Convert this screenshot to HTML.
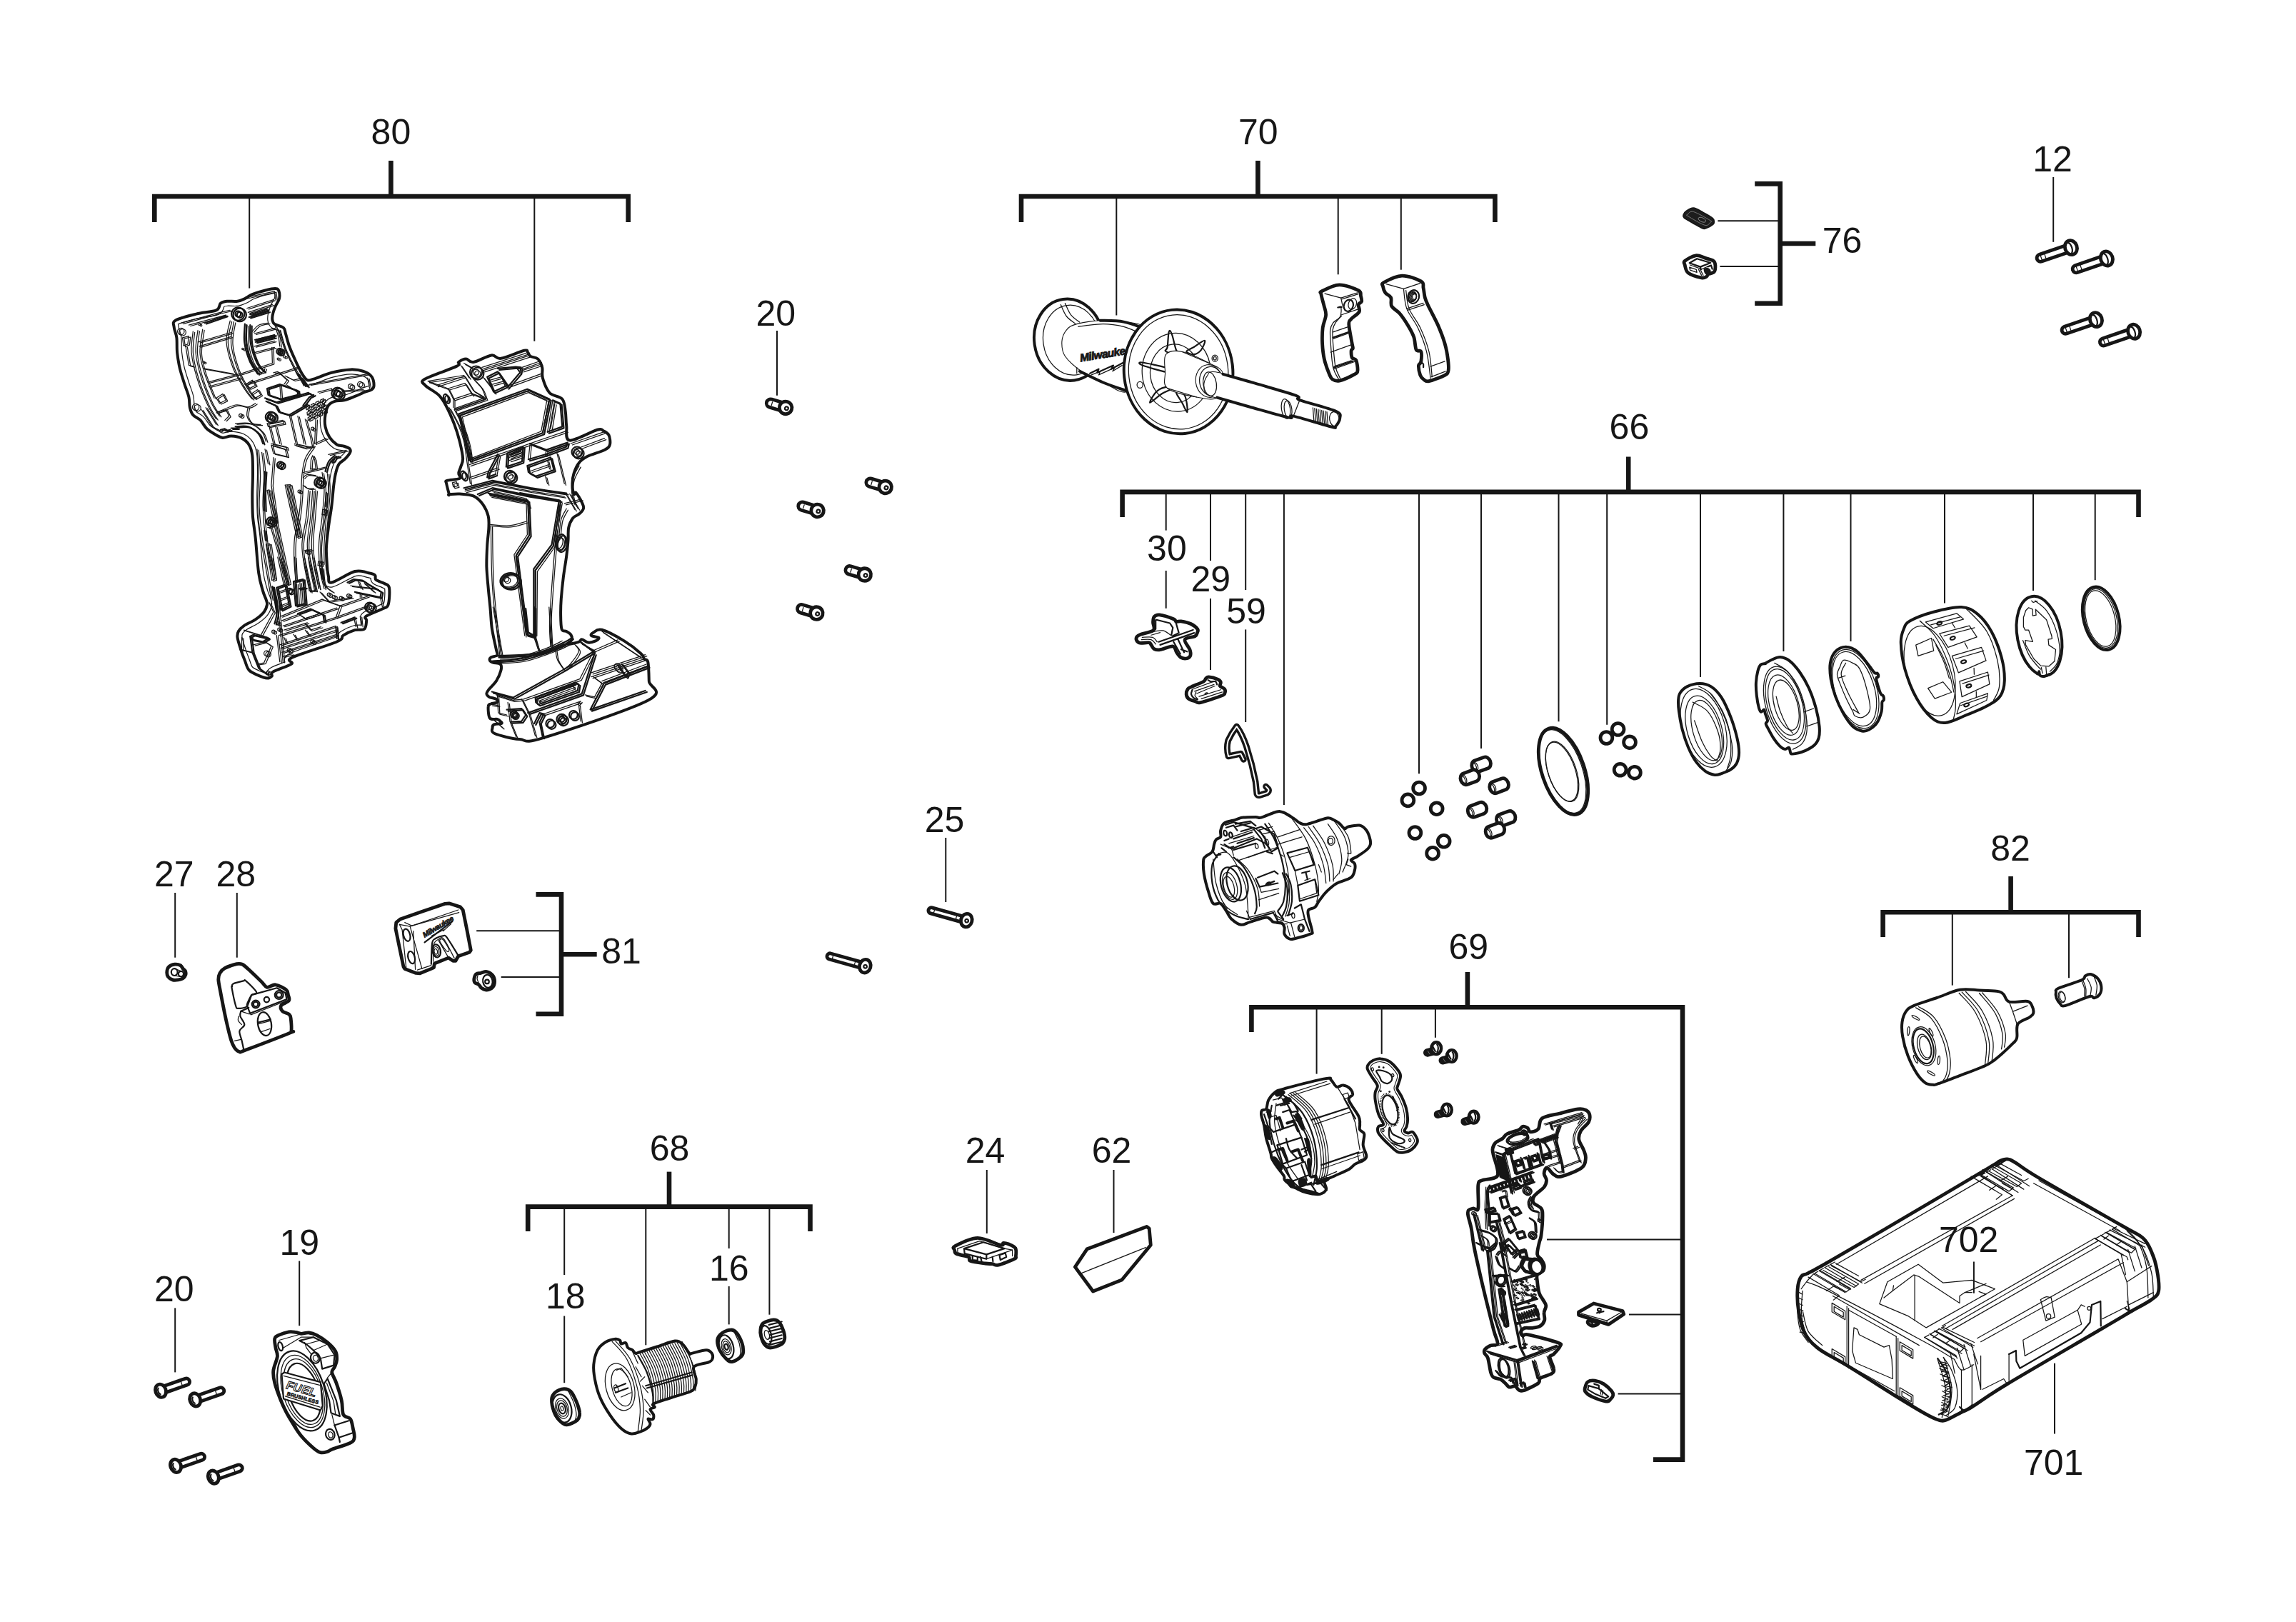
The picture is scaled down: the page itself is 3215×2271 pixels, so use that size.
<!DOCTYPE html>
<html><head><meta charset="utf-8"><title>Exploded view</title>
<style>
html,body{margin:0;padding:0;background:#fff;}
body{width:3215px;height:2271px;overflow:hidden;font-family:"Liberation Sans",sans-serif;}
svg{display:block}
text{font-family:"Liberation Sans",sans-serif;font-size:50px;fill:#161616;text-anchor:middle}
.k{fill:none;stroke:#161616;stroke-width:6.6;stroke-linecap:butt;stroke-linejoin:miter}
.n{fill:none;stroke:#161616;stroke-width:2.0}
.o{fill:#fff;stroke:#161616;stroke-width:4.0;stroke-linejoin:round;stroke-linecap:round}
.m{fill:none;stroke:#161616;stroke-width:2.2;stroke-linejoin:round;stroke-linecap:round}
.t{fill:none;stroke:#161616;stroke-width:1.25;stroke-linejoin:round;stroke-linecap:round}
.f{fill:#161616;stroke:none}
.o4{fill:#fff;stroke:#161616;stroke-width:4.8;stroke-linejoin:round;stroke-linecap:round}
.o,.o4,.m,.t,.w{vector-effect:non-scaling-stroke}
.w{fill:#fff;stroke:#161616;stroke-width:1.1;stroke-linejoin:round}
</style></head><body>
<svg width="3215" height="2271" viewBox="0 0 3215 2271">
<rect width="3215" height="2271" fill="#fff"/>
<!-- 00_defs.svg -->
<defs>
<g id="sA"><path class="o4" d="M0,-5.8H-22A5.8,5.8 0 0 0 -22,5.8H0Z"/><path class="t" d="M-20,-2.5V2.5"/><circle class="o4" r="8.8"/><circle class="m" cx="1.5" cy="0.5" r="2.4"/></g>
<g id="sB"><path class="o4" d="M0,-5.2H-45A5.2,5.2 0 0 0 -45,5.2H0Z"/><path class="t" d="M-38,-4V4M-44,-3V3"/><ellipse class="o4" rx="8.4" ry="10.2"/><path class="m" d="M-2.5,-8.5A5.5,9 0 0 1 -2.5,8.5"/></g>
<g id="sC"><path class="o4" d="M0,-4.2H-51A4.2,4.2 0 0 0 -51,4.2H0Z"/><path class="t" d="M-47,-2V2M-14,-3A2,3.5 0 0 0 -14,3"/><ellipse class="o4" rx="7.8" ry="9.4"/><circle class="m" cx="0.5" cy="0.5" r="2.3"/></g>
<g id="sD"><path class="o4" d="M0,-4.7H38A4.7,4.7 0 0 1 38,4.7H0Z"/><path class="t" d="M31,-3.5V3.5"/><ellipse class="o4" rx="7.3" ry="9.3"/><path class="m" d="M-2,-4.5A3,5 0 0 0 -2,4.5"/></g>
</defs>
<!-- 01_screws.svg -->
<g><use href="#sA" transform="translate(1100.1,570.9) rotate(16.6)"/>
<use href="#sA" transform="translate(1239.7,682) rotate(16.6)"/>
<use href="#sA" transform="translate(1144.6,715) rotate(16.6)"/>
<use href="#sA" transform="translate(1210.8,804.6) rotate(16.6)"/>
<use href="#sA" transform="translate(1143.4,858.6) rotate(16.6)"/>
<use href="#sB" transform="translate(2899.9,346.6) rotate(-18.9)"/>
<use href="#sB" transform="translate(2949.9,362) rotate(-18.9)"/>
<use href="#sB" transform="translate(2934.9,447.6) rotate(-18.9)"/>
<use href="#sB" transform="translate(2988.1,464.3) rotate(-18.9)"/>
<use href="#sC" transform="translate(1353.3,1288.6) rotate(15.6)"/>
<use href="#sC" transform="translate(1211.3,1352.7) rotate(15.6)"/>
<use href="#sD" transform="translate(225,1947.2) rotate(-19.3)"/>
<use href="#sD" transform="translate(273.2,1959.9) rotate(-19.3)"/>
<use href="#sD" transform="translate(246,2052.4) rotate(-19.3)"/>
<use href="#sD" transform="translate(298.8,2068.1) rotate(-19.3)"/></g>
<!-- 10_balls.svg -->
<circle class="o4" style="stroke-width:4.8" cx="1987.1" cy="1103.5" r="8.4"/><circle class="o4" style="stroke-width:4.8" cx="1971.4" cy="1120.4" r="8.4"/><circle class="o4" style="stroke-width:4.8" cx="2011.7" cy="1132.2" r="8.4"/><circle class="o4" style="stroke-width:4.8" cx="1981.4" cy="1166" r="8.4"/><circle class="o4" style="stroke-width:4.8" cx="2021.7" cy="1177.8" r="8.4"/><circle class="o4" style="stroke-width:4.8" cx="2006.1" cy="1194.7" r="8.4"/><circle class="o4" style="stroke-width:4.8" cx="2265.6" cy="1021" r="8.4"/><circle class="o4" style="stroke-width:4.8" cx="2249.4" cy="1033" r="8.4"/><circle class="o4" style="stroke-width:4.8" cx="2282" cy="1039.2" r="8.4"/><circle class="o4" style="stroke-width:4.8" cx="2268.6" cy="1077.8" r="8.4"/><circle class="o4" style="stroke-width:4.8" cx="2288.9" cy="1081.7" r="8.4"/><g transform="translate(2074.1,1070.4) rotate(-20)"><rect class="o4" x="-13.5" y="-8.3" width="27" height="16.6" rx="6.5" ry="8.3"/><path class="t" d="M-8.5,-6A3.2,6 0 0 1 -8.5,6M-10,-5.5A3,5.6 0 0 1 -10,5.5"/></g><g transform="translate(2058.3,1088.3) rotate(-20)"><rect class="o4" x="-13.5" y="-8.3" width="27" height="16.6" rx="6.5" ry="8.3"/><path class="t" d="M-8.5,-6A3.2,6 0 0 1 -8.5,6M-10,-5.5A3,5.6 0 0 1 -10,5.5"/></g><g transform="translate(2099.1,1100.2) rotate(-20)"><rect class="o4" x="-13.5" y="-8.3" width="27" height="16.6" rx="6.5" ry="8.3"/><path class="t" d="M-8.5,-6A3.2,6 0 0 1 -8.5,6M-10,-5.5A3,5.6 0 0 1 -10,5.5"/></g><g transform="translate(2068.5,1133.8) rotate(-20)"><rect class="o4" x="-13.5" y="-8.3" width="27" height="16.6" rx="6.5" ry="8.3"/><path class="t" d="M-8.5,-6A3.2,6 0 0 1 -8.5,6M-10,-5.5A3,5.6 0 0 1 -10,5.5"/></g><g transform="translate(2108.7,1145.9) rotate(-20)"><rect class="o4" x="-13.5" y="-8.3" width="27" height="16.6" rx="6.5" ry="8.3"/><path class="t" d="M-8.5,-6A3.2,6 0 0 1 -8.5,6M-10,-5.5A3,5.6 0 0 1 -10,5.5"/></g><g transform="translate(2093.4,1162.8) rotate(-20)"><rect class="o4" x="-13.5" y="-8.3" width="27" height="16.6" rx="6.5" ry="8.3"/><path class="t" d="M-8.5,-6A3.2,6 0 0 1 -8.5,6M-10,-5.5A3,5.6 0 0 1 -10,5.5"/></g><g transform="translate(2189,1079.8) rotate(-18.7)"><ellipse class="o4" rx="29.7" ry="63.2"/><ellipse class="t" cx="-1.2" rx="28" ry="61"/><ellipse class="t" cx="-1.5" cy="0" rx="19.5" ry="44"/><ellipse class="t" cx="-2.3" cy="0" rx="19" ry="43.2"/></g>
<!-- 11_rings.svg -->
<g transform="translate(2330,880) scale(0.16116)"><path class="o" d="M140,560C152.5,540.8 171.7,518.7 200,505C228.3,491.3 275,478 310,478C345,478 378.3,484.7 410,505C441.7,525.3 471.7,555.8 500,600C528.3,644.2 557.5,711.7 580,770C602.5,828.3 623,898.3 635,950C647,1001.7 652.5,1043.3 652,1080C651.5,1116.7 644,1145.8 632,1170C620,1194.2 602,1210 580,1225C558,1240 523.3,1252.2 500,1260C476.7,1267.8 463.3,1275.3 440,1272C416.7,1268.7 386.7,1258.7 360,1240C333.3,1221.3 305,1195 280,1160C255,1125 230,1076.7 210,1030C190,983.3 173.3,931.7 160,880C146.7,828.3 135.8,763.3 130,720C124.2,676.7 123.3,646.7 125,620C126.7,593.3 127.5,579.2 140,560Z"/><ellipse class="t" cx="345" cy="865" rx="185" ry="350" transform="rotate(-16 345 865)"/><ellipse class="t" cx="352" cy="880" rx="150" ry="305" transform="rotate(-16 352 880)"/><ellipse class="t" cx="370" cy="885" rx="118" ry="270" transform="rotate(-16 370 885)"/><path class="t" d="M300,500C320,513.3 381.7,533.3 420,580C458.3,626.7 501.7,710 530,780C558.3,850 580.8,938.3 590,1000C599.2,1061.7 593.3,1110.8 585,1150C576.7,1189.2 547.5,1220.8 540,1235"/><path class="t" d="M250,640C271.7,653.3 343.3,676.7 380,720C416.7,763.3 451.7,845 470,900C488.3,955 491.7,1008.3 490,1050C488.3,1091.7 465,1133.3 460,1150"/><path class="t" d="M265,800C275.8,830 307.5,930 330,980C352.5,1030 379.2,1071.7 400,1100C420.8,1128.3 445.8,1141.7 455,1150"/><path class="t" d="M400,560C418.3,586.7 481.7,663.3 510,720C538.3,776.7 558.3,836.7 570,900C581.7,963.3 583.3,1047.5 580,1100C576.7,1152.5 555,1195.8 550,1215"/><path class="o" d="M885,300C895,294.2 919.2,278.7 940,270C960.8,261.3 985,246.3 1010,248C1035,249.7 1061.7,258 1090,280C1118.3,302 1151.7,340 1180,380C1208.3,420 1236.7,468.3 1260,520C1283.3,571.7 1305,635 1320,690C1335,745 1345.8,806.7 1350,850C1354.2,893.3 1351.7,923.3 1345,950C1338.3,976.7 1329.2,991.7 1310,1010C1290.8,1028.3 1256.7,1047.5 1230,1060C1203.3,1072.5 1170.8,1080.3 1150,1085C1129.2,1089.7 1114.2,1092.2 1105,1088C1095.8,1083.8 1098.3,1068.8 1095,1060C1091.7,1051.2 1092.5,1037 1085,1035C1077.5,1033 1063.3,1050.5 1050,1048C1036.7,1045.5 1021.7,1036.3 1005,1020C988.3,1003.7 967.5,976.7 950,950C932.5,923.3 910.8,880.8 900,860C889.2,839.2 885,835 885,825C885,815 900.8,814.2 900,800C899.2,785.8 885,755.8 880,740C875,724.2 875.8,707.5 870,705C864.2,702.5 852.5,727.5 845,725C837.5,722.5 831.7,714.2 825,690C818.3,665.8 809.2,616.7 805,580C800.8,543.3 798.3,505 800,470C801.7,435 808.3,395.8 815,370C821.7,344.2 829.2,325.8 840,315C850.8,304.2 872.5,307.5 880,305C887.5,302.5 875,305.8 885,300Z"/><ellipse class="t" cx="1050" cy="665" rx="165" ry="345" transform="rotate(-16 1050 665)"/><ellipse class="t" cx="1045" cy="665" rx="125" ry="270" transform="rotate(-16 1045 665)"/><ellipse class="t" cx="1060" cy="665" rx="100" ry="225" transform="rotate(-16 1060 665)"/><ellipse class="t" cx="1050" cy="660" rx="150" ry="318" transform="rotate(-16 1050 660)"/><path class="t" d="M975,590C980.8,611.7 994.2,676.7 1010,720C1025.8,763.3 1051.7,818.3 1070,850C1088.3,881.7 1111.7,900 1120,910"/><path class="t" d="M1215,725L1300,695"/><path class="t" d="M1240,850L1340,815"/><path class="t" d="M960,300C980,313.3 1043.3,336.7 1080,380C1116.7,423.3 1154.2,496.7 1180,560C1205.8,623.3 1225,703.3 1235,760C1245,816.7 1245.8,860 1240,900C1234.2,940 1220,975 1200,1000C1180,1025 1133.3,1041.7 1120,1050"/><path class="o" d="M1445,300C1451.7,260 1467.5,223.3 1490,200C1512.5,176.7 1548.3,160 1580,160C1611.7,160 1646.7,173.3 1680,200C1713.3,226.7 1755,289.2 1780,320C1805,350.8 1817.5,373.3 1830,385C1842.5,396.7 1849.7,384.2 1855,390C1860.3,395.8 1863.7,411.7 1862,420C1860.3,428.3 1842,416.7 1845,440C1848,463.3 1870,535.8 1880,560C1890,584.2 1900,575 1905,585C1910,595 1911.7,610.8 1910,620C1908.3,629.2 1898.3,623.3 1895,640C1891.7,656.7 1897.5,690 1890,720C1882.5,750 1868.3,793.3 1850,820C1831.7,846.7 1801.7,868.3 1780,880C1758.3,891.7 1743.3,895 1720,890C1696.7,885 1666.7,875 1640,850C1613.3,825 1585,783.3 1560,740C1535,696.7 1508.3,640 1490,590C1471.7,540 1457.5,488.3 1450,440C1442.5,391.7 1438.3,340 1445,300Z"/><ellipse class="t" cx="1660" cy="525" rx="185" ry="355" transform="rotate(-18 1660 525)"/><ellipse class="t" cx="1655" cy="525" rx="170" ry="335" transform="rotate(-18 1655 525)"/><path class="t" d="M1560,275C1578.3,270 1616.7,287.5 1640,300C1663.3,312.5 1680,313.3 1700,350C1720,386.7 1745,461.7 1760,520C1775,578.3 1795,658.3 1790,700C1785,741.7 1751.7,760 1730,770C1708.3,780 1675,768.3 1660,760C1645,751.7 1653.3,746.7 1640,720C1626.7,693.3 1598.3,640 1580,600C1561.7,560 1542.5,513.3 1530,480C1517.5,446.7 1505,425 1505,400C1505,375 1520.8,350.8 1530,330C1539.2,309.2 1541.7,280 1560,275Z"/><path class="t" d="M1580,300C1573.3,316.7 1536.7,356.7 1540,400C1543.3,443.3 1575,505 1600,560C1625,615 1675,701.7 1690,730"/><path class="t" d="M1515,430L1575,410"/><path class="t" d="M1645,705L1700,740"/></g>
<!-- 12_collar.svg -->
<g transform="translate(2640,800) scale(0.16116)"><path class="o" d="M135,620C133.3,561.7 146.7,531.7 160,500C173.3,468.3 171.7,454.7 215,430C258.3,405.3 345.8,372 420,352C494.2,332 596.7,307 660,310C723.3,313 756.7,335 800,370C843.3,405 885,456.7 920,520C955,583.3 990.8,678.3 1010,750C1029.2,821.7 1036.7,895 1035,950C1033.3,1005 1022.5,1045 1000,1080C977.5,1115 950,1131.7 900,1160C850,1188.3 763.3,1224.2 700,1250C636.7,1275.8 570,1311.7 520,1315C470,1318.3 441.7,1305.8 400,1270C358.3,1234.2 308.3,1170 270,1100C231.7,1030 192.5,930 170,850C147.5,770 136.7,678.3 135,620Z"/><ellipse class="t" cx="385" cy="865" rx="205" ry="400" transform="rotate(-15 385 865)"/><path class="t" d="M300,430C321.7,451.7 390,501.7 430,560C470,618.3 511.7,706.7 540,780C568.3,853.3 588.3,933.3 600,1000C611.7,1066.7 611.7,1131.7 610,1180C608.3,1228.3 593.3,1271.7 590,1290"/><path class="t" d="M415,590C429.2,615 475.8,688.3 500,740C524.2,791.7 544.2,848.3 560,900C575.8,951.7 589.2,1025 595,1050"/><path class="t" d="M440,640C451.7,665 490.8,741.7 510,790C529.2,838.3 547.5,906.7 555,930"/><path class="t" d="M700,322C730,355 834.2,443.7 880,520C925.8,596.3 956.7,700 975,780C993.3,860 995.8,943.3 990,1000C984.2,1056.7 948.3,1100 940,1120"/><path class="t" d="M350,440L620,365L680,415L415,495Z"/><path class="t" d="M470,540L730,472L795,570L545,660Z"/><path class="t" d="M580,735L835,660L875,775L635,880Z"/><path class="t" d="M645,955L890,875L905,980L665,1090Z"/><path class="t" d="M650,1145L890,1060L880,1120L620,1240Z"/><path class="t" d="M395,465L655,395"/><path class="t" d="M510,560L775,490"/><path class="t" d="M610,760L855,690"/><path class="t" d="M670,975L900,900"/><path class="t" d="M655,1165L885,1085"/><path class="t" d="M265,640L400,580L420,690L285,735Z"/><path class="t" d="M370,1015L500,960L575,1050L430,1105Z"/><path class="t" d="M580,450L605,490M690,620L715,670M770,840L772,895M790,1045L790,1095"/><ellipse class="m" cx="470" cy="450" rx="22" ry="13" transform="rotate(-18 470 450)"/><ellipse class="m" cx="585" cy="580" rx="22" ry="13" transform="rotate(-18 585 580)"/><ellipse class="m" cx="680" cy="785" rx="22" ry="13" transform="rotate(-18 680 785)"/><ellipse class="m" cx="725" cy="995" rx="22" ry="13" transform="rotate(-18 725 995)"/><ellipse class="m" cx="705" cy="1160" rx="22" ry="13" transform="rotate(-18 705 1160)"/><ellipse class="o" cx="1337" cy="561" rx="190" ry="349" transform="rotate(-11 1337 561)"/><path class="o" d="M1335,870C1336.7,875.8 1337.5,898 1345,905C1352.5,912 1366.7,913.7 1380,912C1393.3,910.3 1417.5,897.8 1425,895"/><path class="t" d="M1245,315L1280,330L1280,385L1310,380L1305,330L1400,420L1445,560L1448,585L1415,590L1420,640L1480,680L1470,780L1420,825L1350,820L1290,760L1220,640L1215,600L1280,610L1245,510L1215,510L1200,480L1200,400L1220,340Z"/><path class="t" d="M1300,255C1316.7,269.2 1370,299.2 1400,340C1430,380.8 1460.8,443.3 1480,500C1499.2,556.7 1513.3,630 1515,680C1516.7,730 1504.2,768.3 1490,800C1475.8,831.7 1440,858.3 1430,870"/><path class="t" d="M1195,600C1204.2,621.7 1229.2,693.3 1250,730C1270.8,766.7 1303.3,800 1320,820C1336.7,840 1345,845 1350,850"/><path class="t" d="M1270,255L1285,270L1320,258M1355,835L1365,885M1395,830L1400,890"/></g>
<!-- 13_oring.svg -->
<g transform="translate(2942.2,865.8) rotate(-14)"><ellipse class="o" rx="24.7" ry="45.2"/><ellipse class="t" cx="-0.5" rx="22" ry="42.3"/><ellipse class="t" cx="-1" rx="20" ry="40"/></g>
<!-- 14_p30_29.svg -->
<g transform="translate(1570,840) scale(0.10480)"><path class="o4" d="M440,225C454.2,208.3 466.7,195 510,200C553.3,205 662.5,240 700,255C737.5,270 718.3,285 735,290C751.7,295 767.5,280 800,285C832.5,290 893.3,302.5 930,320C966.7,337.5 1005.8,370 1020,390C1034.2,410 1020.8,424.2 1015,440C1009.2,455.8 1012.5,470 985,485C957.5,500 861.7,500.8 850,530C838.3,559.2 902.5,625 915,660C927.5,695 930.8,720 925,740C919.2,760 900.8,775 880,780C859.2,785 823.3,783.3 800,770C776.7,756.7 758.3,725 740,700C721.7,675 726.7,625.8 690,620C653.3,614.2 561.7,659.2 520,665C478.3,670.8 460,665.8 440,655C420,644.2 411.7,614.2 400,600C388.3,585.8 395,574.2 370,570C345,565.8 277.5,580 250,575C222.5,570 211.7,554.2 205,540C198.3,525.8 200.8,503.3 210,490C219.2,476.7 223.3,474.2 260,460C296.7,445.8 402.5,431.7 430,405C457.5,378.3 423.3,330 425,300C426.7,270 425.8,241.7 440,225Z"/><path class="m" d="M470,265L650,310L690,370L670,470M460,270L460,390M500,560L960,400M520,600L975,440M730,300L770,440L690,480M760,530L840,700M700,560L790,720M800,660L880,690"/><path class="t" d="M280,500C303.3,500 386.7,490 420,500C453.3,510 470,550 480,560"/><path class="t" d="M270,530C291.7,530 368.3,520 400,530C431.7,540 450,580 460,590"/><path class="t" d="M440,420C460,418.3 523.3,401.7 560,410C596.7,418.3 643.3,460 660,470"/><path class="t" d="M400,470L520,435"/><path class="o4" d="M1130,1050C1141.7,1040 1143.3,1028.3 1170,1030C1196.7,1031.7 1263.3,1048.3 1290,1060C1316.7,1071.7 1325,1085 1330,1100C1335,1115 1311.7,1135 1320,1150C1328.3,1165 1369.2,1175 1380,1190C1390.8,1205 1391.7,1225 1385,1240C1378.3,1255 1394.2,1258.3 1340,1280C1285.8,1301.7 1118.3,1357.5 1060,1370C1001.7,1382.5 1016.7,1363.3 990,1355C963.3,1346.7 920,1335.8 900,1320C880,1304.2 871.7,1281.7 870,1260C868.3,1238.3 878.3,1206.7 890,1190C901.7,1173.3 905,1176.7 940,1160C975,1143.3 1068.3,1108.3 1100,1090C1131.7,1071.7 1118.3,1060 1130,1050Z"/><path class="t" d="M960,1190L1260,1080M980,1220L1240,1130M1010,1250L1250,1150M1040,1290L1330,1200M1070,1320L1350,1230"/><path class="m" d="M950,1200C947.5,1210 931.7,1241.7 935,1260C938.3,1278.3 955.8,1298.3 970,1310C984.2,1321.7 1011.7,1326.7 1020,1330"/><path class="t" d="M1000,1230C997.5,1238.3 981.7,1265 985,1280C988.3,1295 1014.2,1313.3 1020,1320"/><path class="m" d="M1160,1070C1166.7,1073.3 1183.3,1086.7 1200,1090C1216.7,1093.3 1246.7,1083.3 1260,1090C1273.3,1096.7 1276.7,1123.3 1280,1130"/><ellipse class="t" cx="1135" cy="1248" rx="18" ry="8" transform="rotate(-15 1135 1248)"/></g>
<!-- 15_p59.svg -->
<g transform="translate(1690,1000) scale(0.08016)"><path d="M375,735Q335,600 370,460Q430,330 520,215Q610,330 690,560Q790,870 850,1180L872,1390Q880,1425 920,1415L1050,1375Q1090,1350 1075,1310L1030,1262M375,735L590,690L640,790" fill="none" stroke="#161616" stroke-width="8.8" stroke-linecap="round" stroke-linejoin="round" vector-effect="non-scaling-stroke"/><path d="M375,735Q335,600 370,460Q430,330 520,215Q610,330 690,560Q790,870 850,1180L872,1390Q880,1425 920,1415L1050,1375Q1090,1350 1075,1310L1030,1262M375,735L590,690L640,790" fill="none" stroke="#fff" stroke-width="2" stroke-linecap="round" stroke-linejoin="round" vector-effect="non-scaling-stroke"/></g>
<!-- 20_hl.svg -->
<clipPath id="cphl"><path d="M245.9,448.5C251.1,445.4 265.3,442 274.8,439.6C284.3,437.3 297.2,436.9 302.9,434.4C308.6,432 306.4,426.9 308.8,424.8C311.3,422.7 313.8,422.3 317.7,421.8C321.7,421.3 328.3,422.5 332.5,421.8C336.7,421.2 339.5,419.7 342.9,418.1C346.4,416.5 348.3,414.2 353.3,412.2C358.2,410.2 367.1,407.6 372.5,406.3C378,404.9 382.9,403.9 385.9,404.1C388.8,404.2 389.4,404.7 390.3,407C391.2,409.4 391.8,414.6 391,418.1C390.3,421.7 387.3,425 385.9,428.5C384.4,432 382.9,435.7 382.2,438.9C381.4,442.1 381,445.3 381.4,447.8C381.8,450.2 381.8,451.8 384.4,453.7C387,455.5 394.4,456.6 397,458.9C399.5,461.1 398.6,462.7 399.9,467C401.3,471.3 402.8,478.4 405.1,484.8C407.4,491.2 411,499.1 414,505.5C416.9,511.9 420.2,518.8 422.9,523.3C425.6,527.7 427.6,530.9 430.3,532.2C433,533.4 433.5,532.4 439.2,530.7C444.8,529 455.7,524 464.3,521.8C473,519.6 483.3,517.6 491,517.4C498.6,517.1 505.3,518.6 510.2,520.3C515.2,522 518.4,524.5 520.6,527.7C522.8,530.9 523.6,536.6 523.6,539.6C523.6,542.5 522.8,543.9 520.6,545.5C518.4,547.1 513.9,547.7 510.2,549.2C506.5,550.7 503.1,552.5 498.4,554.4C493.7,556.2 487,559.1 482.1,560.3C477.2,561.5 472.5,560.5 468.8,561.8C465.1,563 462.1,564.5 459.9,567.7C457.7,570.9 456.2,576.1 455.5,581C454.7,586 454.5,592.1 455.5,597.3C456.4,602.5 458.7,607.9 461.4,612.1C464.1,616.3 468.5,620.4 471.7,622.5C474.9,624.5 477.7,623.5 480.6,624.4C483.6,625.4 487.9,626.7 489.5,628.1C491.1,629.6 491.2,631 490.3,633.3C489.3,635.7 486.2,639.5 483.6,642.2C481,644.9 476.9,646.4 474.7,649.6C472.5,652.8 471.5,656.5 470.3,661.5C469,666.4 468.3,671.3 467.3,679.2C466.3,687.1 465.6,699 464.3,708.8C463.1,718.7 461.1,728.6 459.9,738.5C458.7,748.3 457.2,758.2 456.9,768.1C456.7,778 458.3,793.7 458.4,797.7C458.5,801.7 457.4,790.4 457.7,791.8C457.9,793.3 458.8,802.7 459.9,806.7C461,810.6 458.2,816.7 464.3,815.5C470.5,814.4 488.3,802.2 496.9,800C505.6,797.8 511.5,801.3 516.2,802.2C520.9,803.1 523.3,803.6 525,805.2C526.8,806.8 524.3,809.9 526.5,811.8C528.8,813.8 535.3,815.2 538.4,817C541.5,818.9 544.2,818 545,822.9C545.9,827.9 545.2,841.7 543.6,846.6C542,851.6 540.6,849.8 535.4,852.6C530.2,855.3 516.2,860.2 512.5,862.9C508.8,865.6 513.6,865.9 513.2,868.8C512.8,871.8 513,878.5 510.2,880.7C507.5,882.9 501.9,880.7 496.9,882.2C492,883.7 484.8,886.9 480.6,889.6C476.4,892.3 483.7,893.3 471.7,898.5C459.8,903.6 419.4,915.5 408.8,920.7C398.2,925.9 412.5,926.2 408.1,929.6C403.6,932.9 386.7,937.8 382.2,940.7C377.6,943.5 382,945.1 380.7,946.6C379.3,948.1 377.1,949.7 374,949.6C370.9,949.4 366.4,947.7 362.2,945.9C358,944 352,941.9 348.8,938.4C345.6,935 344.9,930.1 342.9,925.1C340.9,920.2 338.7,914.3 337,908.8C335.3,903.4 333,896.7 332.5,892.5C332,888.3 332.5,886.4 334,883.7C335.5,880.9 337.5,879 341.4,876.3C345.4,873.5 353,870.6 357.7,867.4C362.4,864.2 366.8,860.5 369.6,857C372.3,853.5 373.5,849.6 374,846.6C374.5,843.7 373.5,842.4 372.5,839.2C371.5,836 369.8,833.6 368.1,827.4C366.4,821.2 363.9,814.6 362.2,802.2C360.4,789.9 359.1,766.4 357.7,753.3C356.4,740.2 354.8,733.5 354,723.7C353.3,713.8 353.3,703.9 353.3,694C353.3,684.2 354,673.8 354,664.4C354,655 354.1,644.7 353.3,637.8C352.4,630.9 351.3,627 348.8,623C346.4,618.9 342.7,615.7 338.5,613.6C334.3,611.6 328.1,610.8 323.7,610.6C319.2,610.5 315.3,613.1 311.8,612.9C308.4,612.6 306.6,611.3 302.9,609.2C299.2,607.1 293.3,603.7 289.6,600.3C285.9,596.8 283.9,591.6 280.7,588.4C277.5,585.2 272.8,584 270.3,581C267.9,578.1 266.9,574.9 265.9,570.7C264.9,566.5 265.7,561.3 264.4,555.9C263.2,550.4 260.6,544.7 258.5,538.1C256.4,531.4 253.6,523.3 251.8,515.9C250.1,508.5 248.9,500.8 248.1,493.7C247.4,486.5 248.1,478.8 247.4,472.9C246.7,467 243.9,462.2 243.7,458.1C243.4,454 240.7,451.6 245.9,448.5Z"/></clipPath><path d="M245.9,448.5C251.1,445.4 265.3,442 274.8,439.6C284.3,437.3 297.2,436.9 302.9,434.4C308.6,432 306.4,426.9 308.8,424.8C311.3,422.7 313.8,422.3 317.7,421.8C321.7,421.3 328.3,422.5 332.5,421.8C336.7,421.2 339.5,419.7 342.9,418.1C346.4,416.5 348.3,414.2 353.3,412.2C358.2,410.2 367.1,407.6 372.5,406.3C378,404.9 382.9,403.9 385.9,404.1C388.8,404.2 389.4,404.7 390.3,407C391.2,409.4 391.8,414.6 391,418.1C390.3,421.7 387.3,425 385.9,428.5C384.4,432 382.9,435.7 382.2,438.9C381.4,442.1 381,445.3 381.4,447.8C381.8,450.2 381.8,451.8 384.4,453.7C387,455.5 394.4,456.6 397,458.9C399.5,461.1 398.6,462.7 399.9,467C401.3,471.3 402.8,478.4 405.1,484.8C407.4,491.2 411,499.1 414,505.5C416.9,511.9 420.2,518.8 422.9,523.3C425.6,527.7 427.6,530.9 430.3,532.2C433,533.4 433.5,532.4 439.2,530.7C444.8,529 455.7,524 464.3,521.8C473,519.6 483.3,517.6 491,517.4C498.6,517.1 505.3,518.6 510.2,520.3C515.2,522 518.4,524.5 520.6,527.7C522.8,530.9 523.6,536.6 523.6,539.6C523.6,542.5 522.8,543.9 520.6,545.5C518.4,547.1 513.9,547.7 510.2,549.2C506.5,550.7 503.1,552.5 498.4,554.4C493.7,556.2 487,559.1 482.1,560.3C477.2,561.5 472.5,560.5 468.8,561.8C465.1,563 462.1,564.5 459.9,567.7C457.7,570.9 456.2,576.1 455.5,581C454.7,586 454.5,592.1 455.5,597.3C456.4,602.5 458.7,607.9 461.4,612.1C464.1,616.3 468.5,620.4 471.7,622.5C474.9,624.5 477.7,623.5 480.6,624.4C483.6,625.4 487.9,626.7 489.5,628.1C491.1,629.6 491.2,631 490.3,633.3C489.3,635.7 486.2,639.5 483.6,642.2C481,644.9 476.9,646.4 474.7,649.6C472.5,652.8 471.5,656.5 470.3,661.5C469,666.4 468.3,671.3 467.3,679.2C466.3,687.1 465.6,699 464.3,708.8C463.1,718.7 461.1,728.6 459.9,738.5C458.7,748.3 457.2,758.2 456.9,768.1C456.7,778 458.3,793.7 458.4,797.7C458.5,801.7 457.4,790.4 457.7,791.8C457.9,793.3 458.8,802.7 459.9,806.7C461,810.6 458.2,816.7 464.3,815.5C470.5,814.4 488.3,802.2 496.9,800C505.6,797.8 511.5,801.3 516.2,802.2C520.9,803.1 523.3,803.6 525,805.2C526.8,806.8 524.3,809.9 526.5,811.8C528.8,813.8 535.3,815.2 538.4,817C541.5,818.9 544.2,818 545,822.9C545.9,827.9 545.2,841.7 543.6,846.6C542,851.6 540.6,849.8 535.4,852.6C530.2,855.3 516.2,860.2 512.5,862.9C508.8,865.6 513.6,865.9 513.2,868.8C512.8,871.8 513,878.5 510.2,880.7C507.5,882.9 501.9,880.7 496.9,882.2C492,883.7 484.8,886.9 480.6,889.6C476.4,892.3 483.7,893.3 471.7,898.5C459.8,903.6 419.4,915.5 408.8,920.7C398.2,925.9 412.5,926.2 408.1,929.6C403.6,932.9 386.7,937.8 382.2,940.7C377.6,943.5 382,945.1 380.7,946.6C379.3,948.1 377.1,949.7 374,949.6C370.9,949.4 366.4,947.7 362.2,945.9C358,944 352,941.9 348.8,938.4C345.6,935 344.9,930.1 342.9,925.1C340.9,920.2 338.7,914.3 337,908.8C335.3,903.4 333,896.7 332.5,892.5C332,888.3 332.5,886.4 334,883.7C335.5,880.9 337.5,879 341.4,876.3C345.4,873.5 353,870.6 357.7,867.4C362.4,864.2 366.8,860.5 369.6,857C372.3,853.5 373.5,849.6 374,846.6C374.5,843.7 373.5,842.4 372.5,839.2C371.5,836 369.8,833.6 368.1,827.4C366.4,821.2 363.9,814.6 362.2,802.2C360.4,789.9 359.1,766.4 357.7,753.3C356.4,740.2 354.8,733.5 354,723.7C353.3,713.8 353.3,703.9 353.3,694C353.3,684.2 354,673.8 354,664.4C354,655 354.1,644.7 353.3,637.8C352.4,630.9 351.3,627 348.8,623C346.4,618.9 342.7,615.7 338.5,613.6C334.3,611.6 328.1,610.8 323.7,610.6C319.2,610.5 315.3,613.1 311.8,612.9C308.4,612.6 306.6,611.3 302.9,609.2C299.2,607.1 293.3,603.7 289.6,600.3C285.9,596.8 283.9,591.6 280.7,588.4C277.5,585.2 272.8,584 270.3,581C267.9,578.1 266.9,574.9 265.9,570.7C264.9,566.5 265.7,561.3 264.4,555.9C263.2,550.4 260.6,544.7 258.5,538.1C256.4,531.4 253.6,523.3 251.8,515.9C250.1,508.5 248.9,500.8 248.1,493.7C247.4,486.5 248.1,478.8 247.4,472.9C246.7,467 243.9,462.2 243.7,458.1C243.4,454 240.7,451.6 245.9,448.5Z" fill="#fff" stroke="none"/><g clip-path="url(#cphl)"><path d="M245.9,448.5C251.1,445.4 265.3,442 274.8,439.6C284.3,437.3 297.2,436.9 302.9,434.4C308.6,432 306.4,426.9 308.8,424.8C311.3,422.7 313.8,422.3 317.7,421.8C321.7,421.3 328.3,422.5 332.5,421.8C336.7,421.2 339.5,419.7 342.9,418.1C346.4,416.5 348.3,414.2 353.3,412.2C358.2,410.2 367.1,407.6 372.5,406.3C378,404.9 382.9,403.9 385.9,404.1C388.8,404.2 389.4,404.7 390.3,407C391.2,409.4 391.8,414.6 391,418.1C390.3,421.7 387.3,425 385.9,428.5C384.4,432 382.9,435.7 382.2,438.9C381.4,442.1 381,445.3 381.4,447.8C381.8,450.2 381.8,451.8 384.4,453.7C387,455.5 394.4,456.6 397,458.9C399.5,461.1 398.6,462.7 399.9,467C401.3,471.3 402.8,478.4 405.1,484.8C407.4,491.2 411,499.1 414,505.5C416.9,511.9 420.2,518.8 422.9,523.3C425.6,527.7 427.6,530.9 430.3,532.2C433,533.4 433.5,532.4 439.2,530.7C444.8,529 455.7,524 464.3,521.8C473,519.6 483.3,517.6 491,517.4C498.6,517.1 505.3,518.6 510.2,520.3C515.2,522 518.4,524.5 520.6,527.7C522.8,530.9 523.6,536.6 523.6,539.6C523.6,542.5 522.8,543.9 520.6,545.5C518.4,547.1 513.9,547.7 510.2,549.2C506.5,550.7 503.1,552.5 498.4,554.4C493.7,556.2 487,559.1 482.1,560.3C477.2,561.5 472.5,560.5 468.8,561.8C465.1,563 462.1,564.5 459.9,567.7C457.7,570.9 456.2,576.1 455.5,581C454.7,586 454.5,592.1 455.5,597.3C456.4,602.5 458.7,607.9 461.4,612.1C464.1,616.3 468.5,620.4 471.7,622.5C474.9,624.5 477.7,623.5 480.6,624.4C483.6,625.4 487.9,626.7 489.5,628.1C491.1,629.6 491.2,631 490.3,633.3C489.3,635.7 486.2,639.5 483.6,642.2C481,644.9 476.9,646.4 474.7,649.6C472.5,652.8 471.5,656.5 470.3,661.5C469,666.4 468.3,671.3 467.3,679.2C466.3,687.1 465.6,699 464.3,708.8C463.1,718.7 461.1,728.6 459.9,738.5C458.7,748.3 457.2,758.2 456.9,768.1C456.7,778 458.3,793.7 458.4,797.7C458.5,801.7 457.4,790.4 457.7,791.8C457.9,793.3 458.8,802.7 459.9,806.7C461,810.6 458.2,816.7 464.3,815.5C470.5,814.4 488.3,802.2 496.9,800C505.6,797.8 511.5,801.3 516.2,802.2C520.9,803.1 523.3,803.6 525,805.2C526.8,806.8 524.3,809.9 526.5,811.8C528.8,813.8 535.3,815.2 538.4,817C541.5,818.9 544.2,818 545,822.9C545.9,827.9 545.2,841.7 543.6,846.6C542,851.6 540.6,849.8 535.4,852.6C530.2,855.3 516.2,860.2 512.5,862.9C508.8,865.6 513.6,865.9 513.2,868.8C512.8,871.8 513,878.5 510.2,880.7C507.5,882.9 501.9,880.7 496.9,882.2C492,883.7 484.8,886.9 480.6,889.6C476.4,892.3 483.7,893.3 471.7,898.5C459.8,903.6 419.4,915.5 408.8,920.7C398.2,925.9 412.5,926.2 408.1,929.6C403.6,932.9 386.7,937.8 382.2,940.7C377.6,943.5 382,945.1 380.7,946.6C379.3,948.1 377.1,949.7 374,949.6C370.9,949.4 366.4,947.7 362.2,945.9C358,944 352,941.9 348.8,938.4C345.6,935 344.9,930.1 342.9,925.1C340.9,920.2 338.7,914.3 337,908.8C335.3,903.4 333,896.7 332.5,892.5C332,888.3 332.5,886.4 334,883.7C335.5,880.9 337.5,879 341.4,876.3C345.4,873.5 353,870.6 357.7,867.4C362.4,864.2 366.8,860.5 369.6,857C372.3,853.5 373.5,849.6 374,846.6C374.5,843.7 373.5,842.4 372.5,839.2C371.5,836 369.8,833.6 368.1,827.4C366.4,821.2 363.9,814.6 362.2,802.2C360.4,789.9 359.1,766.4 357.7,753.3C356.4,740.2 354.8,733.5 354,723.7C353.3,713.8 353.3,703.9 353.3,694C353.3,684.2 354,673.8 354,664.4C354,655 354.1,644.7 353.3,637.8C352.4,630.9 351.3,627 348.8,623C346.4,618.9 342.7,615.7 338.5,613.6C334.3,611.6 328.1,610.8 323.7,610.6C319.2,610.5 315.3,613.1 311.8,612.9C308.4,612.6 306.6,611.3 302.9,609.2C299.2,607.1 293.3,603.7 289.6,600.3C285.9,596.8 283.9,591.6 280.7,588.4C277.5,585.2 272.8,584 270.3,581C267.9,578.1 266.9,574.9 265.9,570.7C264.9,566.5 265.7,561.3 264.4,555.9C263.2,550.4 260.6,544.7 258.5,538.1C256.4,531.4 253.6,523.3 251.8,515.9C250.1,508.5 248.9,500.8 248.1,493.7C247.4,486.5 248.1,478.8 247.4,472.9C246.7,467 243.9,462.2 243.7,458.1C243.4,454 240.7,451.6 245.9,448.5Z" fill="none" stroke="#161616" stroke-width="14.2" stroke-linejoin="round"/><path d="M245.9,448.5C251.1,445.4 265.3,442 274.8,439.6C284.3,437.3 297.2,436.9 302.9,434.4C308.6,432 306.4,426.9 308.8,424.8C311.3,422.7 313.8,422.3 317.7,421.8C321.7,421.3 328.3,422.5 332.5,421.8C336.7,421.2 339.5,419.7 342.9,418.1C346.4,416.5 348.3,414.2 353.3,412.2C358.2,410.2 367.1,407.6 372.5,406.3C378,404.9 382.9,403.9 385.9,404.1C388.8,404.2 389.4,404.7 390.3,407C391.2,409.4 391.8,414.6 391,418.1C390.3,421.7 387.3,425 385.9,428.5C384.4,432 382.9,435.7 382.2,438.9C381.4,442.1 381,445.3 381.4,447.8C381.8,450.2 381.8,451.8 384.4,453.7C387,455.5 394.4,456.6 397,458.9C399.5,461.1 398.6,462.7 399.9,467C401.3,471.3 402.8,478.4 405.1,484.8C407.4,491.2 411,499.1 414,505.5C416.9,511.9 420.2,518.8 422.9,523.3C425.6,527.7 427.6,530.9 430.3,532.2C433,533.4 433.5,532.4 439.2,530.7C444.8,529 455.7,524 464.3,521.8C473,519.6 483.3,517.6 491,517.4C498.6,517.1 505.3,518.6 510.2,520.3C515.2,522 518.4,524.5 520.6,527.7C522.8,530.9 523.6,536.6 523.6,539.6C523.6,542.5 522.8,543.9 520.6,545.5C518.4,547.1 513.9,547.7 510.2,549.2C506.5,550.7 503.1,552.5 498.4,554.4C493.7,556.2 487,559.1 482.1,560.3C477.2,561.5 472.5,560.5 468.8,561.8C465.1,563 462.1,564.5 459.9,567.7C457.7,570.9 456.2,576.1 455.5,581C454.7,586 454.5,592.1 455.5,597.3C456.4,602.5 458.7,607.9 461.4,612.1C464.1,616.3 468.5,620.4 471.7,622.5C474.9,624.5 477.7,623.5 480.6,624.4C483.6,625.4 487.9,626.7 489.5,628.1C491.1,629.6 491.2,631 490.3,633.3C489.3,635.7 486.2,639.5 483.6,642.2C481,644.9 476.9,646.4 474.7,649.6C472.5,652.8 471.5,656.5 470.3,661.5C469,666.4 468.3,671.3 467.3,679.2C466.3,687.1 465.6,699 464.3,708.8C463.1,718.7 461.1,728.6 459.9,738.5C458.7,748.3 457.2,758.2 456.9,768.1C456.7,778 458.3,793.7 458.4,797.7C458.5,801.7 457.4,790.4 457.7,791.8C457.9,793.3 458.8,802.7 459.9,806.7C461,810.6 458.2,816.7 464.3,815.5C470.5,814.4 488.3,802.2 496.9,800C505.6,797.8 511.5,801.3 516.2,802.2C520.9,803.1 523.3,803.6 525,805.2C526.8,806.8 524.3,809.9 526.5,811.8C528.8,813.8 535.3,815.2 538.4,817C541.5,818.9 544.2,818 545,822.9C545.9,827.9 545.2,841.7 543.6,846.6C542,851.6 540.6,849.8 535.4,852.6C530.2,855.3 516.2,860.2 512.5,862.9C508.8,865.6 513.6,865.9 513.2,868.8C512.8,871.8 513,878.5 510.2,880.7C507.5,882.9 501.9,880.7 496.9,882.2C492,883.7 484.8,886.9 480.6,889.6C476.4,892.3 483.7,893.3 471.7,898.5C459.8,903.6 419.4,915.5 408.8,920.7C398.2,925.9 412.5,926.2 408.1,929.6C403.6,932.9 386.7,937.8 382.2,940.7C377.6,943.5 382,945.1 380.7,946.6C379.3,948.1 377.1,949.7 374,949.6C370.9,949.4 366.4,947.7 362.2,945.9C358,944 352,941.9 348.8,938.4C345.6,935 344.9,930.1 342.9,925.1C340.9,920.2 338.7,914.3 337,908.8C335.3,903.4 333,896.7 332.5,892.5C332,888.3 332.5,886.4 334,883.7C335.5,880.9 337.5,879 341.4,876.3C345.4,873.5 353,870.6 357.7,867.4C362.4,864.2 366.8,860.5 369.6,857C372.3,853.5 373.5,849.6 374,846.6C374.5,843.7 373.5,842.4 372.5,839.2C371.5,836 369.8,833.6 368.1,827.4C366.4,821.2 363.9,814.6 362.2,802.2C360.4,789.9 359.1,766.4 357.7,753.3C356.4,740.2 354.8,733.5 354,723.7C353.3,713.8 353.3,703.9 353.3,694C353.3,684.2 354,673.8 354,664.4C354,655 354.1,644.7 353.3,637.8C352.4,630.9 351.3,627 348.8,623C346.4,618.9 342.7,615.7 338.5,613.6C334.3,611.6 328.1,610.8 323.7,610.6C319.2,610.5 315.3,613.1 311.8,612.9C308.4,612.6 306.6,611.3 302.9,609.2C299.2,607.1 293.3,603.7 289.6,600.3C285.9,596.8 283.9,591.6 280.7,588.4C277.5,585.2 272.8,584 270.3,581C267.9,578.1 266.9,574.9 265.9,570.7C264.9,566.5 265.7,561.3 264.4,555.9C263.2,550.4 260.6,544.7 258.5,538.1C256.4,531.4 253.6,523.3 251.8,515.9C250.1,508.5 248.9,500.8 248.1,493.7C247.4,486.5 248.1,478.8 247.4,472.9C246.7,467 243.9,462.2 243.7,458.1C243.4,454 240.7,451.6 245.9,448.5Z" fill="none" stroke="#fff" stroke-width="11.8" stroke-linejoin="round"/></g><path class="o" style="fill:none" d="M245.9,448.5C251.1,445.4 265.3,442 274.8,439.6C284.3,437.3 297.2,436.9 302.9,434.4C308.6,432 306.4,426.9 308.8,424.8C311.3,422.7 313.8,422.3 317.7,421.8C321.7,421.3 328.3,422.5 332.5,421.8C336.7,421.2 339.5,419.7 342.9,418.1C346.4,416.5 348.3,414.2 353.3,412.2C358.2,410.2 367.1,407.6 372.5,406.3C378,404.9 382.9,403.9 385.9,404.1C388.8,404.2 389.4,404.7 390.3,407C391.2,409.4 391.8,414.6 391,418.1C390.3,421.7 387.3,425 385.9,428.5C384.4,432 382.9,435.7 382.2,438.9C381.4,442.1 381,445.3 381.4,447.8C381.8,450.2 381.8,451.8 384.4,453.7C387,455.5 394.4,456.6 397,458.9C399.5,461.1 398.6,462.7 399.9,467C401.3,471.3 402.8,478.4 405.1,484.8C407.4,491.2 411,499.1 414,505.5C416.9,511.9 420.2,518.8 422.9,523.3C425.6,527.7 427.6,530.9 430.3,532.2C433,533.4 433.5,532.4 439.2,530.7C444.8,529 455.7,524 464.3,521.8C473,519.6 483.3,517.6 491,517.4C498.6,517.1 505.3,518.6 510.2,520.3C515.2,522 518.4,524.5 520.6,527.7C522.8,530.9 523.6,536.6 523.6,539.6C523.6,542.5 522.8,543.9 520.6,545.5C518.4,547.1 513.9,547.7 510.2,549.2C506.5,550.7 503.1,552.5 498.4,554.4C493.7,556.2 487,559.1 482.1,560.3C477.2,561.5 472.5,560.5 468.8,561.8C465.1,563 462.1,564.5 459.9,567.7C457.7,570.9 456.2,576.1 455.5,581C454.7,586 454.5,592.1 455.5,597.3C456.4,602.5 458.7,607.9 461.4,612.1C464.1,616.3 468.5,620.4 471.7,622.5C474.9,624.5 477.7,623.5 480.6,624.4C483.6,625.4 487.9,626.7 489.5,628.1C491.1,629.6 491.2,631 490.3,633.3C489.3,635.7 486.2,639.5 483.6,642.2C481,644.9 476.9,646.4 474.7,649.6C472.5,652.8 471.5,656.5 470.3,661.5C469,666.4 468.3,671.3 467.3,679.2C466.3,687.1 465.6,699 464.3,708.8C463.1,718.7 461.1,728.6 459.9,738.5C458.7,748.3 457.2,758.2 456.9,768.1C456.7,778 458.3,793.7 458.4,797.7C458.5,801.7 457.4,790.4 457.7,791.8C457.9,793.3 458.8,802.7 459.9,806.7C461,810.6 458.2,816.7 464.3,815.5C470.5,814.4 488.3,802.2 496.9,800C505.6,797.8 511.5,801.3 516.2,802.2C520.9,803.1 523.3,803.6 525,805.2C526.8,806.8 524.3,809.9 526.5,811.8C528.8,813.8 535.3,815.2 538.4,817C541.5,818.9 544.2,818 545,822.9C545.9,827.9 545.2,841.7 543.6,846.6C542,851.6 540.6,849.8 535.4,852.6C530.2,855.3 516.2,860.2 512.5,862.9C508.8,865.6 513.6,865.9 513.2,868.8C512.8,871.8 513,878.5 510.2,880.7C507.5,882.9 501.9,880.7 496.9,882.2C492,883.7 484.8,886.9 480.6,889.6C476.4,892.3 483.7,893.3 471.7,898.5C459.8,903.6 419.4,915.5 408.8,920.7C398.2,925.9 412.5,926.2 408.1,929.6C403.6,932.9 386.7,937.8 382.2,940.7C377.6,943.5 382,945.1 380.7,946.6C379.3,948.1 377.1,949.7 374,949.6C370.9,949.4 366.4,947.7 362.2,945.9C358,944 352,941.9 348.8,938.4C345.6,935 344.9,930.1 342.9,925.1C340.9,920.2 338.7,914.3 337,908.8C335.3,903.4 333,896.7 332.5,892.5C332,888.3 332.5,886.4 334,883.7C335.5,880.9 337.5,879 341.4,876.3C345.4,873.5 353,870.6 357.7,867.4C362.4,864.2 366.8,860.5 369.6,857C372.3,853.5 373.5,849.6 374,846.6C374.5,843.7 373.5,842.4 372.5,839.2C371.5,836 369.8,833.6 368.1,827.4C366.4,821.2 363.9,814.6 362.2,802.2C360.4,789.9 359.1,766.4 357.7,753.3C356.4,740.2 354.8,733.5 354,723.7C353.3,713.8 353.3,703.9 353.3,694C353.3,684.2 354,673.8 354,664.4C354,655 354.1,644.7 353.3,637.8C352.4,630.9 351.3,627 348.8,623C346.4,618.9 342.7,615.7 338.5,613.6C334.3,611.6 328.1,610.8 323.7,610.6C319.2,610.5 315.3,613.1 311.8,612.9C308.4,612.6 306.6,611.3 302.9,609.2C299.2,607.1 293.3,603.7 289.6,600.3C285.9,596.8 283.9,591.6 280.7,588.4C277.5,585.2 272.8,584 270.3,581C267.9,578.1 266.9,574.9 265.9,570.7C264.9,566.5 265.7,561.3 264.4,555.9C263.2,550.4 260.6,544.7 258.5,538.1C256.4,531.4 253.6,523.3 251.8,515.9C250.1,508.5 248.9,500.8 248.1,493.7C247.4,486.5 248.1,478.8 247.4,472.9C246.7,467 243.9,462.2 243.7,458.1C243.4,454 240.7,451.6 245.9,448.5Z"/><g id="hld"><path class="t" d="M254.1,452.2C262.2,450 291.6,441.8 302.9,438.9C314.3,435.9 319,435.2 322.2,434.4"/><path class="t" d="M264.4,455.2L316.3,441.1"/><path class="t" d="M345.9,431.5L382.9,419.6"/><path class="t" d="M347.4,437.4L381.4,426.3"/><path class="m" d="M286.6,452.2L316.3,441.8"/><path class="m" d="M350.3,440.3L374,432.9"/><path class="m" d="M348.8,444.1L375.5,435.9"/><path class="t" d="M344.4,416.7L384.4,407.8L385.9,419.6"/><circle class="m" cx="333.3" cy="439.6" r="9.2"/><circle class="m" cx="333.3" cy="439.6" r="3.9"/><circle class="m" cx="379.2" cy="584" r="7.4"/><circle class="m" cx="379.2" cy="584" r="3.3"/><circle class="m" cx="472.5" cy="550.7" r="8.1"/><circle class="m" cx="472.5" cy="550.7" r="4"/><circle class="m" cx="391.8" cy="492.2" r="4.4"/><circle class="m" cx="391.8" cy="492.2" r="2.1"/><circle class="t" cx="253.3" cy="464" r="4.7"/><circle class="t" cx="274.1" cy="569.9" r="4.7"/><circle class="t" cx="337" cy="581.8" r="2.4"/><circle class="t" cx="491" cy="541" r="3.3"/><circle class="t" cx="504.3" cy="538.1" r="3.7"/><circle class="t" cx="389.6" cy="502.5" r="1.5"/><circle class="t" cx="398.4" cy="499.6" r="1.5"/><circle class="t" cx="437.7" cy="600.3" r="2.1"/><circle class="t" cx="285.2" cy="507" r="1.2"/><circle class="t" cx="339.9" cy="488.5" r="1.2"/><circle class="t" cx="279.2" cy="454.4" r="1.2"/><path class="t" d="M270.3,464C270,469 267.1,482.6 268.1,493.7C269.1,504.8 272.4,518.3 276.3,530.7C280.1,543 286.6,558.3 291.1,567.7C295.5,577.1 301,583.7 302.9,586.9"/><path class="t" d="M277,462.6C276.5,467.7 273.3,482.8 274.1,493.7C274.8,504.5 277.9,516.1 281.5,527.7C285,539.3 291.2,554.1 295.5,563.3C299.8,572.4 305.4,579.3 307.4,582.5"/><path class="t" d="M283.7,461.1C283.1,466.5 279.5,483.3 280,493.7C280.5,504 283.3,512.7 286.6,523.3C290,533.9 297.7,551.7 300,557.3"/><path class="t" d="M322.2,449.2C321.3,454.2 316.3,467.7 317,478.8C317.7,490 322.3,504.8 326.6,515.9C330.9,527 338.5,538.3 342.9,545.5C347.4,552.6 351.5,556.6 353.3,558.8"/><path class="t" d="M327.4,450.7C326.7,455.9 322.5,470.2 323.7,481.8C324.8,493.4 329.6,509 334,520.3C338.5,531.7 346.4,543.8 350.3,549.9C354.3,556.1 356.5,556.1 357.7,557.3"/><path class="m" d="M342.9,453.7C342.8,457.9 341.1,470.2 342.2,478.8C343.3,487.5 346.5,498.1 349.6,505.5C352.7,512.9 358.8,520.3 360.7,523.3"/><path class="m" d="M350.3,455.2C350.4,459.6 349.4,472.9 351.1,481.8C352.7,490.7 356.9,502 359.9,508.5C363,514.9 368,518.3 369.6,520.3"/><path class="t" d="M345.9,455.2C345.9,459.4 344.6,471.7 345.9,480.3C347.1,489 350.2,500.1 353.3,507C356.4,513.9 362.5,519.3 364.4,521.8"/><path class="t" d="M360.7,523.3L369.6,520.3L371,515.9"/><path class="t" d="M277.8,478.8L323.7,465.5"/><path class="t" d="M279.2,484.8L323.7,471.4"/><path class="t" d="M291.1,535.1L335.5,523.3"/><path class="t" d="M292.6,541L337,529.2"/><path class="t" d="M285.2,515.9L326.6,523.3"/><path class="t" d="M337,523.3L381.4,508.5L380.7,486.3"/><path class="t" d="M342.9,538.1L416.9,514.4"/><path class="t" d="M255.5,472.9L264.4,470.7L262.9,481.8L257,484Z"/><path class="t" d="M260,484.8L264.4,511.4L270.3,512.9"/><path class="t" d="M302.9,557.3L311.8,551.4L316.3,560.3L307.4,564.7Z"/><path class="t" d="M344.4,538.1L353.3,532.2L357.7,539.6L348.8,544Z"/><path class="t" d="M351.8,551.4L360.7,545.5L365.1,552.9L356.2,558.1Z"/><path class="t" d="M356.2,467L384.4,459.6"/><path class="t" d="M356.2,475.9L384.4,468.5"/><path class="t" d="M356.2,484.8L384.4,477.4"/><path class="t" d="M356.2,493.7L384.4,486.3"/><path class="m" d="M357.7,475.9L384.4,469.2"/><path class="m" d="M357.7,478.8L384.4,472.2"/><path class="t" d="M353.3,464C354.8,462.6 358.5,457.1 362.2,455.2C365.9,453.2 373.3,452.7 375.5,452.2"/><path class="t" d="M384.4,453.7L390.3,472.9L391.8,484.8"/><path class="t" d="M390.3,461.1C391.5,465.3 394.7,478.4 397.7,486.3C400.7,494.2 404.4,501.3 408.1,508.5C411.8,515.6 417.9,525.7 419.9,529.2"/><path class="m" d="M374,544L391.8,538.1L416.9,547L416.9,552.9L393.3,558.8L375.5,552.9Z"/><path class="t" d="M391.8,538.1L393.3,558.8"/><path class="t" d="M382.9,521.8L388.8,520.3L402.1,532.2L397.7,538.1"/><path class="m" d="M371,557.3L387.3,563.3L431.8,549.9L436.2,552.9"/><path class="m" d="M372.5,561.8L385.9,567.7L390.3,576.6L405.1,581L430.3,566.2"/><path class="t" d="M399.2,526.2L411,532.2L424.4,529.2"/><path class="t" d="M402.1,539.6L419.9,551.4"/><path class="m" d="M416.9,523.3L425.8,539.6"/><path class="m" d="M422.9,530.7L430.3,541"/><path class="t" d="M433.2,538.1L516.2,523.3"/><path class="t" d="M445.1,549.2L464.3,544L465.8,548.4"/><path class="t" d="M480.6,547L508.8,545.5"/><path class="t" d="M514.7,529.2L517.6,544"/><path class="t" d="M428.8,569.9L433.2,567.8L433.7,571.7L429.2,573.8Z"/><path class="t" d="M430,577.3L434.4,575.3L434.9,579.1L430.4,581.2Z"/><path class="t" d="M431.2,584.7L435.6,582.7L436.1,586.5L431.6,588.6Z"/><path class="t" d="M435.5,566.7L439.9,564.6L440.3,568.4L435.9,570.5Z"/><path class="t" d="M436.6,574.1L441.1,572L441.5,575.8L437.1,577.9Z"/><path class="t" d="M437.8,581.5L442.3,579.4L442.7,583.2L438.3,585.3Z"/><path class="t" d="M442.1,563.4L446.6,561.3L447,565.2L442.6,567.3Z"/><path class="t" d="M443.3,570.8L447.8,568.7L448.2,572.6L443.8,574.7Z"/><path class="t" d="M444.5,578.2L448.9,576.1L449.4,580L444.9,582.1Z"/><path class="t" d="M448.8,560.1L453.2,558.1L453.7,561.9L449.2,564Z"/><path class="t" d="M450,567.6L454.4,565.5L454.9,569.3L450.4,571.4Z"/><path class="t" d="M451.2,575L455.6,572.9L456,576.7L451.6,578.8Z"/><path class="m" d="M424.4,567.7L433.2,555.9L439.2,552.9"/><path class="t" d="M427.3,586.9L434.7,612.1L437.7,625.5"/><path class="t" d="M442.1,586.9L440.6,621"/><path class="t" d="M405.1,581L414,619.5"/><path class="t" d="M416.9,582.5L425.8,621"/><path class="t" d="M377,597.3L382.9,621"/><path class="t" d="M385.9,597.3L391.8,621"/><path class="t" d="M374,592.9L396.2,588.4L397.7,592.9L375.5,597.3Z"/><path class="t" d="M440.6,621L456.9,613.6"/><path class="t" d="M302.9,578.1C307.4,576.2 322.2,568.3 329.6,567C337,565.6 342.7,570.3 347.4,569.9C352,569.5 356,565.6 357.7,564.7"/><path class="t" d="M347.4,569.9C347.1,572 344.9,578.7 345.9,582.5C346.9,586.3 350.1,590.9 353.3,592.9C356.5,594.8 363.1,594.1 365.1,594.4"/><path class="m" d="M329.6,597.3C332.5,597.3 341.9,595.6 347.4,597.3C352.8,599 358.7,603.7 362.2,607.7C365.6,611.6 367.1,618.8 368.1,621"/><path class="t" d="M329.6,592.9C333,592.9 344.1,590.9 350.3,592.9C356.5,594.8 362.9,600.5 366.6,604.7C370.3,608.9 371.5,615.8 372.5,618"/><path class="t" d="M282.2,573.6L297,597.3L308.8,603.2"/><path class="t" d="M288.1,570.7L302.9,594.4"/><path class="m" d="M308.8,601.8L314.8,600.3L316.3,603.2L322.2,601.8"/><path class="m" d="M323.7,599.5L332.5,599.5"/><path class="t" d="M304.4,576.6L316.3,573.6L320.7,582.5L314.8,588.4"/><path class="t" d="M379.9,621L400.7,625.5L402.1,629.9"/><path class="t" d="M412.5,621L433.2,625.5"/><path class="t" d="M359.9,628.9C360.3,634.8 362,651.1 362.2,664.4C362.3,677.8 360.2,694 360.7,708.8C361.2,723.7 362.9,737.2 365.1,753.3C367.3,769.3 371.5,790.8 374,805.1C376.5,819.4 378.9,833.5 379.9,839.2"/><path class="t" d="M366.6,633.3C367.1,638.5 369.3,651.8 369.6,664.4C369.8,677 367.7,694 368.1,708.8C368.5,723.7 369.8,738.5 371.8,753.3C373.8,768.1 378.6,790.3 379.9,797.7"/><path class="m" d="M371,660C370.8,664.4 369.7,677.5 369.6,686.6C369.4,695.8 370.2,710.1 370.3,714.8"/><path class="m" d="M370.3,742.9L371.8,756.2"/><path class="m" d="M381.4,821.4C381.9,824.4 383.4,833.2 384.4,839.2C385.4,845.1 386.8,854 387.3,856.9"/><path class="t" d="M379.9,623L399.2,628.9L402.1,639.3L382.9,634.8Z"/><path class="t" d="M412.5,623L427.3,627.4L439.2,624.4"/><path class="t" d="M371,628.9L375.5,649.6"/><path class="t" d="M382.9,640.7L379.9,679.2L387.3,731.1"/><circle class="m" cx="392.5" cy="651.1" r="4.7"/><circle class="t" cx="392.5" cy="651.1" r="2.1"/><circle class="m" cx="379.2" cy="730.3" r="6.2"/><circle class="m" cx="379.2" cy="730.3" r="3"/><circle class="m" cx="447.3" cy="675.5" r="7.1"/><circle class="m" cx="447.3" cy="675.5" r="3.3"/><circle class="t" cx="419.2" cy="688.1" r="2.1"/><path class="t" d="M437.7,625.9C436,628.6 429.8,635.8 427.3,642.2C424.8,648.6 423.9,655.8 422.9,664.4C421.9,673.1 422.1,684.2 421.4,694C420.7,703.9 419.9,713.8 418.4,723.7C416.9,733.5 413.6,743.4 412.5,753.3C411.4,763.1 411.5,773 411.8,782.9C412,792.8 413.6,807.6 414,812.5"/><path class="t" d="M399.2,679.2L406.6,678.5L421.4,750.3L415.5,752.5Z"/><path class="t" d="M402.9,679.2L418.4,751.1"/><path class="t" d="M374,686.6L377,685.9L405.1,816.9L401.4,818.4Z"/><path class="t" d="M374.7,738.5L379.2,738.5L402.1,818.4"/><path class="t" d="M372.5,762.2L377.7,761.4L385.1,811L380.7,812.5Z"/><path class="t" d="M431.8,686.6C431.3,692.8 430.3,711.3 428.8,723.7C427.3,736 423.4,749.6 422.9,760.7C422.4,771.8 424.1,779.2 425.8,790.3C427.6,801.4 432,821.1 433.2,827.3"/><path class="t" d="M437.7,686.6C437.2,692.8 436,711.3 434.7,723.7C433.5,736 430.5,749.6 430.3,760.7C430,771.8 431.5,779.2 433.2,790.3C435,801.4 439.4,821.1 440.6,827.3"/><path class="t" d="M442.1,686.6C441.6,692.8 440.1,711.3 439.2,723.7C438.2,736 436.2,749.6 436.2,760.7C436.2,771.8 437.4,779.7 439.2,790.3C440.9,800.9 445.3,818.7 446.6,824.4"/><path class="t" d="M433.2,827.3L442.1,826.6"/><path class="t" d="M424.4,668.9C425.3,668.1 427.3,664.9 430.3,664.4C433.2,663.9 440.1,665.7 442.1,665.9"/><path class="t" d="M424.4,679.2C425.3,680 427.8,682.9 430.3,683.7C432.7,684.4 437.7,683.7 439.2,683.7"/><path class="t" d="M425.1,771L436.2,769.6"/><circle class="t" cx="430.3" cy="772.5" r="2.7"/><path class="t" d="M451,661.5C451.5,665.7 454,676.3 454,686.6C454,697 452.2,711.3 451,723.7C449.8,736 447.1,748.3 446.6,760.7C446.1,773 446.8,787.1 448,797.7C449.3,808.3 453,819.9 454,824.4"/><path class="t" d="M458.4,662.9C458.7,666.9 460.1,676.5 459.9,686.6C459.6,696.8 457.9,711.3 456.9,723.7C455.9,736 454.5,749.6 454,760.7C453.5,771.8 454,785.4 454,790.3"/><path class="m" d="M456.9,689.6L455.5,708.8"/><path class="m" d="M448.8,796.2L451,811"/><path class="t" d="M451.7,713.3L456.2,713.3L455.5,720.7L451,720.7Z"/><path class="t" d="M445.8,785.9L451,785.9L450.3,791.8L445.1,791.8Z"/><path class="t" d="M435.5,643.7L437.7,637.8L440.6,643.7L442.1,655.5L434.7,657Z"/><path class="t" d="M424.4,661.5L455.5,654.1"/><path class="m" d="M455.5,660C456.2,657.8 457.7,650.4 459.9,646.7C462.1,643 467.3,639.3 468.8,637.8"/><path class="m" d="M462.9,646.7L467.3,645.2L468.8,640.7L474.7,639.3"/><path class="t" d="M459.9,636.3L485.1,630.4"/><path class="t" d="M341.4,882.2L375.5,892.5"/><path class="t" d="M335.5,908.8L353.3,913.3"/><path class="t" d="M338.5,892.5L338.5,910.3"/><path class="m" d="M350.3,891.1L354.8,888.8L375.5,894L368.1,898.5L353.3,895.5Z"/><path class="m" d="M350.3,891.1L353.3,913.3L362.2,935.5L374,944.4"/><path class="t" d="M354.8,902.9L371,898.5L379.9,904.4L369.6,928.1L360.7,929.6"/><circle class="t" cx="373.3" cy="914.8" r="3.7"/><circle class="t" cx="375.2" cy="941.4" r="2.1"/><path class="t" d="M388.8,846.6L393.3,889.6L396.2,926.6"/><path class="t" d="M377,843.7L382.9,857L365.1,889.6"/><path class="t" d="M387.3,889.6L391.8,926.6"/><circle class="t" cx="388.8" cy="872.6" r="2.2"/><circle class="t" cx="391" cy="881.4" r="2.2"/><circle class="t" cx="382.9" cy="884.4" r="2.2"/><path class="t" d="M393.3,862.9L451,839.2"/><path class="t" d="M394.7,868.8L416.9,860.7"/><path class="t" d="M396.2,876.3L471.7,851.1"/><path class="t" d="M397.7,882.2L430.3,871.8"/><path class="t" d="M390.3,889.6L470.3,864.4"/><path class="t" d="M393.3,907.4L471.7,882.2"/><path class="t" d="M394.7,913.3L471.7,888.1"/><path class="t" d="M396.2,919.2L409.5,915.5"/><path class="t" d="M391.8,902.9L470.3,876.3"/><path class="m" d="M416.9,859.2L434.7,852.6L452.5,860.7L454,870.3"/><path class="t" d="M416.9,859.2L427.3,865.9L445.1,860"/><path class="t" d="M427.3,873.3L434.7,882.2L449.5,877.7"/><path class="t" d="M451,839.2L476.2,848.1L514.7,834.8"/><path class="t" d="M470.3,864.4L514.7,848.1"/><path class="t" d="M476.2,848.1L470.3,864.4"/><path class="t" d="M397.7,892.5L400.7,899.9"/><path class="t" d="M411,888.1L415.5,895.5"/><path class="t" d="M427.3,882.2L433.2,890.3"/><path class="m" d="M470.3,877.7L471.7,894"/><path class="m" d="M477.7,871.8L496.9,864.4"/><path class="t" d="M495.4,864.4L498.4,877.7"/><path class="t" d="M504.3,862.9L505.8,876.3"/><circle class="t" cx="437.7" cy="898.5" r="2.7"/><circle class="t" cx="405.1" cy="910.3" r="2.7"/><circle class="m" cx="517.6" cy="850.3" r="6.7"/><circle class="t" cx="517.6" cy="850.3" r="3"/><path class="t" d="M448,828.9L459.9,842.2L492.5,836.3"/><circle class="t" cx="460.6" cy="832.6" r="2.4"/><circle class="t" cx="467.6" cy="836" r="2.4"/><circle class="t" cx="477.4" cy="837.5" r="2.4"/><circle class="t" cx="488" cy="834.1" r="2.4"/><path class="m" d="M486.5,815.5L495.4,811.1L507.3,812.6L516.2,818.5L533.9,828.9L532.5,836.3L496.9,828.9"/><path class="t" d="M491,820L528,824.4"/><path class="t" d="M501.4,814.1L505.8,824.4"/><path class="t" d="M510.2,817L523.6,828.9"/><path class="t" d="M532.5,836.3L535.4,849.6"/><path class="t" d="M504.3,831.8L504.3,836.3"/><path class="m" d="M387.3,822.9L399.2,818.5L405.1,848.1L393.3,854Z"/><path class="t" d="M390.3,828.9L400.7,825.2"/><path class="t" d="M391.8,839.2L402.1,835.5"/><path class="t" d="M393.3,848.1L403.6,843.7"/><circle class="m" cx="405.8" cy="827.4" r="3.6"/><path class="m" d="M411,814.1L424.4,811.1L427.3,845.2L414,848.1Z"/><path class="t" d="M415.5,817L416.9,846.6"/><path class="t" d="M419.9,815.5L422.1,845.2"/><path class="m" d="M418.4,824.4L427.3,822.9"/><path class="m" d="M381.4,821.5C382.2,824.9 384.9,835.8 385.9,842.2C386.8,848.6 387.6,854.8 387.3,860C387.1,865.1 384.9,871.1 384.4,873.3"/><path class="t" d="M451,794.8C451.5,798.8 451.5,812.8 454,818.5C456.4,824.2 463.8,827.1 465.8,828.9"/><path class="t" d="M431.8,780L442.1,827.4"/><path class="t" d="M424.4,780L434.7,828.9"/><path class="t" d="M393.3,780L402.1,818.5"/><path class="t" d="M388.8,780L397.7,820"/><path class="t" d="M412.5,780L414,812.6"/><path class="t" d="M379.9,780L384.4,809.6"/><path class="t" d="M437.7,780L446.6,824.4"/></g><use href="#hld" transform="translate(2.4,1.3)"/>
<!-- 21_hr.svg -->
<path class="o" d="M594.8,530.7C602.1,526.3 631.3,516.9 639.2,512.9C647.1,509 640,508.7 642.2,507C644.4,505.3 649.1,502.6 652.6,502.6C656,502.6 657,507.9 662.9,507C668.8,506.2 681.7,498.3 688.1,497.4C694.5,496.5 693.8,502.9 701.4,501.8C709.1,500.7 727.7,492.1 734,490.7C740.3,489.4 737.7,492.3 739.2,493.7C740.7,495.1 740.5,497.4 742.9,498.9C745.2,500.4 750.5,500 753.3,502.6C756,505.2 758.1,510 759.2,514.4C760.3,518.9 758.2,523.3 759.9,529.2C761.6,535.2 765,545 769.5,550C774.1,554.9 783.6,554.4 787.3,558.8C791,563.3 790.8,570.4 791.8,576.6C792.7,582.8 792.3,589.2 793.2,595.9C794.2,602.5 790.5,615.6 797.7,616.6C804.8,617.6 828.3,604 836.2,601.8C844.1,599.6 842.4,602 845.1,603.3C847.8,604.5 851,606 852.5,609.2C854,612.4 854.9,619.1 854,622.5C853,626 851.7,627.2 846.5,629.9C841.4,632.6 828.8,635.9 822.9,638.8C816.9,641.8 814.2,643.7 811,647.7C807.8,651.6 805.2,657.6 803.6,662.5C802,667.4 801.4,672.4 801.4,677.3C801.4,682.3 802.7,690 803.6,692.1C804.5,694.2 804.6,687.9 806.6,690C808.5,692.1 813.7,701.1 815.5,704.8C817.2,708.5 817.7,709.7 816.9,712.2C816.2,714.7 813.5,717.4 811,719.6C808.5,721.8 804.6,722.3 802.1,725.5C799.7,728.7 797.3,733.7 796.2,738.9C795.1,744.1 796,750 795.5,756.6C795,763.3 794.3,770.2 793.2,778.8C792.1,787.5 790,798.6 788.8,808.5C787.6,818.3 786.5,829.4 785.8,838.1C785.2,846.7 785,853.1 785.1,860.3C785.2,867.5 785.2,877.1 786.6,881C787.9,885 791.1,882.8 793.2,884C795.3,885.2 797.9,886.5 799.2,888.4C800.4,890.4 801.4,893.6 800.6,895.8C799.9,898.1 793.1,901.3 794.7,901.8C796.3,902.3 806.9,900 810.3,898.9C813.6,897.8 812.5,895 814.7,895.2C816.9,895.3 820.4,899.2 823.6,899.6C826.8,900 831.5,898.5 834,897.4C836.4,896.3 839.4,894.2 838.4,892.9C837.4,891.7 829.3,891.2 828,890C826.8,888.7 828.5,886.9 831,885.5C833.5,884.2 835.7,879.9 842.9,881.8C850,883.8 864.8,891.8 874,897.4C883.1,902.9 893,911 897.6,915.2C902.3,919.4 900.5,920.6 902.1,922.6C903.7,924.5 906.2,921.8 907.3,927C908.4,932.2 908.6,944.8 908.8,953.7C908.9,962.5 932.6,967.1 908,980.3C883.5,993.5 791.5,1023.7 761.4,1032.9C731.3,1042 738.8,1036.1 727.4,1035.1C715.9,1034.1 698.8,1029.7 692.6,1027C686.3,1024.2 689.7,1020.9 689.6,1018.8C689.5,1016.7 689.7,1015.4 691.8,1014.4C693.9,1013.4 700.7,1013.6 702.2,1012.9C703.7,1012.2 701.7,1010.9 700.7,1009.9C699.7,1008.9 698.7,1007.7 696.3,1007C693.8,1006.2 688,1008.4 685.9,1005.5C683.8,1002.5 683.4,992.5 683.7,989.2C683.9,985.9 685.3,986.5 687.4,985.5C689.5,984.5 695,984.4 696.3,983.3C697.5,982.2 696.6,980.1 694.8,978.8C692.9,977.6 687.4,977.1 685.1,975.9C682.9,974.6 681.6,973.2 681.4,971.4C681.3,969.7 682.2,968.5 684.4,965.5C686.6,962.5 691.9,958.1 694.8,953.7C697.6,949.2 700.4,942.8 701.4,938.8C702.4,934.9 702.5,931.8 700.7,930C698.8,928.1 692.8,928.6 690.3,927.7C687.9,926.9 686.4,926 685.9,924.8C685.4,923.5 685.6,921.6 687.4,920.3C689.1,919.1 695,919.2 696.3,917.4C697.5,915.5 696,915.5 694.8,909.2C693.5,902.9 690.2,889 688.8,879.6C687.5,870.2 687.5,862.3 686.6,852.9C685.8,843.5 684.5,833.1 683.7,823.3C682.8,813.4 681.7,803.5 681.4,793.7C681.2,783.8 681.7,773.2 682.2,764C682.7,754.9 684.2,745.8 684.4,738.9C684.6,732 685,728 683.7,722.6C682.3,717.1 679.7,711 676.3,706.3C672.8,701.6 668.4,696.9 662.9,694.4C657.5,692 649.4,691.9 643.7,691.5C638,691.1 631.3,692.1 628.9,692.2C626.4,692.3 629.5,694.6 628.9,692.1C628.3,689.6 625.7,680.5 625.2,677.3C624.7,674.1 622.8,674.1 625.9,672.9C629,671.6 641,671.6 643.7,669.9C646.4,668.2 641.9,665.2 642.2,662.5C642.4,659.8 644.2,657.1 645.2,653.6C646.1,650.2 648.4,647.7 648.1,641.8C647.9,635.9 645.6,626 643.7,618.1C641.7,610.2 639.5,602.8 636.3,594.4C633.1,586 628.1,574.6 624.4,567.7C620.7,560.8 618.9,557.6 614.1,552.9C609.2,548.2 598.8,543.3 595.5,539.6C592.3,535.9 587.5,535.2 594.8,530.7Z"/><g id="hrd"><path class="t" d="M599.3,533.7L649.6,525.5L662.9,547L677.7,555.9"/><path class="t" d="M611.1,539.6L649.6,527"/><path class="t" d="M627.4,544L651.1,536.6L661.4,552.9"/><path class="t" d="M634.8,558.8L660,550.7L677.7,557.4L636.3,572.2"/><path class="t" d="M599.3,533.7L627.4,544L634.8,558.8L634.8,570.7"/><path class="t" d="M636.3,573.7L679.2,558.8"/><path class="t" d="M645.2,511.5L657,529.2"/><path class="t" d="M649.6,508.5L660,514.4"/><circle class="m" cx="666.6" cy="521.1" r="8.6"/><circle class="t" cx="666.6" cy="521.1" r="4.1"/><circle class="m" cx="714" cy="666.9" r="8.1"/><circle class="t" cx="714" cy="666.9" r="4.1"/><circle class="m" cx="808" cy="632.9" r="7.4"/><circle class="t" cx="808" cy="632.9" r="3.3"/><ellipse class="m" cx="624.4" cy="557.4" rx="3.3" ry="5.6" transform="rotate(-15 624.4 557.4)"/><ellipse class="m" cx="648.9" cy="665.5" rx="3.7" ry="5.9" transform="rotate(-15 648.9 665.5)"/><path class="m" d="M642.2,579.6L738.4,544.8L769.5,558.8L759.9,606.2L657,644.7Z"/><path class="t" d="M645.2,581.8L737.7,547.7L765.8,560.3L757.7,604L659.2,641.8Z"/><path class="t" d="M628.9,570.7C631.1,574.9 638.7,588 642.2,595.9C645.6,603.8 647.6,609.4 649.6,618.1C651.6,626.7 652.6,637.8 654,647.7C655.5,657.6 657.7,672.4 658.5,677.3"/><path class="t" d="M636.3,573.7C638.5,578.1 646.1,591.7 649.6,600.3C653.1,609 655.3,617.6 657,625.5C658.7,633.4 659.5,644 660,647.7"/><path class="t" d="M674.8,514.4L737,494.4"/><path class="t" d="M676.3,518.9L739.9,498.1"/><path class="t" d="M731,514.4L756.2,505.5"/><path class="t" d="M731,518.9L757.7,510"/><path class="m" d="M697,515.9L722.2,513.7L729.6,514.4L728.1,521.8L710.3,542.6"/><path class="t" d="M722.2,513.7L728.1,521.8"/><path class="t" d="M713.3,539.6L757.7,523.3"/><path class="m" d="M682.2,527.8L697,520.3L710.3,539.6L691.1,548.5Z"/><path class="t" d="M686.6,532.2L701.4,527.8"/><path class="t" d="M689.6,538.1L705.9,533.7"/><path class="t" d="M702.9,529.2L707.4,541.1"/><path class="t" d="M662.9,530.7C664.9,532.9 671.8,539.4 674.8,544C677.7,548.7 679.7,556.4 680.7,558.8"/><path class="t" d="M676.3,527.8C678,530 683.9,537.4 686.6,541.1C689.3,544.8 691.6,548.5 692.5,550"/><path class="m" d="M774,560.3L784.4,564.8L787.3,597.4L766.6,604.8"/><path class="t" d="M774,560.3L766.6,604.8"/><path class="t" d="M776.9,564.8L771,600.3"/><path class="t" d="M769.5,558.8C768.6,563.3 765.2,577.6 763.6,585.5C762,593.4 760.5,602.8 759.9,606.2"/><path class="t" d="M657,650.7L793.2,603.3"/><path class="t" d="M658.5,668.4L697,655.1"/><path class="m" d="M697,635.9L683.7,661L682.2,668.4L694,664"/><path class="t" d="M698.5,637.3L694,662.5"/><path class="m" d="M710.3,634.4L732.5,625.5L731,646.2L708.8,653.6Z"/><path class="t" d="M713.3,640.3L729.6,634.4"/><path class="m" d="M714.8,637.3L729.6,631.4"/><path class="t" d="M713.3,644.7L731,638.8"/><path class="m" d="M742.2,621L765.1,629.9L794.7,619.6L793.2,625.5L765.1,635.9L739.9,643.3"/><path class="t" d="M742.2,621L739.9,643.3"/><path class="t" d="M765.1,629.9L763.6,637.3"/><path class="m" d="M738.4,652.1L771,640.3L775.5,658.1L750.3,666.9L739.9,661Z"/><path class="t" d="M742.9,659.5L768.1,650.7"/><path class="t" d="M766.6,644.7L769.5,656.6"/><path class="m" d="M649.6,683.2L689.6,672.9L742.9,683.2L793.2,690.6"/><path class="t" d="M651.1,687.7L689.6,677.3L742.9,687.7L790.3,695.1"/><path class="m" d="M668.8,692.1L689.6,683.2L739.9,693.6L784.4,701"/><path class="t" d="M689.6,687.7L737,698L741.4,709.9"/><path class="t" d="M779.9,634.4L790.3,677.3"/><path class="t" d="M763.6,666.9L766.6,677.3"/><path class="t" d="M811,652.1C809.5,655.1 803.9,663.7 802.1,669.9C800.4,676.1 800.1,683 800.6,689.2C801.1,695.3 804.3,704 805.1,706.9"/><path class="t" d="M799.2,621L845.1,604.8"/><path class="t" d="M811,627L846.5,613.6"/><path class="t" d="M633.3,675.8L639.2,674.4L640.7,680.3L634.8,681.8Z"/><path class="m" d="M683.7,690.7L739.2,701.1L741.4,749.2L722.9,777.4L737,888.4L747.3,891.4L747.3,796.6L772.5,762.6L782.9,700.4L728.1,690"/><path class="t" d="M686.6,694.4L737,704.1L738.4,748.5L719.9,776.6L734.7,889.9"/><path class="t" d="M749.6,888.4L750.3,798.1L774.7,764L785.1,702.6"/><path class="t" d="M686.6,734.4C691.1,734.7 704.9,736.6 713.3,735.9C721.7,735.2 733,731 737,730"/><path class="t" d="M687.4,735.9C687.7,750.5 687.5,792.9 689.6,823.3C691.7,853.6 698.2,902.3 699.9,918"/><ellipse class="m" cx="714" cy="812.9" rx="13.6" ry="10.7" transform="rotate(-10 714 812.9)"/><ellipse class="t" cx="713.3" cy="812.9" rx="11.6" ry="8.9" transform="rotate(-10 713.3 812.9)"/><circle class="t" cx="708.5" cy="810.7" r="4.1"/><ellipse class="m" cx="785.1" cy="759.6" rx="6.7" ry="11.6" transform="rotate(10 785.1 759.6)"/><ellipse class="t" cx="783.6" cy="759.6" rx="4.4" ry="8.1" transform="rotate(10 783.6 759.6)"/><path class="m" d="M689.6,925.5C696,925 715.5,924.7 728.1,922.5C740.7,920.3 754.7,915.6 765.1,912.1C775.5,908.7 786.1,903.5 790.3,901.8"/><path class="t" d="M698.5,921C703.4,920.6 717,921 728.1,918.8C739.2,916.6 755.2,911.3 765.1,907.7C775,904.1 783.6,899 787.3,897.3"/><path class="t" d="M782.9,704.8C782.1,712.2 780.2,729.5 778.4,749.2C776.7,769 774,802.3 772.5,823.3C771,844.3 769.8,861.5 769.5,875.1C769.3,888.7 770.8,899.8 771,904.7"/><path class="t" d="M747.3,891.4L754.7,912.1"/><path class="t" d="M793.2,693L805.1,713.7"/><path class="t" d="M797.7,691.5L809.5,712.2"/><path class="t" d="M790.3,704.8L814,698.9"/><path class="t" d="M793.2,712.2C792,714.7 787.6,720.9 785.8,727C784.1,733.2 783.4,745.5 782.9,749.2"/><path class="m" d="M688.8,968.5L718.5,976.6L789.5,937.4L831,912.2L813.2,898.9"/><path class="t" d="M777.7,909.2C778.2,911.7 778.7,919.4 780.7,924C782.6,928.7 788.1,935.1 789.5,937.4"/><path class="t" d="M804.4,901.8C805.3,903.6 811.3,907.5 810.3,912.2C809.3,916.9 801.9,925.8 798.4,930C795,934.2 791,936.1 789.5,937.4"/><path class="t" d="M694.8,972.9L718.5,980.3L733.3,978.8L811.8,950.7L831,912.2"/><path class="m" d="M739.2,998.1L814.7,971.4L832.5,915.2"/><path class="t" d="M730.3,978.8L740.7,999.6L749.6,1030.7"/><path class="m" d="M749.6,976.6L805.8,955.4L810.3,958.1L808.8,967L754,986.2L750.3,983.3Z"/><path class="t" d="M754,978.8L802.9,960.3L804.4,965.5L755.5,983.3Z"/><path class="t" d="M752.5,975.9L804.4,957.4"/><circle class="m" cx="770.3" cy="1012.9" r="5.9"/><circle class="m" cx="802.9" cy="1001" r="5.9"/><circle class="m" cx="719.9" cy="1000.3" r="4.7"/><circle class="m" cx="786.6" cy="1007" r="7.1"/><circle class="m" cx="786.6" cy="1007" r="3.9"/><circle class="t" cx="719.9" cy="1000.3" r="3"/><path class="m" d="M709.6,993.6L730.3,992.2L736.2,1001L730.3,1009.9L715.5,1010.7"/><path class="t" d="M761.4,999.6L813.2,981.8L808.8,986.2"/><path class="m" d="M748.1,1012.9L755.5,998.1L761.4,999.6L755.5,1011.4L759.9,1032.1"/><path class="t" d="M810.3,986.2L813.2,1009.9"/><path class="t" d="M711.1,983.3L714,1009.9L722.9,1032.1"/><path class="t" d="M902.1,922.6L828,947.7"/><path class="m" d="M907.3,932.9L845.8,956.6L826.6,993.6L903.6,967"/><path class="t" d="M831,947.7L842.9,956.6L832.5,975.9L819.2,972.9"/><path class="t" d="M828,941.8L903.6,916.6"/><path class="t" d="M842.9,953.7L905,930"/><path class="m" d="M865.1,931.4L875.4,946.3"/><ellipse class="t" cx="865.1" cy="934.4" rx="4.4" ry="5.9" transform="rotate(-30 865.1 934.4)"/><path class="m" d="M871,930L879.9,941.8L876.9,947.7"/><path class="t" d="M842.9,884.1L896.2,919.6"/><path class="t" d="M865.1,895.9L831,910.7"/><path class="t" d="M813.2,900.3L832.5,910.7"/><path class="m" d="M696.3,918.1C704.9,917.6 732.8,918.1 748.1,915.2C763.4,912.2 779.3,904.1 788.1,900.3C796.8,896.6 798.6,894.2 800.7,892.9"/><path class="t" d="M690.3,927C697.5,926.5 718.7,927 733.3,924C747.8,921.1 767.1,913.2 777.7,909.2C788.3,905.3 793.7,901.8 796.9,900.3"/><path class="m" d="M734,850L737.7,884.1L748.1,890L748.1,850"/><path class="t" d="M768.8,850L771.8,904.8"/><path class="t" d="M748.1,890L754,910.7"/><path class="t" d="M690.3,850L702.2,918.1"/><path class="t" d="M696.3,972.9L697.7,998.1L709.6,1001"/><path class="t" d="M687.4,986.2L697.7,987.7"/><path class="t" d="M688.8,1005.5L703.7,1018.8"/></g><use href="#hrd" transform="translate(2.2,2.0)"/>
<!-- 22_gearbox.svg -->
<path class="o" d="M1786.9,1136.8C1792,1135.6 1793.1,1136 1797.2,1137.5C1801.3,1139 1807.6,1143.4 1811.5,1145.9C1815.3,1148.4 1817.7,1151 1820.5,1152.4C1823.3,1153.8 1824.4,1154.7 1828.3,1154.3C1832.2,1153.9 1838.6,1151.3 1843.8,1149.8C1849,1148.3 1855.5,1145.6 1859.4,1145.2C1863.2,1144.9 1864.5,1146.6 1867.1,1147.8C1869.7,1149 1872.3,1150.3 1874.9,1152.4C1877.5,1154.4 1880.5,1159.3 1882.7,1160.1C1884.8,1161 1884.4,1158.3 1887.8,1157.5C1891.3,1156.8 1899.3,1155 1903.4,1155.6C1907.5,1156.2 1910.1,1158.7 1912.4,1161.4C1914.8,1164.1 1916.5,1168.3 1917.6,1171.8C1918.7,1175.2 1919.5,1179.1 1918.9,1182.1C1918.3,1185.2 1916.7,1187.1 1913.7,1189.9C1910.7,1192.7 1904.4,1196.6 1900.8,1199C1897.1,1201.3 1892.4,1202.4 1891.7,1204.1C1891.1,1205.9 1896,1206.9 1896.9,1209.3C1897.8,1211.7 1897.8,1215.1 1896.9,1218.4C1896,1221.6 1895.8,1225.7 1891.7,1228.7C1887.6,1231.8 1877.3,1233.9 1872.3,1236.5C1867.3,1239.1 1865,1241.7 1861.9,1244.3C1858.9,1246.9 1856.8,1249 1854.2,1252C1851.6,1255.1 1848.6,1259.4 1846.4,1262.4C1844.3,1265.4 1843.6,1268.2 1841.2,1270.2C1838.9,1272.1 1833.7,1271.9 1832.2,1274C1830.7,1276.2 1831.3,1278.1 1832.2,1283.1C1833,1288.1 1836.9,1299.7 1837.3,1303.8C1837.8,1307.9 1838.9,1306 1834.8,1307.7C1830.7,1309.4 1817.7,1313.1 1812.8,1314.2C1807.8,1315.3 1807.4,1315.3 1805,1314.2C1802.6,1313.1 1799.6,1310.3 1798.5,1307.7C1797.4,1305.1 1799.2,1301.2 1798.5,1298.6C1797.9,1296.1 1797.2,1293.5 1794.6,1292.2C1792,1290.9 1786.4,1292.2 1783,1290.9C1779.5,1289.6 1779.3,1284.4 1773.9,1284.4C1768.5,1284.4 1756.7,1289.1 1750.6,1290.9C1744.6,1292.6 1742,1295.4 1737.7,1294.8C1733.4,1294.1 1728.2,1290.2 1724.7,1287C1721.3,1283.8 1719.5,1279 1717,1275.3C1714.4,1271.7 1712.2,1266.7 1709.2,1265C1706.2,1263.3 1701.6,1267.6 1698.8,1265C1696,1262.4 1694.5,1256.4 1692.4,1249.4C1690.2,1242.5 1687.1,1231.1 1685.9,1223.6C1684.7,1216 1684.8,1208.2 1685.2,1204.1C1685.7,1200 1686.4,1200.9 1688.5,1199C1690.5,1197 1695.6,1195.3 1697.5,1192.5C1699.5,1189.7 1699.3,1184.9 1700.1,1182.1C1701,1179.3 1701.2,1177.4 1702.7,1175.7C1704.2,1173.9 1708.1,1173.9 1709.2,1171.8C1710.3,1169.6 1708.3,1166 1709.2,1162.7C1710.1,1159.5 1710.9,1154.8 1714.4,1152.4C1717.8,1149.9 1725.6,1149.1 1729.9,1147.8C1734.2,1146.5 1735.5,1145.2 1740.3,1144.6C1745,1143.9 1754.1,1143.9 1758.4,1143.9C1762.7,1143.9 1761.4,1145.8 1766.1,1144.6C1770.9,1143.4 1781.7,1138 1786.9,1136.8Z"/><path class="m" d="M1706.6,1195.1C1705.1,1197.7 1699.1,1203.7 1697.5,1210.6C1696,1217.5 1696.2,1228.3 1697.5,1236.5C1698.8,1244.7 1702.1,1253.5 1705.3,1259.8C1708.5,1266.1 1712.4,1270.2 1717,1274C1721.5,1277.9 1727.3,1280.9 1732.5,1283.1C1737.7,1285.3 1745.4,1286.3 1748,1287"/><path class="t" d="M1706.6,1195.1C1708.5,1194.9 1714.4,1191.6 1718.3,1193.8C1722.1,1195.9 1725.8,1200.9 1729.9,1208C1734,1215.1 1740,1227.4 1742.8,1236.5C1745.7,1245.6 1745.9,1254 1746.7,1262.4C1747.6,1270.8 1747.8,1282.9 1748,1287"/><path class="t" d="M1698.8,1202.8C1699.5,1208.5 1700.1,1225.9 1702.7,1236.5C1705.3,1247.1 1709.4,1258.9 1714.4,1266.3C1719.3,1273.6 1729.5,1278.1 1732.5,1280.5"/><ellipse class="m" cx="1723.4" cy="1238.4" rx="13.6" ry="24.6" transform="rotate(-15 1723.4 1238.4)"/><ellipse class="t" cx="1722.1" cy="1240.4" rx="9.7" ry="19.4" transform="rotate(-15 1722.1 1240.4)"/><ellipse class="t" cx="1720.8" cy="1241.7" rx="7.1" ry="14.9" transform="rotate(-15 1720.8 1241.7)"/><ellipse class="m" cx="1732.5" cy="1236.5" rx="14.2" ry="24.6" transform="rotate(-15 1732.5 1236.5)"/><path class="m" d="M1727.3,1200.3C1729.9,1202.8 1738.1,1208.7 1742.8,1215.8C1747.6,1222.9 1753,1234.1 1755.8,1243C1758.6,1251.8 1759.5,1262.8 1759.7,1268.9C1759.9,1274.9 1757.5,1277.5 1757.1,1279.2"/><path class="t" d="M1732.5,1202.8C1735.1,1205.4 1743.3,1211.5 1748,1218.4C1752.8,1225.3 1758.4,1235.9 1761,1244.3C1763.6,1252.7 1763.1,1264.8 1763.6,1268.9"/><path class="m" d="M1771.3,1153.7C1773.5,1157.1 1780.4,1166.2 1784.3,1174.4C1788.2,1182.6 1792,1192.5 1794.6,1202.8C1797.2,1213.2 1799.4,1226.6 1799.8,1236.5C1800.2,1246.4 1798.9,1255.9 1797.2,1262.4C1795.5,1268.9 1790.7,1273.2 1789.4,1275.3"/><path class="t" d="M1776.5,1152.4C1778.7,1156 1785.6,1166 1789.4,1174.4C1793.3,1182.8 1797.2,1192.5 1799.8,1202.8C1802.4,1213.2 1804.6,1226.6 1805,1236.5C1805.4,1246.4 1802.8,1258.1 1802.4,1262.4"/><path class="m" d="M1801.1,1223.6C1802.2,1226.1 1806.3,1232.6 1807.6,1239.1C1808.9,1245.6 1809.5,1255.3 1808.9,1262.4C1808.2,1269.5 1804.6,1278.6 1803.7,1281.8"/><path class="m" d="M1795.9,1222.3C1797,1225.7 1801.5,1235.2 1802.4,1243C1803.3,1250.7 1802.4,1262 1801.1,1268.9C1799.8,1275.8 1795.7,1281.8 1794.6,1284.4"/><path class="t" d="M1798.5,1222.9C1799.6,1226 1803.9,1234.7 1805,1241.7C1806.1,1248.7 1805.8,1258.1 1805,1265C1804.1,1271.9 1800.7,1280.1 1799.8,1283.1"/><path class="t" d="M1808.9,1145.9C1812.1,1150.6 1822.9,1163.6 1828.3,1174.4C1833.7,1185.2 1838.2,1199.2 1841.2,1210.6C1844.3,1222 1846,1234.3 1846.4,1243C1846.8,1251.6 1844.3,1259.2 1843.8,1262.4"/><path class="t" d="M1825.7,1158.8C1828.3,1162.5 1836.7,1172.2 1841.2,1180.8C1845.8,1189.5 1850.3,1201.3 1852.9,1210.6C1855.5,1219.9 1856.1,1232.2 1856.8,1236.5"/><path class="t" d="M1832.2,1157.5C1834.8,1161.4 1843.2,1172 1847.7,1180.8C1852.2,1189.7 1857,1201.8 1859.4,1210.6C1861.7,1219.5 1861.5,1230 1861.9,1233.9"/><path class="t" d="M1838.6,1156.2C1841.2,1160.1 1849.6,1170.5 1854.2,1179.5C1858.7,1188.6 1863.7,1201.6 1865.8,1210.6C1868,1219.7 1866.9,1230 1867.1,1233.9"/><path class="t" d="M1867.1,1147.8C1869.7,1151.8 1879.2,1163.5 1882.7,1171.8C1886.1,1180.1 1888.3,1189.5 1887.8,1197.7C1887.4,1205.9 1881.4,1217.1 1880.1,1221"/><path class="t" d="M1859.4,1153.7C1861.5,1157.1 1869.1,1166.2 1872.3,1174.4C1875.5,1182.6 1878.3,1194.6 1878.8,1202.8C1879.2,1211 1875.5,1220.1 1874.9,1223.6"/><path class="t" d="M1874.9,1152.4C1877,1155.6 1885,1165.1 1887.8,1171.8C1890.6,1178.5 1891.3,1188.6 1891.7,1192.5C1892.1,1196.4 1891.3,1194.8 1890.4,1195.1C1889.6,1195.4 1887.2,1194.5 1886.5,1194.4"/><ellipse class="t" cx="1863.9" cy="1177" rx="5.2" ry="6.5"/><ellipse class="t" cx="1863.2" cy="1177.6" rx="3.2" ry="4.1"/><path class="m" d="M1715.7,1155L1727.3,1151.1L1758.4,1160.1L1766.1,1157.5L1784.3,1167.9L1789.4,1187.3L1780.4,1192.5L1773.9,1182.1L1759.7,1174.4L1724.7,1188.6L1714.4,1182.1"/><path class="m" d="M1755.8,1161.4L1766.1,1174.4L1771.3,1187.3"/><path class="t" d="M1758.4,1160.1L1771.3,1171.8L1775.2,1184.7"/><path class="t" d="M1724.7,1171.8L1755.8,1161.4"/><path class="t" d="M1720.8,1180.8L1755.8,1170.5"/><path class="m" d="M1727.3,1189.9L1758.4,1180.8"/><path class="t" d="M1709.2,1182.1L1724.7,1188.6L1727.3,1197.7"/><path class="m" d="M1729.9,1153.7L1750.6,1149.8L1758.4,1156.2"/><ellipse class="t" cx="1773.9" cy="1179.5" rx="2.6" ry="4.5" transform="rotate(-15 1773.9 1179.5)"/><ellipse class="t" cx="1759.7" cy="1184.7" rx="2.1" ry="3.4" transform="rotate(-15 1759.7 1184.7)"/><ellipse class="m" cx="1715.7" cy="1166.6" rx="2.3" ry="3.9" transform="rotate(-15 1715.7 1166.6)"/><ellipse class="m" cx="1723.4" cy="1169.2" rx="2.3" ry="3.9" transform="rotate(-15 1723.4 1169.2)"/><path class="t" d="M1761,1162.7L1781.7,1157.5"/><path class="t" d="M1767.4,1167.9L1784.3,1164"/><path class="t" d="M1789.4,1171.8L1820.5,1161.4"/><path class="t" d="M1789.4,1182.1L1823.1,1171.8"/><path class="t" d="M1732.5,1205.4L1776.5,1189.9"/><path class="t" d="M1748,1200.3L1789.4,1186"/><path class="m" d="M1802.4,1194.4L1830.9,1186.7L1840.6,1210.6L1813.4,1219Z"/><path class="t" d="M1806.3,1200.3L1833.5,1192.5"/><path class="t" d="M1833.5,1192.5L1838.6,1209.3"/><path class="m" d="M1817.3,1239.7L1841.2,1231.3L1846.4,1253.3L1819.9,1261.7Z"/><path class="t" d="M1841.2,1231.3L1843.8,1250.7L1820.5,1258.5"/><path class="m" d="M1823.1,1222.3L1833.5,1219.7"/><path class="m" d="M1828.3,1221L1830.9,1231.3"/><path class="t" d="M1827,1232.6L1834.8,1230"/><path class="t" d="M1813.4,1219L1817.3,1239.7"/><path class="t" d="M1846.4,1210.6L1850.3,1221"/><path class="m" d="M1761,1228.7L1784.3,1219.7L1789.4,1223.6"/><path class="m" d="M1758.4,1230L1763.6,1241.7L1789.4,1236.5"/><path class="t" d="M1763.6,1241.7L1766.1,1249.4L1790.7,1244.3"/><ellipse class="m" cx="1776.5" cy="1237.2" rx="2.8" ry="1.8" transform="rotate(-20 1776.5 1237.2)"/><path class="m" d="M1772.6,1238.4L1784.3,1233.9"/><path class="t" d="M1762.3,1259.8L1790.7,1250.7"/><path class="t" d="M1749.3,1284.4L1784.3,1275.3L1789.4,1287"/><path class="m" d="M1750.6,1287L1783,1277.9"/><path class="t" d="M1713.1,1263.7L1718.3,1272.8"/><path class="t" d="M1745.4,1275.3L1750.6,1287"/><path class="m" d="M1812.8,1271.5L1821.8,1266.3L1827,1287L1833.5,1303.8"/><path class="t" d="M1806.3,1292.2L1827,1287"/><path class="t" d="M1802.4,1296.1L1806.3,1310.3"/><path class="t" d="M1807.6,1292.2L1812.8,1311.6"/><ellipse class="m" cx="1821.8" cy="1299.3" rx="4.1" ry="5.2"/><ellipse class="t" cx="1821.8" cy="1299.3" rx="2.3" ry="3.1"/><ellipse class="t" cx="1810.8" cy="1281.8" rx="2.1" ry="3.9" transform="rotate(-10 1810.8 1281.8)"/><path class="t" d="M1789.4,1287L1806.3,1292.2"/><path class="t" d="M1783,1279.2L1797.2,1288.3"/><path class="t" d="M1776.5,1287C1778.7,1288.1 1785.1,1292.4 1789.4,1293.5C1793.8,1294.5 1800.2,1293.5 1802.4,1293.5"/><path class="t" d="M1887.8,1202.8L1885.2,1210.6L1891.7,1213.2"/><path class="t" d="M1867.1,1231.3L1873.6,1223.6"/><path class="t" d="M1793.3,1196.4L1797.2,1199"/><path class="m" d="M1717,1158.8L1727.3,1155.6L1732.5,1162.7"/><path class="m" d="M1729.9,1157.5L1750.6,1152.4"/><path class="m" d="M1737.7,1164L1755.8,1158.8"/><path class="m" d="M1727.3,1174.4L1753.2,1165.3"/><path class="m" d="M1720.8,1187.3L1727.3,1185.4"/><path class="m" d="M1732.5,1180.8L1755.8,1173.1"/><path class="m" d="M1763.6,1162.7L1771.3,1174.4L1776.5,1187.3"/><path class="m" d="M1714.4,1177L1720.8,1174.4"/><path class="m" d="M1710.5,1187.3L1717,1192.5"/><path class="m" d="M1702.7,1197.7L1709.2,1196.4"/><path class="m" d="M1698.8,1192.5L1704,1200.3"/><path class="m" d="M1784.3,1169.2L1789.4,1184.7"/><path class="m" d="M1773.9,1192.5L1781.7,1195.1"/><path class="m" d="M1789.4,1276.6L1797.2,1287"/><path class="m" d="M1802.4,1281.8L1810.2,1279.2"/><path class="m" d="M1784.3,1280.5L1790.7,1292.2"/>
<!-- 23_handle.svg -->
<ellipse class="o" cx="1496.5" cy="475.7" rx="48.3" ry="57.3" transform="rotate(-8 1496.5 475.7)"/><ellipse class="t" cx="1500.6" cy="476.2" rx="39.9" ry="49.1" transform="rotate(-8 1500.6 476.2)"/><path class="t" d="M1485.3,426.6C1486.6,429.3 1490,438.6 1493.5,443C1496.9,447.4 1503.7,451.5 1505.7,453.2"/><path class="t" d="M1491.4,424.6C1492.8,427.3 1496.2,436.5 1499.6,440.9C1503,445.4 1509.8,449.5 1511.9,451.2"/><path class="w" d="M1507.8,453.6C1516.3,451.4 1533.7,449 1544.6,448.5C1555.6,448 1563.7,448.7 1573.3,450.6C1582.8,452.4 1597.9,451.1 1602,459.8C1606,468.4 1601.6,487.7 1597.9,502.4C1594.1,517 1588.3,542.3 1579.4,547.8C1570.6,553.3 1555.2,540 1544.6,535.5C1534.1,531.1 1524.8,527.3 1516,521.2C1507.1,515 1496.3,505.8 1491.4,498.7C1486.6,491.5 1486.6,484.3 1486.9,478.2C1487.3,472.1 1490,465.9 1493.5,461.8C1496.9,457.7 1499.3,455.9 1507.8,453.6Z"/><path class="o" style="fill:none" d="M1540.5,448.7C1546,449 1563.1,448.7 1573.3,450.6C1583.5,452.4 1597.2,458.2 1602,459.8"/><path class="o" style="fill:none" d="M1511.9,519.8C1517.3,522.4 1533.4,530.8 1544.6,535.5C1555.9,540.2 1573.6,545.8 1579.4,547.8"/><path class="t" d="M1509.8,457.3C1515.6,456.7 1534.1,453.6 1544.6,453.6C1555.2,453.6 1565.1,455.3 1573.3,457.3C1581.5,459.3 1590.4,464.1 1593.8,465.5"/><path class="t" d="M1507.8,514.6L1507.8,522.8"/><text x="1512.9" y="506.4" transform="rotate(-9 1512.9 506.4)" style="font-size:15.5px;font-style:italic;font-weight:bold;text-anchor:start;letter-spacing:-0.6px" stroke="#161616" stroke-width="0.9">Milwaukee</text><path class="m" d="M1526.2,522.8L1538.5,516.7L1536.4,521.8L1559,511.6L1555.9,516.7L1573.3,507.5"/><path class="t" d="M1528.3,524.9L1540.5,519.8L1538.5,524.9L1561,514.6L1557.9,519.8L1571.2,511.6"/><ellipse class="o" cx="1650.1" cy="520.4" rx="76.2" ry="87" transform="rotate(-6 1650.1 520.4)"/><ellipse class="t" cx="1650.1" cy="520.8" rx="69.6" ry="80.2" transform="rotate(-6 1650.1 520.8)"/><ellipse class="t" cx="1647.4" cy="521.2" rx="48.1" ry="54.9" transform="rotate(-6 1647.4 521.2)"/><ellipse class="t" cx="1645.4" cy="522.8" rx="34.8" ry="40.9" transform="rotate(-6 1645.4 522.8)"/><ellipse class="t" cx="1701.2" cy="501.7" rx="4.1" ry="4.5"/><ellipse class="t" cx="1596.2" cy="538.8" rx="4.1" ry="4.5"/><ellipse class="t" cx="1701.2" cy="501.7" rx="2" ry="2.3"/><path class="m" d="M1636.8,464.5C1635.7,467.6 1635.4,481.4 1634.7,486C1634,490.6 1629.6,490.1 1632.7,492.1C1635.7,494.2 1650.7,498.6 1653.1,498.3C1655.5,497.9 1649,495.2 1647,490.1C1644.9,485 1642.6,471.8 1640.8,467.6C1639.1,463.3 1637.8,461.4 1636.8,464.5Z"/><path class="m" d="M1686.9,476.8C1685.2,476.1 1675.8,483.4 1671.6,486C1667.3,488.5 1661.3,490.4 1661.3,492.1C1661.3,493.8 1668.1,496.6 1671.6,496.2C1675,495.9 1679.2,493.3 1681.8,490.1C1684.4,486.8 1688.6,477.4 1686.9,476.8Z"/><path class="m" d="M1598.9,507.5C1604.3,508 1626.5,512.9 1632.7,514.6C1638.8,516.3 1635.7,516.7 1635.7,517.7C1635.7,518.7 1638.6,521.8 1632.7,520.8C1626.7,519.8 1605.5,513.8 1599.9,511.6C1594.3,509.3 1593.4,507 1598.9,507.5Z"/><path class="m" d="M1610.1,563.8C1609.1,563.1 1615.9,551.1 1620.4,547.4C1624.8,543.6 1633.7,541.6 1636.8,541.2C1639.8,540.9 1640.5,543.6 1638.8,545.3C1637.1,547 1631.3,548.4 1626.5,551.5C1621.7,554.6 1611.2,564.4 1610.1,563.8Z"/><path class="m" d="M1662.3,577.1C1661.3,577.4 1657.7,568.4 1655.2,563.8C1652.6,559.2 1646.6,551.5 1647,549.4C1647.3,547.4 1654.8,549.4 1657.2,551.5C1659.6,553.5 1660.5,557.5 1661.3,561.7C1662.2,566 1663.4,576.7 1662.3,577.1Z"/><path class="w" d="M1632.7,496.2C1636.6,491.5 1644.9,490.4 1655.2,492.5C1665.4,494.6 1684.5,503.8 1694.1,508.9C1703.6,514 1710.6,515.4 1712.5,523.2C1714.4,531.1 1711.5,550.5 1705.3,556C1699.2,561.4 1687.4,558 1675.6,556C1663.9,553.9 1642,549.6 1634.7,543.7C1627.4,537.8 1632,528.7 1631.6,520.8C1631.3,512.9 1628.7,500.9 1632.7,496.2Z"/><path class="t" d="M1655.2,492.5L1694.1,508.9"/><path class="t" d="M1634.7,543.7L1675.6,556"/><ellipse class="w" cx="1693.1" cy="533.5" rx="18.8" ry="22.9" transform="rotate(-8 1693.1 533.5)"/><ellipse class="t" cx="1696.1" cy="533.9" rx="16.4" ry="20.5" transform="rotate(-8 1696.1 533.9)"/><path class="w" d="M1702.3,520.8C1713.5,522.4 1738.8,531.2 1757.5,536.7C1776.3,542.3 1804.4,550.1 1814.9,553.9C1825.3,557.8 1810.8,556.5 1820,560.1C1829.2,563.7 1860.7,571.4 1870.1,575.6C1879.5,579.8 1876.3,581.7 1876.3,585.3C1876.3,588.8 1872.2,594.9 1870.1,596.9C1868.1,599 1873.8,599.9 1864,597.5C1854.2,595.2 1821.1,584.7 1811.2,582.6C1801.3,580.5 1814.9,586.8 1804.6,584.6C1794.3,582.5 1767.8,574.6 1749.3,569.5C1730.9,564.4 1704.7,558.6 1694.1,553.9C1683.5,549.2 1686.6,545.8 1685.9,541.2C1685.2,536.7 1687.3,530.3 1690,526.9C1692.7,523.5 1691,519.1 1702.3,520.8Z"/><path class="o" style="fill:none" d="M1712.5,523.8C1720,526 1740.5,531.7 1757.5,536.7C1774.6,541.8 1804.4,550.1 1814.9,553.9C1825.3,557.8 1810.8,556.5 1820,560.1C1829.2,563.7 1860.7,571.4 1870.1,575.6C1879.5,579.8 1876.3,581.7 1876.3,585.3C1876.3,588.8 1872.2,594.9 1870.1,596.9C1868.1,599 1873.8,599.9 1864,597.5C1854.2,595.2 1821.1,584.7 1811.2,582.6C1801.3,580.5 1814.9,586.8 1804.6,584.6C1794.3,582.5 1766.1,574.2 1749.3,569.5C1732.6,564.8 1711.8,558.8 1704.3,556.6"/><ellipse class="t" cx="1694.1" cy="537.6" rx="9.2" ry="16.8" transform="rotate(-8 1694.1 537.6)"/><ellipse class="t" cx="1800.5" cy="572.4" rx="6.1" ry="13.9" transform="rotate(-8 1800.5 572.4)"/><ellipse class="t" cx="1803.6" cy="573.2" rx="5.3" ry="12.3" transform="rotate(-8 1803.6 573.2)"/><ellipse class="t" cx="1868.5" cy="586.7" rx="6.8" ry="10.2" transform="rotate(-8 1868.5 586.7)"/><path class="t" d="M1820,560.1L1811.2,582.6"/><path class="t" d="M1838.4,570.9L1840,591.4"/><path class="t" d="M1840.8,571.6L1842.5,592.1"/><path class="t" d="M1843.3,572.4L1844.9,592.8"/><path class="t" d="M1845.8,573.1L1847.4,593.6"/><path class="t" d="M1848.2,573.8L1849.9,594.3"/><path class="t" d="M1850.7,574.5L1852.3,595"/><path class="t" d="M1853.1,575.2L1854.8,595.7"/><path class="t" d="M1855.6,575.9L1857.2,596.4"/><path class="t" d="M1858,576.7L1859.7,597.1"/>
<!-- 24_clamps.svg -->
<path class="o4" d="M1851.1,407.7C1855.3,405.5 1867,399 1875.5,398.8C1884,398.7 1897.1,404 1902.1,406.6C1907.1,409.2 1904.7,411.8 1905.5,414.4C1906.2,417 1907.1,420.1 1906.6,422.1C1906,424.2 1902.7,424.2 1902.1,426.6C1901.6,429 1904.9,433.2 1903.2,436.6C1901.6,439.9 1894.5,443.6 1892.1,446.6C1889.7,449.5 1888.6,448.6 1888.8,454.3C1889,460.1 1892.3,475.4 1893.2,481C1894.2,486.5 1894.5,486 1894.4,487.6C1894.2,489.3 1892.3,488.7 1892.1,490.9C1892,493.2 1892.1,498.7 1893.2,500.9C1894.4,503.1 1897.5,501.3 1898.8,504.3C1900.1,507.2 1901.4,515.4 1901,518.7C1900.6,522 1900.8,521.8 1896.6,524.2C1892.3,526.6 1880.7,532 1875.5,533.1C1870.3,534.2 1867.9,532.6 1865.5,530.9C1863.1,529.2 1862.9,527.7 1861.1,523.1C1859.2,518.5 1856,510.2 1854.4,503.1C1852.8,496.1 1852,488.4 1851.6,481C1851.3,473.6 1851.4,465.4 1852.2,458.8C1853,452.1 1856.4,446.2 1856.6,441C1856.9,435.8 1855,432.5 1853.9,427.7C1852.7,422.9 1850.4,415.5 1850,412.2C1849.5,408.8 1846.8,409.9 1851.1,407.7Z"/><path class="t" d="M1855,411.1L1877.7,417.2L1901,409.9"/><path class="t" d="M1877.7,417.2L1879.9,427.7"/><path class="t" d="M1878.8,418.8L1902.1,411.6"/><path class="t" d="M1873.8,430.5C1874.5,430.4 1877.2,427.8 1877.7,429.9C1878.2,432 1878.5,439.5 1876.6,443.2C1874.8,446.9 1868.9,449 1866.6,452.1C1864.3,455.3 1863.3,457.3 1862.7,462.1C1862.2,466.9 1862.6,472.3 1863.3,481C1863.9,489.6 1864.8,505.9 1866.6,514.2C1868.5,522.6 1873.1,528.1 1874.4,530.9"/><path class="t" d="M1878.8,442.1C1877.3,443.8 1872.1,448.8 1869.9,452.1C1867.8,455.4 1866.6,457.3 1866.1,462.1C1865.5,466.9 1866,472.5 1866.6,481C1867.3,489.5 1868.3,505 1869.9,513.1C1871.6,521.3 1875.5,527 1876.6,529.8"/><ellipse class="m" cx="1888.3" cy="427.7" rx="6.4" ry="8.3" transform="rotate(20 1888.3 427.7)"/><ellipse class="t" cx="1893.8" cy="425.5" rx="5.5" ry="7.8" transform="rotate(20 1893.8 425.5)"/><path class="m" d="M1873.3,430.5L1878.8,429.9"/><path class="t" d="M1877.7,441L1901,433.2"/><path class="t" d="M1866.6,464.9L1887.7,457.7"/><path class="t" d="M1866.6,474.3L1888.8,466.5"/><path class="t" d="M1863.3,493.2L1891,483.2"/><path class="t" d="M1867.7,513.1L1892.1,504.8"/><path class="t" d="M1868.3,516.5L1896.6,506.5"/><path class="m" d="M1866.6,472.6L1888.8,464.9"/><path class="m" d="M1867.7,514.8L1894.4,505.6"/><path class="t" d="M1875.5,532L1898.8,523.1"/><path class="o4" d="M1937.6,395.5C1942.1,393 1954.5,386.4 1963.1,386.1C1971.8,385.8 1984.8,391 1989.8,393.9C1994.8,396.7 1992.2,399.5 1993.1,403.3C1994,407.1 1994.2,412.5 1995.3,416.6C1996.4,420.7 1996.8,421.4 1999.8,427.7C2002.7,434 2009.2,445.5 2013.1,454.3C2017,463.2 2020.7,472.8 2023.1,481C2025.5,489.1 2026.7,496.9 2027.5,503.1C2028.3,509.4 2028.8,515 2028.1,518.7C2027.3,522.4 2027.6,522.8 2023.1,525.3C2018.5,527.8 2005.9,532.7 2000.9,533.7C1995.9,534.6 1995.1,532.3 1993.1,530.9C1991.1,529.5 1989.8,528.5 1988.7,525.3C1987.6,522.2 1986.3,515.2 1986.4,512C1986.6,508.9 1989.2,509.8 1989.8,506.5C1990.3,503.1 1990.9,494.8 1989.8,492.1C1988.7,489.3 1984.8,493.2 1983.1,489.8C1981.5,486.5 1981.6,477.6 1979.8,472.1C1977.9,466.5 1975.4,462.1 1972,456.5C1968.7,451 1963.7,443.4 1959.8,438.8C1955.9,434.2 1950.8,432.5 1948.7,428.8C1946.7,425.1 1949.1,419.7 1947.6,416.6C1946.1,413.5 1941.7,412.5 1939.8,409.9C1938,407.4 1936.9,403.5 1936.5,401.1C1936.1,398.7 1933.2,398 1937.6,395.5Z"/><path class="t" d="M1941,397.7L1965.4,404.4L1988.7,396.6"/><path class="t" d="M1965.4,404.4C1966.1,409 1966.5,423.1 1969.8,432.1C1973.1,441.2 1980.7,448.8 1985.3,458.8C1990,468.8 1994.6,480.2 1997.5,492.1C2000.5,503.9 2002.2,523.5 2003.1,529.8"/><path class="t" d="M1968.7,406.6C1969.4,410.9 1969.8,423.4 1973.1,432.1C1976.5,440.8 1984,448.8 1988.7,458.8C1993.3,468.8 1998.1,480.6 2000.9,492.1C2003.6,503.5 2004.6,521.6 2005.3,527.6"/><ellipse class="m" cx="1979.2" cy="415.5" rx="7.8" ry="9.4" transform="rotate(15 1979.2 415.5)"/><ellipse class="t" cx="1977.9" cy="415.5" rx="5.5" ry="7.3" transform="rotate(15 1977.9 415.5)"/><ellipse class="t" cx="1978.6" cy="415.5" rx="4.9" ry="6.4" transform="rotate(15 1978.6 415.5)"/><ellipse class="t" cx="1979.2" cy="415.5" rx="4.2" ry="5.5" transform="rotate(15 1979.2 415.5)"/><ellipse class="t" cx="1979.9" cy="415.5" rx="3.6" ry="4.7" transform="rotate(15 1979.9 415.5)"/><ellipse class="t" cx="1980.6" cy="415.5" rx="2.9" ry="3.8" transform="rotate(15 1980.6 415.5)"/><path class="t" d="M1969.8,432.1L1993.1,424.4"/><path class="t" d="M1970.9,434.4L1994.2,426.6"/><path class="t" d="M2003.1,513.1L2023.1,505.9"/><path class="t" d="M2004.2,527.6L2024.2,519.8"/><path class="m" d="M1989.8,506.5L1993.1,509.8L1993.1,514.2"/>
<!-- 25_p76.svg -->
<path d="M2357.2,300.5C2357.7,298.9 2358.5,297.2 2360.8,295.7C2363.2,294.1 2367.3,290.7 2371.3,291C2375.3,291.3 2380.4,294.9 2384.9,297.3C2389.4,299.6 2395.6,303.1 2398.1,305.3C2400.7,307.4 2400.1,308.6 2400.3,310.1C2400.4,311.5 2400.9,312.4 2398.9,314.1C2396.9,315.8 2390.7,319.2 2388.1,320.1C2385.5,321 2386.2,320.8 2383.3,319.5C2380.3,318.3 2374.7,314.9 2370.5,312.5C2366.3,310 2360.2,306.9 2358,304.9C2355.8,302.9 2356.8,302 2357.2,300.5Z" fill="#1d1d1d" stroke="#161616" stroke-width="1.5"/><path d="M2362.8,300.5C2364,299.4 2366,295.1 2371.3,296.5C2376.5,297.8 2390.5,306.1 2394.5,308.5C2398.5,310.9 2396.5,309.7 2395.3,310.9C2394.1,312 2392.5,316.6 2387.3,315.3C2382.1,314 2368.1,305.3 2364,302.9C2360,300.4 2361.6,301.5 2362.8,300.5Z" fill="none" stroke="#8a8a8a" stroke-width="0.8"/><ellipse fill="none" stroke="#9a9a9a" stroke-width="0.8" cx="2383.3" cy="307.7" rx="5.6" ry="2.8" transform="rotate(25 2383.3 307.7)"/><path class="o4" d="M2359.2,365.4C2361.8,363.2 2369.7,358.4 2374.5,357.8C2379.3,357.1 2384,360.1 2388.1,361.4C2392.2,362.7 2397,363.7 2399.3,365.4C2401.6,367.1 2401.7,369.3 2401.9,371.8C2402,374.3 2401.9,378.6 2400.3,380.6C2398.7,382.6 2393.9,382.7 2392.1,383.8C2390.3,384.9 2391.3,386.4 2389.7,387.2C2388.1,388 2386.8,389.6 2382.5,388.8C2378.2,388 2367.9,385.2 2364,382.2C2360.2,379.3 2360,373.8 2359.2,371C2358.4,368.2 2356.7,367.6 2359.2,365.4Z"/><path class="m" d="M2365.7,368.2L2376.1,362.2L2395.3,368L2380.9,373.6Z"/><path class="m" d="M2380.9,373.6L2381.7,377.4"/><path class="t" d="M2366.5,371L2380.1,375.8L2384.9,385.4"/><path class="t" d="M2365.7,374.2L2375.3,377.4L2376.1,381.4L2366.5,378.2Z"/><path class="t" d="M2381.7,377.4L2396.1,371"/><path class="t" d="M2378.5,377.4L2382.5,385.4"/><path d="M2385.7,376.6C2386.2,375.1 2389.7,374.7 2391.3,375C2392.9,375.3 2394.8,377 2395.3,378.2C2395.8,379.4 2395.7,381.3 2394.5,382.2C2393.3,383.2 2389.6,384.8 2388.1,383.8C2386.6,382.9 2385.2,378.1 2385.7,376.6Z" fill="#161616"/><path class="m" d="M2391.3,373.4L2396.1,371.8L2397.7,376.6"/>
<!-- 26_p2728.svg -->
<path class="o4" d="M244.7,1350.2C247.4,1349.9 250.6,1350.6 252.6,1351.7C254.5,1352.8 255.4,1355.3 256.5,1356.6C257.7,1358 258.9,1358.3 259.5,1359.6C260,1360.9 260.4,1362.9 260,1364.5C259.5,1366.2 258.2,1368.2 256.5,1369.5C254.8,1370.7 252.1,1371.5 249.6,1371.9C247.1,1372.3 244.1,1372.7 241.7,1371.9C239.3,1371.2 236.6,1369.4 235.3,1367.5C234,1365.6 233.6,1362.9 233.8,1360.6C234,1358.3 234.5,1355.4 236.3,1353.7C238.1,1352 242,1350.6 244.7,1350.2Z"/><ellipse class="m" cx="244.2" cy="1361.1" rx="4.4" ry="4.9"/><ellipse class="m" cx="253.5" cy="1363.5" rx="3.6" ry="3.7"/><path class="t" d="M244.7,1356.1L253.5,1359.8"/><path class="t" d="M244.7,1366L252.6,1367.3"/><path class="o4" d="M307.8,1362.6C309.3,1359.9 310.8,1357.8 314.7,1355.7C318.7,1353.5 327.4,1350.6 331.5,1349.7C335.6,1348.8 336.7,1349.1 339.4,1350.2C342,1351.4 342.8,1352.6 347.3,1356.6C351.7,1360.7 361.6,1370.1 366,1374.4C370.5,1378.7 370.6,1381.5 373.9,1382.3C377.2,1383 381.3,1378.3 385.7,1378.8C390.2,1379.4 397.6,1383.4 400.5,1385.7C403.5,1388.1 402.8,1390.6 403.5,1393.1C404.2,1395.7 406.1,1398.6 404.5,1401C402.8,1403.5 395.1,1405.5 393.6,1407.9C392.2,1410.4 393.6,1413.7 395.6,1415.8C397.6,1418 403.5,1418.6 405.5,1420.8C407.5,1422.9 407,1424.9 407.5,1428.7C407.9,1432.4 408.3,1440.5 407.9,1443.5C407.6,1446.4 416.1,1442 405.5,1446.4C394.9,1450.9 356,1465.7 344.3,1470.1C332.6,1474.5 338.1,1473.1 335.4,1472.6C332.8,1472.1 330.5,1469.8 328.5,1467.1C326.6,1464.4 325.6,1462.7 323.6,1456.3C321.6,1449.9 319.2,1439.8 316.7,1428.7C314.2,1417.5 310.6,1398.7 308.8,1389.2C307,1379.7 306,1375.9 305.8,1371.4C305.7,1367 306.3,1365.2 307.8,1362.6Z"/><path class="m" d="M325.1,1381.3C325.4,1380.3 323.9,1378.7 326.6,1377.4C329.2,1376 337.9,1374.1 340.9,1373.4C343.8,1372.8 341.3,1370.8 344.3,1373.4C347.4,1376 357.8,1385.9 359.1,1389.2C360.4,1392.5 354.3,1390.5 352.2,1393.1C350.1,1395.8 347.5,1402.2 346.3,1405C345,1407.8 346.9,1408.8 344.8,1409.9C342.7,1411.1 335.9,1412.2 333.5,1411.9C331,1411.6 331.5,1412.7 330,1407.9C328.5,1403.2 325.4,1387.7 324.6,1383.3C323.8,1378.8 324.7,1382.3 325.1,1381.3Z"/><path class="m" d="M352.2,1393.1L387.7,1383.3L399.6,1390.2L401.5,1399.1L350.2,1418.8L346.3,1408.9Z"/><path class="t" d="M350.2,1418.8L351.2,1420.8L401.5,1401"/><path class="m" d="M337.4,1415.8L348.3,1410.9"/><path class="t" d="M337.4,1415.8L349.2,1419.8"/><ellipse class="m" cx="358.1" cy="1406" rx="5.4" ry="5.4"/><ellipse class="m" cx="358.1" cy="1406" rx="3.3" ry="3.3"/><ellipse class="m" cx="390.7" cy="1393.1" rx="5.9" ry="5.9"/><ellipse class="m" cx="390.7" cy="1393.1" rx="3.6" ry="3.6"/><ellipse class="m" cx="373.4" cy="1399.6" rx="3.7" ry="3.7"/><ellipse class="m" cx="370.5" cy="1433.6" rx="9.4" ry="16.6" transform="rotate(-10 370.5 1433.6)"/><path class="m" d="M361.6,1431.6L378.8,1427.2"/><path class="t" d="M362.1,1433.6L379,1429.2"/><path class="t" d="M365,1444.9L377.9,1440.5"/><path class="m" d="M337.4,1415.8C337.2,1417 335.6,1419.6 336.4,1422.7C337.2,1425.9 342.5,1431.1 342.3,1434.6C342.2,1438 336.1,1439.8 335.4,1443.5C334.8,1447.1 337.4,1451.8 338.4,1456.3C339.4,1460.7 340.9,1467.8 341.3,1470.1"/><path class="t" d="M334.4,1422.7C334.3,1423.7 332.8,1426.7 333.5,1428.7C334.1,1430.6 337.6,1433.6 338.4,1434.6"/><path class="t" d="M328.5,1457.3L337.4,1455.3"/>
<!-- 27_p81.svg -->
<path class="o4" d="M554.8,1291.6L560.3,1287L591.8,1276.1L623.2,1265.3L628.8,1264.8L644.5,1269.9L648.2,1274L653.8,1301.8L659.3,1330.5L657.5,1333.2L641.7,1338.8L638,1345.3L634.3,1345.3L627.9,1341.1L608.4,1349L607.5,1354.5L603.8,1356.4L588.1,1362.8L582.5,1362.4L566.8,1356.4L565,1353.6L559.4,1326.8L553.9,1299.9Z"/><path class="t" d="M559.4,1294.4L574.2,1297.2L641.7,1274"/><path class="t" d="M566.8,1291.6L577,1296.2L642.7,1277.7"/><path class="t" d="M574.2,1297.2L590.9,1356.4"/><path class="t" d="M578.8,1303.6L581.6,1357.3"/><path class="t" d="M559.4,1294.4L563.1,1301.8L568.7,1354.5"/><path class="t" d="M584.4,1358.2L603.8,1351.7"/><ellipse class="m" cx="569.6" cy="1309.2" rx="4.6" ry="8.8" transform="rotate(-15 569.6 1309.2)"/><ellipse class="m" cx="576.1" cy="1340.6" rx="4.6" ry="8.8" transform="rotate(-15 576.1 1340.6)"/><path class="m" d="M603.8,1349.9C604.1,1345 604.1,1326.3 605.2,1320.3C606.3,1314.3 607.6,1315.5 610.3,1313.8C613,1312.1 618.8,1310.3 621.4,1310.1C624,1310 622.6,1308.3 626,1312.9C629.4,1317.5 639.1,1333.7 641.7,1337.9"/><path class="t" d="M606.6,1346.2C606.8,1342.2 606.3,1327.3 607.5,1322.1C608.8,1317 611.7,1316.4 614,1315.2C616.3,1314 617.7,1310.4 621.4,1314.7C625.1,1319.1 633.7,1337.1 636.2,1341.6"/><ellipse class="m" cx="611.2" cy="1331.4" rx="5.7" ry="9.2" transform="rotate(-10 611.2 1331.4)"/><ellipse class="t" cx="610.8" cy="1331.9" rx="3.9" ry="6.5" transform="rotate(-10 610.8 1331.9)"/><ellipse class="t" cx="610.3" cy="1332.3" rx="2.3" ry="3.9" transform="rotate(-10 610.3 1332.3)"/><path class="t" d="M615.8,1317.5C615.1,1314.9 618.3,1313.7 620.5,1315.7C622.6,1317.7 628,1326.9 628.8,1329.5C629.6,1332.2 627.3,1333.4 625.1,1331.4C622.9,1329.4 616.6,1320.1 615.8,1317.5Z"/><path class="t" d="M614,1316.6L627.9,1340.6"/><text x="594.6" y="1312.9" transform="rotate(-31 594.6 1312.9)" style="font-size:10.5px;font-style:italic;font-weight:bold;text-anchor:start;letter-spacing:-0.5px" stroke="#161616" stroke-width="0.7">Milwaukee</text><path class="m" d="M594.6,1319.4L633.4,1290.2"/><path class="t" d="M604.7,1310.1L621.4,1301.8L620.5,1303.6L631.6,1293.5"/><path class="o4" d="M663.9,1370.2C664.3,1368.2 665.2,1365.1 666.7,1363.8C668.3,1362.5 670.7,1362.9 673.2,1362.4C675.7,1361.8 678.7,1360 681.5,1360.5C684.3,1361.1 688,1363.4 689.8,1365.6C691.7,1367.9 692.6,1371.2 692.6,1373.9C692.6,1376.7 691.7,1380.3 689.8,1382.3C688,1384.3 684.1,1385.8 681.5,1386C678.9,1386.1 676,1384.4 674.1,1383.2C672.3,1382 672,1379.8 670.4,1378.6C668.9,1377.3 666,1377.2 664.9,1375.8C663.8,1374.4 663.6,1372.3 663.9,1370.2Z"/><ellipse class="m" cx="682.9" cy="1373.8" rx="6.7" ry="9.1" transform="rotate(-10 682.9 1373.8)"/><ellipse class="m" cx="682" cy="1374.4" rx="2.8" ry="2.8"/><path class="t" d="M669.5,1364.7C669.3,1365.6 668,1368.2 668.1,1370.2C668.3,1372.3 670,1375.6 670.4,1376.7"/>
<!-- 28_p82.svg -->
<path class="o" d="M2668.9,1416.2C2671.6,1412.3 2672.5,1411.3 2679.7,1408.1C2686.9,1404.9 2701.3,1400.7 2712.1,1397C2722.9,1393.3 2734.6,1387.5 2744.5,1385.8C2754.4,1384 2763,1386.1 2771.5,1386.5C2780.1,1386.8 2790.2,1386.9 2795.8,1387.8C2801.5,1388.7 2802.4,1389.4 2805.3,1391.9C2808.2,1394.3 2807.8,1401 2813.4,1402.7C2819,1404.3 2833.6,1400.9 2839,1402C2844.4,1403.1 2844.4,1406.6 2845.8,1409.4C2847.1,1412.2 2847.8,1416.4 2847.1,1418.9C2846.5,1421.3 2845.3,1421.8 2841.7,1424.3C2838.1,1426.7 2828.5,1429 2825.5,1433.7C2822.6,1438.4 2825.3,1448.1 2824.2,1452.6C2823.1,1457.1 2824.2,1455.3 2818.8,1460.7C2813.4,1466.1 2799.2,1479.4 2791.8,1485C2784.4,1490.7 2782.3,1490.9 2774.2,1494.5C2766.1,1498 2753.3,1502.5 2743.2,1506.4C2733,1510.2 2719.5,1515.4 2713.5,1517.4C2707.4,1519.5 2709.6,1519 2706.7,1518.8C2703.8,1518.6 2699.7,1518.8 2695.9,1516.1C2692.1,1513.4 2687.8,1508.9 2683.8,1502.6C2679.7,1496.3 2674.9,1486.8 2671.6,1478.3C2668.3,1469.7 2665.5,1459.1 2664.2,1451.3C2662.8,1443.4 2662.7,1436.9 2663.5,1431C2664.3,1425.2 2666.2,1420 2668.9,1416.2Z"/><path class="t" d="M2682.4,1410.8C2686,1413.2 2697.7,1418.2 2704,1425.6C2710.3,1433 2716.4,1445.4 2720.2,1455.3C2724,1465.2 2726.1,1476.9 2727,1485C2727.9,1493.1 2726.7,1499.1 2725.6,1503.9C2724.5,1508.8 2721.1,1512.4 2720.2,1514.1"/><path class="t" d="M2686.5,1409.4C2690.1,1411.9 2701.8,1416.8 2708.1,1424.3C2714.4,1431.7 2720.4,1444.1 2724.3,1454C2728.1,1463.9 2730.1,1475.6 2731,1483.7C2731.9,1491.8 2730.6,1497.9 2729.7,1502.6C2728.8,1507.3 2726.3,1510.5 2725.6,1512"/><ellipse class="m" cx="2693.2" cy="1464.8" rx="13.5" ry="25" transform="rotate(-15 2693.2 1464.8)"/><ellipse class="t" cx="2693.9" cy="1464.8" rx="15.9" ry="27.7" transform="rotate(-15 2693.9 1464.8)"/><ellipse class="t" cx="2694.6" cy="1465.9" rx="9.2" ry="18.2" transform="rotate(-15 2694.6 1465.9)"/><ellipse class="t" cx="2695.9" cy="1466.1" rx="7.4" ry="15.5" transform="rotate(-15 2695.9 1466.1)"/><path class="t" d="M2743.2,1390.5C2747,1395 2759.8,1406.3 2766.1,1417.5C2772.4,1428.8 2778.7,1445.9 2781,1458C2783.2,1470.2 2779.8,1485 2779.6,1490.4"/><path class="t" d="M2747.2,1389.2C2751,1393.7 2763.9,1404.9 2770.2,1416.2C2776.5,1427.4 2782.8,1444.5 2785,1456.7C2787.3,1468.8 2783.9,1483.7 2783.7,1489.1"/><path class="t" d="M2752.6,1388.5C2756.4,1393 2769.3,1404.3 2775.6,1415.5C2781.9,1426.6 2788.2,1443.5 2790.4,1455.3C2792.7,1467.1 2789.3,1481.2 2789.1,1486.4"/><path class="t" d="M2771.5,1390.5C2775.1,1395 2787.7,1408.1 2793.1,1417.5C2798.5,1427 2802.4,1438.7 2803.9,1447.2C2805.5,1455.8 2802.8,1465.2 2802.6,1468.8"/><path class="t" d="M2775.6,1389.8C2779.2,1394.3 2791.8,1407.4 2797.2,1416.8C2802.6,1426.3 2806.4,1438.3 2808,1446.5C2809.6,1454.8 2806.9,1462.9 2806.6,1466.1"/><path class="t" d="M2813.4,1402.7C2814.3,1405.1 2817,1412.3 2818.8,1417.5C2820.6,1422.7 2823.3,1431 2824.2,1433.7"/><path class="t" d="M2818.8,1416.2L2839,1408.1"/><ellipse class="t" cx="2682.4" cy="1424.9" rx="1.6" ry="6.1" transform="rotate(-60 2682.4 1424.9)"/><ellipse class="t" cx="2672.3" cy="1443.8" rx="1.6" ry="6.1" transform="rotate(5 2672.3 1443.8)"/><ellipse class="t" cx="2704" cy="1445.2" rx="1.6" ry="6.1" transform="rotate(-25 2704 1445.2)"/><ellipse class="t" cx="2682.4" cy="1483" rx="1.6" ry="6.1" transform="rotate(-25 2682.4 1483)"/><ellipse class="t" cx="2714.8" cy="1484.4" rx="1.6" ry="6.1" transform="rotate(5 2714.8 1484.4)"/><ellipse class="t" cx="2704" cy="1502.6" rx="1.6" ry="6.1" transform="rotate(-60 2704 1502.6)"/><path class="o" d="M2882.2,1383.8C2888.2,1380.9 2908.3,1375.2 2914.7,1372.3C2921,1369.4 2917.8,1367.6 2920.1,1366.2C2922.3,1364.9 2925.2,1363.5 2928.2,1364.2C2931.1,1364.9 2935.2,1367.4 2937.6,1370.3C2940,1373.1 2941.9,1377.5 2942.3,1381.1C2942.8,1384.7 2942,1389.2 2940.3,1391.9C2938.6,1394.6 2934.7,1396.7 2932.2,1397.3C2929.7,1397.8 2932.2,1393.4 2925.5,1395.2C2918.7,1397 2898.4,1406.4 2891.7,1408.1C2884.9,1409.7 2887,1407.2 2884.9,1405.4C2882.9,1403.6 2880.6,1400 2879.5,1397.3C2878.5,1394.6 2878.4,1391.4 2878.9,1389.2C2879.3,1386.9 2876.3,1386.6 2882.2,1383.8Z"/><ellipse class="t" cx="2887" cy="1395.9" rx="4.5" ry="8.1" transform="rotate(-15 2887 1395.9)"/><ellipse class="t" cx="2887.9" cy="1395.6" rx="3.8" ry="7" transform="rotate(-15 2887.9 1395.6)"/><path class="t" d="M2914.7,1373C2915.3,1374.8 2918,1380.2 2918.7,1383.8C2919.4,1387.4 2918.7,1392.8 2918.7,1394.6"/><path class="t" d="M2922.8,1370.3C2923.7,1372.3 2927.5,1378.4 2928.2,1382.4C2928.8,1386.5 2927,1392.5 2926.8,1394.6"/><path class="t" d="M2932.2,1367.6C2932.9,1369.6 2935.8,1375.4 2936.3,1379.7C2936.7,1384 2935.1,1391 2934.9,1393.2"/><path class="t" d="M2916.7,1372.3C2917.4,1374.2 2920.1,1380 2920.7,1383.8C2921.4,1387.5 2920.7,1392.8 2920.7,1394.6"/>
<!-- 29_stator.svg -->
<path class="o" d="M1799.3,1524C1811.1,1520.8 1845.5,1512 1856.3,1510.1C1867.1,1508.2 1861.5,1510.5 1864,1512.4C1866.6,1514.4 1868.9,1520.5 1871.7,1521.7C1874.6,1522.8 1877.9,1519 1881,1519.4C1884.1,1519.8 1888.1,1521.8 1890.2,1524C1892.4,1526.2 1894.3,1529.8 1894.1,1532.5C1893.8,1535.2 1887.3,1535 1888.7,1540.2C1890.1,1545.3 1900,1557.6 1902.6,1563.3C1905.1,1568.9 1903.9,1571 1904.1,1574.1C1904.4,1577.2 1903.1,1579.5 1904.1,1581.8C1905.1,1584.1 1909.5,1584.3 1910.3,1587.9C1911,1591.5 1908.2,1598.2 1908.7,1603.4C1909.2,1608.5 1913.4,1615.2 1913.4,1618.8C1913.4,1622.4 1911.3,1623.1 1908.7,1624.9C1906.2,1626.7 1901.3,1627.5 1897.9,1629.6C1894.6,1631.6 1893.6,1634.4 1888.7,1637.3C1883.8,1640.1 1874.3,1643.8 1868.7,1646.5C1863,1649.2 1856.7,1650.4 1854.8,1653.4C1852.9,1656.5 1858.1,1661.9 1857.1,1665C1856.1,1668.1 1852.1,1670.9 1848.6,1671.9C1845.2,1673 1840.4,1671.8 1836.3,1671.2C1832.2,1670.5 1828.1,1669.6 1824,1668.1C1819.9,1666.5 1815.8,1664.5 1811.6,1661.9C1807.5,1659.3 1801.6,1655.2 1799.3,1652.7C1797,1650.1 1799.6,1649.6 1797.8,1646.5C1796,1643.4 1791.4,1638.3 1788.5,1634.2C1785.7,1630.1 1782.4,1625.2 1780.8,1621.8C1779.3,1618.5 1780.6,1618.8 1779.3,1614.1C1778,1609.5 1774.7,1600.5 1773.1,1594.1C1771.6,1587.7 1771.2,1581 1770,1575.6C1768.9,1570.2 1766.7,1565.2 1766.2,1561.7C1765.7,1558.3 1765.8,1556.4 1767,1554.8C1768.1,1553.3 1771.6,1554.9 1773.1,1552.5C1774.7,1550.1 1774.1,1544 1776.2,1540.2C1778.3,1536.3 1781.6,1532.1 1785.4,1529.4C1789.3,1526.7 1787.5,1527.2 1799.3,1524Z"/><path class="t" d="M1803.9,1532.5C1808.3,1536.6 1823.2,1546.8 1830.1,1557.1C1837.1,1567.4 1842.2,1581.5 1845.5,1594.1C1848.9,1606.7 1850.2,1622.4 1850.2,1632.6C1850.2,1642.9 1846.3,1651.9 1845.5,1655.7"/><path class="t" d="M1807.3,1531.4C1811.7,1535.6 1826.6,1545.8 1833.5,1556.1C1840.5,1566.4 1845.6,1580.5 1848.9,1593.1C1852.3,1605.7 1853.6,1621.3 1853.6,1631.6C1853.6,1641.9 1849.7,1650.9 1848.9,1654.7"/><path class="t" d="M1810.7,1530.4C1815.1,1534.5 1830,1544.8 1836.9,1555.1C1843.9,1565.4 1849,1579.5 1852.3,1592.1C1855.7,1604.7 1857,1620.3 1857,1630.6C1857,1640.9 1853.1,1649.9 1852.3,1653.7"/><path class="t" d="M1814.1,1529.4C1818.5,1533.5 1833.4,1543.8 1840.3,1554.1C1847.2,1564.3 1852.4,1578.5 1855.7,1591.1C1859.1,1603.6 1860.3,1619.3 1860.3,1629.6C1860.3,1639.9 1856.5,1648.8 1855.7,1652.7"/><path class="m" d="M1800.9,1535.5C1804.7,1539.4 1817.6,1548.9 1824,1558.7C1830.4,1568.4 1836,1581.8 1839.4,1594.1C1842.7,1606.4 1844,1621.8 1844,1632.6C1844,1643.4 1840.2,1654.5 1839.4,1658.8"/><path class="t" d="M1805.5,1530.9L1857.9,1514"/><path class="t" d="M1808.6,1534L1862.5,1517.1"/><path class="m" d="M1836.3,1567.9L1888.7,1551"/><path class="t" d="M1840.9,1574.1L1890.2,1557.1"/><path class="m" d="M1850.2,1631.1L1902.6,1613.4"/><path class="t" d="M1850.9,1636.5L1904.1,1618"/><path class="t" d="M1873.3,1523.2L1888.7,1547.9L1897.9,1572.5L1904.1,1609.5"/><path class="m" d="M1882.5,1538.6L1897.9,1566.4"/><path class="t" d="M1880.2,1532.5L1887.2,1530.2L1889.5,1536.3L1882.5,1538.6Z"/><path class="t" d="M1901,1615.7L1908.7,1612.6L1910.3,1621.8L1902.6,1624.9Z"/><path class="m" d="M1780.8,1547.9C1780.3,1551.7 1777.2,1562 1777.7,1571C1778.3,1580 1780.8,1591.5 1783.9,1601.8C1787,1612.1 1791.6,1623.6 1796.2,1632.6C1800.9,1641.6 1807,1650.4 1811.6,1655.7C1816.3,1661.1 1821.9,1663.5 1824,1665"/><path class="t" d="M1787,1544.8C1786.6,1549.2 1784,1561.7 1784.7,1571C1785.3,1580.2 1787.8,1590.5 1790.8,1600.3C1793.9,1610 1798.7,1621.1 1803.2,1629.6C1807.7,1638 1815.4,1647.5 1817.8,1651.1"/><path class="m" d="M1783.1,1584.9L1814.7,1574.1L1822.4,1592.6L1788.5,1603.4"/><path class="m" d="M1788.5,1603.4L1796.2,1629.6L1830.1,1617.2L1822.4,1592.6"/><path class="t" d="M1780.8,1563.3L1787,1561.7L1793.1,1583.3"/><path class="m" d="M1787,1547.9L1800.9,1543.3L1808.6,1557.1L1817.8,1555.6L1811.6,1544.8"/><path class="m" d="M1814.7,1567.9C1816.3,1569.7 1820.9,1573 1824,1578.7C1827.1,1584.3 1831.2,1594.1 1833.2,1601.8C1835.3,1609.5 1836.3,1617.7 1836.3,1624.9C1836.3,1632.1 1833.7,1641.6 1833.2,1645"/><path class="t" d="M1819.3,1569.4C1820.9,1571.5 1825.5,1576.1 1828.6,1581.8C1831.7,1587.4 1835.8,1595.9 1837.8,1603.4C1839.9,1610.8 1840.9,1619.3 1840.9,1626.5C1840.9,1633.7 1838.4,1643.2 1837.8,1646.5"/><path class="m" d="M1800.9,1594.1C1801.6,1596.7 1802.9,1604.9 1805.5,1609.5C1808,1614.1 1814.5,1619.8 1816.3,1621.8"/><path class="m" d="M1800.9,1635.7L1827.1,1626.5L1833.2,1645L1808.6,1654.2Z"/><path class="m" d="M1808.6,1654.2L1814.7,1663.5L1836.3,1655.7"/><path class="m" d="M1822.4,1609.5L1830.1,1606.4L1836.3,1621.8"/><path class="m" d="M1830.1,1658.8L1848.6,1655.7L1857.9,1666.5"/><path class="m" d="M1814.7,1661.9L1842.5,1671.2"/><path class="t" d="M1842.5,1652.7L1871.7,1640.3"/><path class="t" d="M1782.4,1540.2L1794.7,1537.1L1799.3,1547.9"/><path class="t" d="M1773.1,1557.1L1780.8,1555.6"/><path class="m" d="M1770,1560.2L1776.2,1578.7L1780.8,1601.8"/><path class="m" d="M1790.1,1538.6L1796.2,1532.5L1802.4,1538.6"/><path class="m" d="M1774.7,1575.6L1783.1,1584.9"/><path class="m" d="M1796.2,1631.1L1800.9,1635.7"/><path class="m" d="M1779.3,1614.1L1788.5,1609.5"/><path class="m" d="M1816.3,1557.1L1822.4,1566.4L1817.8,1571L1811.6,1561.7"/><path class="m" d="M1827.1,1594.1L1831.7,1609.5L1827.1,1612.6"/><path class="m" d="M1822.4,1631.1L1830.1,1652.7"/><path class="m" d="M1836.3,1658.8L1842.5,1668.1"/><path class="m" d="M1800.9,1654.2L1807,1661.9L1824,1666.5"/><path class="m" d="M1788.5,1634.2L1796.2,1631.1"/><path class="m" d="M1793.1,1547.9L1805.5,1544.8"/><path class="m" d="M1796.2,1557.1L1805.5,1554L1811.6,1567.9"/><path d="M1773.1,1554C1773.4,1551.9 1776.5,1551.7 1777.7,1553.3C1779,1554.8 1781.1,1561.1 1780.8,1563.3C1780.6,1565.5 1777.5,1567.9 1776.2,1566.4C1774.9,1564.8 1772.9,1556.2 1773.1,1554Z" fill="#161616"/><path d="M1770,1575.6C1770,1572.8 1773.1,1574.1 1774.7,1577.2C1776.2,1580.2 1779.3,1591.3 1779.3,1594.1C1779.3,1596.9 1776.2,1597.2 1774.7,1594.1C1773.1,1591 1770,1578.4 1770,1575.6Z" fill="#161616"/><path d="M1780.8,1621.8C1780.1,1618.8 1784.4,1618.3 1787,1620.3C1789.6,1622.4 1795.5,1631.1 1796.2,1634.2C1797,1637.3 1794.2,1640.9 1791.6,1638.8C1789,1636.7 1781.6,1624.9 1780.8,1621.8Z" fill="#161616"/><path d="M1799.3,1652.7C1798.8,1650.6 1802.9,1649.6 1805.5,1651.1C1808,1652.7 1814.2,1659.9 1814.7,1661.9C1815.2,1664 1811.1,1665 1808.6,1663.5C1806,1661.9 1799.8,1654.7 1799.3,1652.7Z" fill="#161616"/><path d="M1822.4,1664.2C1822.4,1663.1 1831.9,1665.4 1836.3,1666.5C1840.7,1667.7 1848.6,1670.1 1848.6,1671.2C1848.6,1672.2 1840.7,1674.2 1836.3,1673C1831.9,1671.9 1822.4,1665.3 1822.4,1664.2Z" fill="#161616"/><path d="M1813.2,1561.7C1812.7,1558.1 1817,1557.4 1819.3,1560.2C1821.7,1563 1826.5,1575.1 1827.1,1578.7C1827.6,1582.3 1824.7,1584.6 1822.4,1581.8C1820.1,1579 1813.7,1565.3 1813.2,1561.7Z" fill="#161616"/><path d="M1827.8,1595.6C1827.8,1592.3 1831,1591.3 1832.4,1594.1C1833.9,1596.9 1836.3,1609.3 1836.3,1612.6C1836.3,1615.9 1833.9,1617 1832.4,1614.1C1831,1611.3 1827.8,1599 1827.8,1595.6Z" fill="#161616"/><path d="M1830.1,1624.9C1830.5,1621.1 1833.7,1620 1834.8,1623.4C1835.8,1626.7 1836.7,1641.1 1836.3,1645C1835.9,1648.8 1833.5,1649.8 1832.4,1646.5C1831.4,1643.2 1829.8,1628.8 1830.1,1624.9Z" fill="#161616"/><path d="M1796.2,1538.6C1797.3,1537.2 1803.4,1535.8 1805.5,1536.3C1807.5,1536.8 1809.6,1540.3 1808.6,1541.7C1807.5,1543.1 1801.4,1545.3 1799.3,1544.8C1797.3,1544.3 1795.2,1540 1796.2,1538.6Z" fill="#161616"/><path d="M1842.5,1654.2C1844.5,1652.4 1854.8,1648.3 1857.9,1648C1861,1647.8 1863,1650.9 1861,1652.7C1858.9,1654.5 1848.6,1658.6 1845.5,1658.8C1842.5,1659.1 1840.4,1656 1842.5,1654.2Z" fill="#161616"/><path d="M1785.4,1530.9C1786.7,1529.4 1793.9,1526.3 1796.2,1526.3C1798.5,1526.3 1800.6,1529.4 1799.3,1530.9C1798,1532.5 1790.8,1535.5 1788.5,1535.5C1786.2,1535.5 1784.2,1532.5 1785.4,1530.9Z" fill="#161616"/><path d="M1817.8,1652.7C1818.8,1650.6 1825,1648.6 1827.1,1649.6C1829.1,1650.6 1831.2,1656.8 1830.1,1658.8C1829.1,1660.9 1822.9,1662.9 1820.9,1661.9C1818.8,1660.9 1816.8,1654.7 1817.8,1652.7Z" fill="#161616"/><path class="o" style="fill:none" d="M1802.4,1572.5L1811.6,1569.4L1817.8,1583.3"/><path class="o" style="fill:none" d="M1790.1,1609.5L1796.2,1608L1802.4,1624.9"/><path class="o" style="fill:none" d="M1808.6,1612.6L1817.8,1609.5L1824,1624.9"/><path class="o" style="fill:none" d="M1787,1566.4L1791.6,1564.8L1796.2,1578.7"/><path class="o" style="fill:none" d="M1836.3,1648L1842.5,1646.5L1845.5,1655.7"/><clipPath id="cppcb"><path d="M1915.7,1490.9C1916.9,1488.8 1919.6,1486.1 1922.6,1484.7C1925.6,1483.3 1929.5,1482.1 1933.4,1482.4C1937.2,1482.6 1941.9,1483.8 1945.7,1486.2C1949.6,1488.7 1953.9,1493.7 1956.5,1497C1959.1,1500.4 1961,1502.4 1961.1,1506.3C1961.3,1510.1 1958,1517.1 1957.3,1520.1C1956.5,1523.2 1955.6,1522.2 1956.5,1524.8C1957.4,1527.3 1960.6,1531.2 1962.7,1535.5C1964.7,1539.9 1967.4,1545.8 1968.8,1551C1970.2,1556.1 1971,1562 1971.1,1566.4C1971.3,1570.7 1970.4,1574.3 1969.6,1577.2C1968.8,1580 1966.1,1581.8 1966.5,1583.3C1966.9,1584.9 1970,1586.1 1971.9,1586.4C1973.8,1586.7 1976,1583.6 1978.1,1584.9C1980.1,1586.1 1983.2,1591.5 1984.2,1594.1C1985.3,1596.7 1985.5,1597.7 1984.2,1600.3C1983,1602.8 1979.6,1607.3 1976.5,1609.5C1973.5,1611.7 1969.1,1612.9 1965.7,1613.4C1962.4,1613.9 1959.8,1614.3 1956.5,1612.6C1953.2,1610.9 1949.3,1606.7 1945.7,1603.4C1942.1,1600 1937.6,1595.6 1934.9,1592.6C1932.2,1589.5 1930.3,1587.4 1929.5,1584.9C1928.8,1582.3 1929,1579 1930.3,1577.2C1931.6,1575.4 1937.2,1576.9 1937.2,1574.1C1937.2,1571.2 1932.2,1565.9 1930.3,1560.2C1928.4,1554.6 1926.5,1545.3 1925.7,1540.2C1924.9,1535 1925.2,1532.7 1925.7,1529.4C1926.2,1526 1929.5,1523.7 1928.8,1520.1C1928,1516.5 1923.4,1511.7 1921.1,1507.8C1918.7,1504 1915.8,1499.8 1914.9,1497C1914,1494.2 1914.4,1492.9 1915.7,1490.9Z"/></clipPath><path d="M1915.7,1490.9C1916.9,1488.8 1919.6,1486.1 1922.6,1484.7C1925.6,1483.3 1929.5,1482.1 1933.4,1482.4C1937.2,1482.6 1941.9,1483.8 1945.7,1486.2C1949.6,1488.7 1953.9,1493.7 1956.5,1497C1959.1,1500.4 1961,1502.4 1961.1,1506.3C1961.3,1510.1 1958,1517.1 1957.3,1520.1C1956.5,1523.2 1955.6,1522.2 1956.5,1524.8C1957.4,1527.3 1960.6,1531.2 1962.7,1535.5C1964.7,1539.9 1967.4,1545.8 1968.8,1551C1970.2,1556.1 1971,1562 1971.1,1566.4C1971.3,1570.7 1970.4,1574.3 1969.6,1577.2C1968.8,1580 1966.1,1581.8 1966.5,1583.3C1966.9,1584.9 1970,1586.1 1971.9,1586.4C1973.8,1586.7 1976,1583.6 1978.1,1584.9C1980.1,1586.1 1983.2,1591.5 1984.2,1594.1C1985.3,1596.7 1985.5,1597.7 1984.2,1600.3C1983,1602.8 1979.6,1607.3 1976.5,1609.5C1973.5,1611.7 1969.1,1612.9 1965.7,1613.4C1962.4,1613.9 1959.8,1614.3 1956.5,1612.6C1953.2,1610.9 1949.3,1606.7 1945.7,1603.4C1942.1,1600 1937.6,1595.6 1934.9,1592.6C1932.2,1589.5 1930.3,1587.4 1929.5,1584.9C1928.8,1582.3 1929,1579 1930.3,1577.2C1931.6,1575.4 1937.2,1576.9 1937.2,1574.1C1937.2,1571.2 1932.2,1565.9 1930.3,1560.2C1928.4,1554.6 1926.5,1545.3 1925.7,1540.2C1924.9,1535 1925.2,1532.7 1925.7,1529.4C1926.2,1526 1929.5,1523.7 1928.8,1520.1C1928,1516.5 1923.4,1511.7 1921.1,1507.8C1918.7,1504 1915.8,1499.8 1914.9,1497C1914,1494.2 1914.4,1492.9 1915.7,1490.9Z" fill="#fff" stroke="none"/><g clip-path="url(#cppcb)"><path d="M1915.7,1490.9C1916.9,1488.8 1919.6,1486.1 1922.6,1484.7C1925.6,1483.3 1929.5,1482.1 1933.4,1482.4C1937.2,1482.6 1941.9,1483.8 1945.7,1486.2C1949.6,1488.7 1953.9,1493.7 1956.5,1497C1959.1,1500.4 1961,1502.4 1961.1,1506.3C1961.3,1510.1 1958,1517.1 1957.3,1520.1C1956.5,1523.2 1955.6,1522.2 1956.5,1524.8C1957.4,1527.3 1960.6,1531.2 1962.7,1535.5C1964.7,1539.9 1967.4,1545.8 1968.8,1551C1970.2,1556.1 1971,1562 1971.1,1566.4C1971.3,1570.7 1970.4,1574.3 1969.6,1577.2C1968.8,1580 1966.1,1581.8 1966.5,1583.3C1966.9,1584.9 1970,1586.1 1971.9,1586.4C1973.8,1586.7 1976,1583.6 1978.1,1584.9C1980.1,1586.1 1983.2,1591.5 1984.2,1594.1C1985.3,1596.7 1985.5,1597.7 1984.2,1600.3C1983,1602.8 1979.6,1607.3 1976.5,1609.5C1973.5,1611.7 1969.1,1612.9 1965.7,1613.4C1962.4,1613.9 1959.8,1614.3 1956.5,1612.6C1953.2,1610.9 1949.3,1606.7 1945.7,1603.4C1942.1,1600 1937.6,1595.6 1934.9,1592.6C1932.2,1589.5 1930.3,1587.4 1929.5,1584.9C1928.8,1582.3 1929,1579 1930.3,1577.2C1931.6,1575.4 1937.2,1576.9 1937.2,1574.1C1937.2,1571.2 1932.2,1565.9 1930.3,1560.2C1928.4,1554.6 1926.5,1545.3 1925.7,1540.2C1924.9,1535 1925.2,1532.7 1925.7,1529.4C1926.2,1526 1929.5,1523.7 1928.8,1520.1C1928,1516.5 1923.4,1511.7 1921.1,1507.8C1918.7,1504 1915.8,1499.8 1914.9,1497C1914,1494.2 1914.4,1492.9 1915.7,1490.9Z" fill="none" stroke="#161616" stroke-width="9.5" stroke-linejoin="round"/><path d="M1915.7,1490.9C1916.9,1488.8 1919.6,1486.1 1922.6,1484.7C1925.6,1483.3 1929.5,1482.1 1933.4,1482.4C1937.2,1482.6 1941.9,1483.8 1945.7,1486.2C1949.6,1488.7 1953.9,1493.7 1956.5,1497C1959.1,1500.4 1961,1502.4 1961.1,1506.3C1961.3,1510.1 1958,1517.1 1957.3,1520.1C1956.5,1523.2 1955.6,1522.2 1956.5,1524.8C1957.4,1527.3 1960.6,1531.2 1962.7,1535.5C1964.7,1539.9 1967.4,1545.8 1968.8,1551C1970.2,1556.1 1971,1562 1971.1,1566.4C1971.3,1570.7 1970.4,1574.3 1969.6,1577.2C1968.8,1580 1966.1,1581.8 1966.5,1583.3C1966.9,1584.9 1970,1586.1 1971.9,1586.4C1973.8,1586.7 1976,1583.6 1978.1,1584.9C1980.1,1586.1 1983.2,1591.5 1984.2,1594.1C1985.3,1596.7 1985.5,1597.7 1984.2,1600.3C1983,1602.8 1979.6,1607.3 1976.5,1609.5C1973.5,1611.7 1969.1,1612.9 1965.7,1613.4C1962.4,1613.9 1959.8,1614.3 1956.5,1612.6C1953.2,1610.9 1949.3,1606.7 1945.7,1603.4C1942.1,1600 1937.6,1595.6 1934.9,1592.6C1932.2,1589.5 1930.3,1587.4 1929.5,1584.9C1928.8,1582.3 1929,1579 1930.3,1577.2C1931.6,1575.4 1937.2,1576.9 1937.2,1574.1C1937.2,1571.2 1932.2,1565.9 1930.3,1560.2C1928.4,1554.6 1926.5,1545.3 1925.7,1540.2C1924.9,1535 1925.2,1532.7 1925.7,1529.4C1926.2,1526 1929.5,1523.7 1928.8,1520.1C1928,1516.5 1923.4,1511.7 1921.1,1507.8C1918.7,1504 1915.8,1499.8 1914.9,1497C1914,1494.2 1914.4,1492.9 1915.7,1490.9Z" fill="none" stroke="#fff" stroke-width="7.300000000000001" stroke-linejoin="round"/></g><path class="o" style="fill:none" d="M1915.7,1490.9C1916.9,1488.8 1919.6,1486.1 1922.6,1484.7C1925.6,1483.3 1929.5,1482.1 1933.4,1482.4C1937.2,1482.6 1941.9,1483.8 1945.7,1486.2C1949.6,1488.7 1953.9,1493.7 1956.5,1497C1959.1,1500.4 1961,1502.4 1961.1,1506.3C1961.3,1510.1 1958,1517.1 1957.3,1520.1C1956.5,1523.2 1955.6,1522.2 1956.5,1524.8C1957.4,1527.3 1960.6,1531.2 1962.7,1535.5C1964.7,1539.9 1967.4,1545.8 1968.8,1551C1970.2,1556.1 1971,1562 1971.1,1566.4C1971.3,1570.7 1970.4,1574.3 1969.6,1577.2C1968.8,1580 1966.1,1581.8 1966.5,1583.3C1966.9,1584.9 1970,1586.1 1971.9,1586.4C1973.8,1586.7 1976,1583.6 1978.1,1584.9C1980.1,1586.1 1983.2,1591.5 1984.2,1594.1C1985.3,1596.7 1985.5,1597.7 1984.2,1600.3C1983,1602.8 1979.6,1607.3 1976.5,1609.5C1973.5,1611.7 1969.1,1612.9 1965.7,1613.4C1962.4,1613.9 1959.8,1614.3 1956.5,1612.6C1953.2,1610.9 1949.3,1606.7 1945.7,1603.4C1942.1,1600 1937.6,1595.6 1934.9,1592.6C1932.2,1589.5 1930.3,1587.4 1929.5,1584.9C1928.8,1582.3 1929,1579 1930.3,1577.2C1931.6,1575.4 1937.2,1576.9 1937.2,1574.1C1937.2,1571.2 1932.2,1565.9 1930.3,1560.2C1928.4,1554.6 1926.5,1545.3 1925.7,1540.2C1924.9,1535 1925.2,1532.7 1925.7,1529.4C1926.2,1526 1929.5,1523.7 1928.8,1520.1C1928,1516.5 1923.4,1511.7 1921.1,1507.8C1918.7,1504 1915.8,1499.8 1914.9,1497C1914,1494.2 1914.4,1492.9 1915.7,1490.9Z"/><ellipse class="m" cx="1946.5" cy="1554" rx="10" ry="20.8" transform="rotate(-15 1946.5 1554)"/><ellipse cx="1945.7" cy="1554.0" rx="12.0" ry="23.1" transform="rotate(-15 1945.7 1554.0)" fill="none" stroke="#161616" stroke-width="2.6" stroke-dasharray="0.9 1.3"/><path class="m" d="M1927.2,1499.3C1928,1497.9 1933.1,1498.4 1936.5,1499.3C1939.8,1500.2 1945.2,1502.5 1947.3,1504.7C1949.3,1506.9 1949.6,1510.4 1948.8,1512.4C1948,1514.5 1944.9,1516.8 1942.6,1517.1C1940.3,1517.3 1936.7,1515.5 1934.9,1514C1933.1,1512.4 1933.1,1510.2 1931.8,1507.8C1930.6,1505.4 1926.5,1500.7 1927.2,1499.3Z"/><path class="m" d="M1945.7,1578.7C1946.5,1577.9 1947,1585.1 1950.3,1587.9C1953.7,1590.8 1963.4,1593.6 1965.7,1595.6C1968.1,1597.7 1966,1599.5 1964.2,1600.3C1962.4,1601 1958,1601.6 1955,1600.3C1951.9,1599 1947.3,1596.2 1945.7,1592.6C1944.2,1589 1944.9,1579.5 1945.7,1578.7Z"/><ellipse class="t" cx="1921.8" cy="1497" rx="1.5" ry="2.2" transform="rotate(-15 1921.8 1497)"/><ellipse class="t" cx="1950.3" cy="1505.5" rx="1.5" ry="2.2" transform="rotate(-15 1950.3 1505.5)"/><ellipse class="t" cx="1936.5" cy="1582.5" rx="1.5" ry="2.2" transform="rotate(-15 1936.5 1582.5)"/><ellipse class="t" cx="1974.2" cy="1596.4" rx="1.5" ry="2.2" transform="rotate(-15 1974.2 1596.4)"/><ellipse class="f" cx="1931.1" cy="1493.9" rx="1.4" ry="1.4"/><ellipse class="f" cx="1937.2" cy="1494.7" rx="1.4" ry="1.4"/><ellipse class="f" cx="1933.4" cy="1527.8" rx="1.4" ry="1.4"/><ellipse class="f" cx="1945.7" cy="1528.6" rx="1.4" ry="1.4"/><ellipse class="f" cx="1956.5" cy="1554.8" rx="1.4" ry="1.4"/><ellipse class="f" cx="1953.4" cy="1574.8" rx="1.4" ry="1.4"/><path class="m" stroke-dasharray="2 2" d="M1950.3,1535.5L1958,1551"/><path class="m" stroke-dasharray="1.5 2" d="M1948.8,1600.3L1967.3,1607.2"/>
<!-- 29b_tinyscrews.svg -->
<g transform="translate(2011.2,1467.7)"><path d="M0,3L-12.5,6.2" stroke="#161616" stroke-width="11.5" stroke-linecap="round" fill="none"/><path d="M-12,3.5l3,5M-8,2.5l3,5M-4,1.5l3,5" stroke="#777" stroke-width="0.9" fill="none"/><ellipse rx="6.9" ry="8.4" fill="#fff" stroke="#161616" stroke-width="4.4"/><path d="M0.5,-6A4.5,7 0 0 1 0.5,6" stroke="#161616" stroke-width="2.2" fill="none"/><path d="M-5,-2.5L-1,5" stroke="#161616" stroke-width="2.4"/></g><g transform="translate(2032.8,1478.5)"><path d="M0,3L-12.5,6.2" stroke="#161616" stroke-width="11.5" stroke-linecap="round" fill="none"/><path d="M-12,3.5l3,5M-8,2.5l3,5M-4,1.5l3,5" stroke="#777" stroke-width="0.9" fill="none"/><ellipse rx="6.9" ry="8.4" fill="#fff" stroke="#161616" stroke-width="4.4"/><path d="M0.5,-6A4.5,7 0 0 1 0.5,6" stroke="#161616" stroke-width="2.2" fill="none"/><path d="M-5,-2.5L-1,5" stroke="#161616" stroke-width="2.4"/></g><g transform="translate(2025.9,1554)"><path d="M0,3L-12.5,6.2" stroke="#161616" stroke-width="11.5" stroke-linecap="round" fill="none"/><path d="M-12,3.5l3,5M-8,2.5l3,5M-4,1.5l3,5" stroke="#777" stroke-width="0.9" fill="none"/><ellipse rx="6.9" ry="8.4" fill="#fff" stroke="#161616" stroke-width="4.4"/><path d="M0.5,-6A4.5,7 0 0 1 0.5,6" stroke="#161616" stroke-width="2.2" fill="none"/><path d="M-5,-2.5L-1,5" stroke="#161616" stroke-width="2.4"/></g><g transform="translate(2063.6,1564.1)"><path d="M0,3L-12.5,6.2" stroke="#161616" stroke-width="11.5" stroke-linecap="round" fill="none"/><path d="M-12,3.5l3,5M-8,2.5l3,5M-4,1.5l3,5" stroke="#777" stroke-width="0.9" fill="none"/><ellipse rx="6.9" ry="8.4" fill="#fff" stroke="#161616" stroke-width="4.4"/><path d="M0.5,-6A4.5,7 0 0 1 0.5,6" stroke="#161616" stroke-width="2.2" fill="none"/><path d="M-5,-2.5L-1,5" stroke="#161616" stroke-width="2.4"/></g>
<!-- 30_case.svg -->
<path class="o4" d="M2810.6,1622.9C2814.3,1623.2 2814.3,1623.2 2821.7,1627.6C2829.1,1632 2830.1,1634.6 2855,1649.3C2879.8,1664 2946.6,1701.9 2970.9,1715.9C2995.1,1729.9 2993.5,1727 3000.5,1733.2C3007.5,1739.3 3009.5,1745.5 3012.8,1752.9C3016.1,1760.3 3018.6,1768.5 3020.2,1777.6C3021.9,1786.6 3023.9,1800.2 3022.7,1807.2C3021.4,1814.1 3019.4,1814.5 3012.8,1819.5C3006.2,1824.4 2995.1,1829.8 2983.2,1836.7C2971.3,1843.7 2970.1,1844.6 2941.3,1861.4C2912.5,1878.3 2840.6,1919.8 2810.6,1937.9C2780.6,1955.9 2772,1963.3 2761.3,1969.9C2750.6,1976.5 2752.6,1974.2 2746.5,1977.3C2740.3,1980.4 2730,1986.8 2724.3,1988.4C2718.5,1990.1 2717.3,1989 2711.9,1987.2C2706.6,1985.3 2701.7,1982.7 2692.2,1977.3C2682.8,1972 2672.5,1965.8 2655.2,1955.1C2638,1944.4 2606.7,1924.3 2588.6,1913.2C2570.6,1902.1 2557,1896.3 2546.7,1888.5C2536.4,1880.7 2531.7,1875.4 2527,1866.3C2522.3,1857.3 2520,1844.6 2518.4,1834.3C2516.7,1824 2516.5,1812.5 2517.1,1804.7C2517.7,1796.9 2519.6,1791.1 2522.1,1787.4C2524.5,1783.7 2525.8,1785.8 2531.9,1782.5C2538.1,1779.2 2537.3,1780.2 2559.1,1767.7C2580.8,1755.2 2624.8,1729.5 2662.6,1707.3C2700.4,1685.1 2763.1,1648.1 2785.9,1634.5C2808.7,1621 2795.4,1627.8 2799.5,1625.9C2803.6,1624 2806.9,1622.6 2810.6,1622.9Z"/><path class="t" d="M2571.4,1770.2L2783.5,1646.9"/><path class="t" d="M2605.9,1792.4L2818,1674"/><path class="t" d="M2610.8,1797.3L2820.5,1678.4"/><path class="t" d="M2818,1674L2773.6,1646.9"/><path class="t" d="M2847.6,1656.7L2968.4,1723.3"/><path class="t" d="M2855,1653L2973.4,1718.4"/><path class="t" d="M2719.3,1856.5L2933.9,1733.2"/><path class="t" d="M2724.3,1860.2L2938.8,1736.9"/><path class="t" d="M2734.1,1861.4L2941.3,1743"/><path class="t" d="M2768.7,1873.7L2966,1762.8L2978.3,1794.8L2980.8,1836.7"/><path class="t" d="M2763.7,1895.9L2773.6,1945.3"/><path class="t" d="M2970.9,1715.9C2974.6,1719.6 2987.3,1728.6 2993.1,1738.1C2998.8,1747.6 3002.9,1759.5 3005.4,1772.6C3007.9,1785.8 3007.5,1809.6 3007.9,1817"/><path class="t" d="M2978.3,1723.3C2982,1727.4 2994.7,1738.1 3000.5,1748C3006.2,1757.8 3010.3,1771.4 3012.8,1782.5C3015.3,1793.6 3014.9,1809.2 3015.3,1814.5"/><path class="t" d="M2978.3,1794.8L3012.8,1772.6"/><path class="t" d="M2980.8,1826.9L3015.3,1809.6"/><path class="t" d="M2773.6,1645.6L2818,1674"/><path class="t" d="M2773.6,1645.6L2779.8,1642.2"/><path class="t" d="M2781.5,1641.2L2825.9,1669.5"/><path class="t" d="M2781.5,1641.2L2787.7,1637.7"/><path class="t" d="M2789.4,1636.7L2833.8,1665.1"/><path class="t" d="M2789.4,1636.7L2795.5,1633.3"/><path class="t" d="M2797.3,1632.3L2841.7,1660.7"/><path class="t" d="M2797.3,1632.3L2803.4,1628.9"/><path class="t" d="M2933.9,1734.4L2973.4,1757.8"/><path class="t" d="M2933.9,1734.4L2940.1,1730.9"/><path class="t" d="M2941.8,1730L2981.2,1753.4"/><path class="t" d="M2941.8,1730L2948,1726.5"/><path class="t" d="M2949.7,1725.5L2989.1,1749"/><path class="t" d="M2949.7,1725.5L2955.8,1722.1"/><path class="t" d="M2957.6,1721.1L2997,1744.5"/><path class="t" d="M2957.6,1721.1L2963.7,1717.6"/><path class="t" d="M2539.3,1783.7L2583.7,1809.6"/><path class="t" d="M2539.3,1783.7L2545.5,1780.3"/><path class="t" d="M2547.2,1779.3L2591.6,1805.2"/><path class="t" d="M2547.2,1779.3L2553.4,1775.8"/><path class="t" d="M2555.1,1774.8L2599.5,1800.7"/><path class="t" d="M2555.1,1774.8L2561.3,1771.4"/><path class="t" d="M2563,1770.4L2607.4,1796.3"/><path class="t" d="M2563,1770.4L2569.2,1767"/><path class="t" d="M2694.7,1872.5L2739.1,1899.6"/><path class="t" d="M2694.7,1872.5L2700.9,1869.1"/><path class="t" d="M2702.6,1868.1L2747,1895.2"/><path class="t" d="M2702.6,1868.1L2708.7,1864.6"/><path class="t" d="M2710.5,1863.6L2754.9,1890.8"/><path class="t" d="M2710.5,1863.6L2716.6,1860.2"/><path class="t" d="M2718.4,1859.2L2762.7,1886.3"/><path class="t" d="M2718.4,1859.2L2724.5,1855.7"/><path class="m" d="M2795.8,1632.1L2808.1,1624.7"/><path class="m" d="M2771.1,1645.6L2778.5,1641.9"/><path class="m" d="M2556.6,1770.2L2564,1765.2"/><path class="m" d="M2531.9,1783.7L2539.3,1780"/><path class="t" d="M2529.5,1794.8C2535.2,1797.3 2536.4,1795.6 2564,1809.6C2591.5,1823.6 2665.9,1863 2694.7,1878.7C2723.5,1894.3 2729.6,1899.2 2736.6,1903.3"/><path class="t" d="M2522.1,1804.7C2523.3,1803 2526.6,1798.3 2529.5,1794.8C2532.3,1791.3 2537.7,1785.6 2539.3,1783.7"/><path class="t" d="M2524.5,1836.7C2525.8,1841.3 2527.4,1856.1 2531.9,1863.9C2536.4,1871.7 2548.4,1880.3 2551.7,1883.6"/><path class="t" d="M2566.4,1814.5L2687.3,1883.6"/><path class="t" d="M2631.8,1825.6L2642.9,1794.8L2686.1,1770.2L2720.6,1796.1L2761.3,1792.4L2793.3,1804.7L2697.2,1858.9L2672.5,1842.9Z"/><path class="t" d="M2650.3,1807.2L2679.9,1785L2687.3,1787.4L2744,1824.4L2744,1814.5L2751.4,1809.6L2761.3,1809.6"/><path class="t" d="M2681.1,1785L2681.1,1849.1"/><path class="t" d="M2638,1817L2650.3,1807.2L2651.5,1799.8"/><path class="t" d="M2771.1,1808.4L2781,1812.1L2773.6,1815.8"/><path class="t" d="M2751.4,1809.6L2781,1797.3"/><path class="t" d="M2586.2,1829.3L2586.2,1913.2"/><path class="t" d="M2588.6,1831.8L2588.6,1915.7"/><path class="t" d="M2655.2,1871.3L2655.2,1952.7"/><path class="t" d="M2657.7,1873.7L2657.7,1955.1"/><path class="t" d="M2588.6,1834.3L2655.2,1871.3"/><path class="t" d="M2591.1,1913.2L2652.8,1947.7"/><path class="t" d="M2596,1918.1L2650.3,1950.2"/><path class="t" d="M2596,1858.9L2601,1861.4L2603.4,1868.8L2638,1886.1L2645.4,1883.6L2649.1,1903.3L2650.3,1930.5L2598.5,1908.3L2593.6,1891Z"/><path class="t" d="M2565.2,1824.4L2583.7,1835.5L2583.7,1847.8L2565.2,1836.7Z"/><path class="t" d="M2568.2,1829.3L2581.2,1837.2L2581.2,1844.1L2568.2,1836.3Z"/><path class="t" d="M2565.2,1888.5L2583.7,1899.6L2583.7,1912L2565.2,1900.9Z"/><path class="t" d="M2568.2,1893.5L2581.2,1901.4L2581.2,1908.3L2568.2,1900.4Z"/><path class="t" d="M2660.2,1878.7L2678.7,1889.8L2678.7,1902.1L2660.2,1891Z"/><path class="t" d="M2663.1,1883.6L2676.2,1891.5L2676.2,1898.4L2663.1,1890.5Z"/><path class="t" d="M2660.2,1942.8L2678.7,1953.9L2678.7,1966.2L2660.2,1955.1Z"/><path class="t" d="M2663.1,1947.7L2676.2,1955.6L2676.2,1962.5L2663.1,1954.6Z"/><path class="t" d="M2746.5,1918.1L2746.5,1977.3"/><path class="t" d="M2773.6,1898.4L2773.6,1945.3"/><path class="t" d="M2761.3,1910.7L2761.3,1969.9"/><path class="t" d="M2713.2,1903.3C2715,1910.3 2723.3,1931.7 2724.3,1945.3C2725.3,1958.8 2720.2,1978.1 2719.3,1984.7"/><path class="t" d="M2721.8,1900.9C2723.7,1907.9 2731.9,1929.2 2732.9,1942.8C2733.9,1956.4 2728.8,1975.7 2728,1982.2"/><path class="t" d="M2714.9,1908.3L2728,1912.7"/><path class="t" d="M2715.9,1916.2L2728,1920.6"/><path class="t" d="M2716.9,1924L2728,1928.5"/><path class="t" d="M2717.9,1931.9L2728,1936.4"/><path class="t" d="M2718.9,1939.8L2728,1944.3"/><path class="t" d="M2719.8,1947.7L2728,1952.2"/><path class="t" d="M2719.3,1955.6L2728,1960"/><path class="t" d="M2718.9,1963.5L2728,1967.9"/><path class="t" d="M2718.4,1971.4L2728,1975.8"/><path class="t" d="M2717.9,1979.3L2728,1983.7"/><path class="t" d="M2736.6,1903.3C2738.3,1905.8 2742,1916.9 2746.5,1918.1C2751,1919.4 2760.9,1912 2763.7,1910.7"/><path class="m" d="M2813.1,1895.9L2822.9,1891L2823.4,1905.8L2828.3,1915.7L2914.2,1866.3L2926.5,1851.5L2929,1826.9L2941.3,1821.9L2941.8,1856.5"/><path class="t" d="M2813.1,1895.9L2813.1,1932.9"/><path class="t" d="M2832.8,1876.2L2909.2,1834.3L2914.7,1854L2835.3,1898.4Z"/><path class="t" d="M2909.2,1834.3L2914.2,1826.9L2919.1,1829.3"/><circle class="t" cx="2925.3" cy="1831.8" r="2.5"/><path class="t" d="M2857.4,1819.5L2864.8,1849.1L2877.2,1844.1L2872.2,1817"/><circle class="t" cx="2868.5" cy="1842.9" r="3.2"/><path class="t" d="M2857.4,1819.5C2858.7,1818.9 2862.4,1816.2 2864.8,1815.8C2867.3,1815.4 2871,1816.8 2872.2,1817"/><path class="t" d="M2810.6,1937.9L2805.7,1930.5L2776.1,1945.3"/><path class="t" d="M2943.8,1846.6L2978.3,1829.3"/><path class="t" d="M2978.3,1821.9L2983.2,1836.7"/><path class="m" d="M2975.8,1831.8C2977.1,1832.4 2980.3,1835.7 2983.2,1835.5C2986.1,1835.3 2991.4,1831.4 2993.1,1830.6"/><path class="m" d="M2744,1969.9C2745.2,1970.7 2748.5,1975.3 2751.4,1974.8C2754.3,1974.4 2759.6,1968.7 2761.3,1967.4"/><path class="t" d="M2773.6,1878.7L2973.4,1767.7"/><path class="t" d="M2532.1,1788.1L2575.4,1813.7L2567.3,1820.2"/><path class="t" d="M2760.1,1647.1L2803.4,1672.7L2795.3,1679.2"/><path class="t" d="M2541.7,1783.3L2585,1808.9L2591.4,1804.1L2548.1,1778.5"/><path class="t" d="M2769.7,1642.3L2813,1667.9L2819.4,1663.1L2776.1,1637.5"/><path class="t" d="M2552.9,1778.5L2596.2,1802.5L2602.6,1797.7L2560.9,1773.7"/><path class="t" d="M2780.9,1637.5L2824.2,1661.5L2830.6,1656.7L2788.9,1632.7"/><path class="t" d="M2564.1,1772.1L2605.8,1794.5L2612.2,1791.3"/><path class="t" d="M2792.1,1631.1L2833.8,1653.5L2840.2,1650.3"/><path class="t" d="M2570.5,1768.9L2602.6,1786.5"/><path class="t" d="M2798.5,1627.9L2830.6,1645.5"/><path class="t" d="M2557.7,1807.3L2567.3,1800.9L2577,1805.7"/><path class="t" d="M2785.7,1666.3L2795.3,1659.9L2805,1664.7"/><path class="t" d="M2572.1,1794.5L2583.4,1788.1"/><path class="t" d="M2800.1,1653.5L2811.4,1647.1"/><path class="t" d="M2575.4,1797.7L2589.8,1805.7"/><path class="t" d="M2803.4,1656.7L2817.8,1664.7"/><path class="t" d="M2694.8,1872.3L2738.9,1897.9L2740.5,1901.9"/><path class="t" d="M2934,1734.2L2978.1,1759.8L2979.7,1763.8"/><path class="t" d="M2702,1867.5L2745.3,1892.3L2750.1,1887.5L2708.4,1863.4"/><path class="t" d="M2941.2,1729.4L2984.5,1754.2L2989.3,1749.4L2947.6,1725.3"/><path class="t" d="M2710,1863.4L2751.7,1885.9"/><path class="t" d="M2949.2,1725.3L2990.9,1747.8"/><path class="t" d="M2714.8,1860.2L2758.1,1881.1L2764.5,1884.3"/><path class="t" d="M2954,1722.1L2997.3,1743L3003.7,1746.2"/><path class="t" d="M2721.2,1858.6L2764.5,1879.5"/><path class="t" d="M2960.4,1720.5L3003.7,1741.4"/><path class="t" d="M2706.8,1873.1L2713.2,1868.3"/><path class="t" d="M2946,1735L2952.4,1730.2"/><path class="t" d="M2724.4,1881.1L2730.9,1876.3"/><path class="t" d="M2963.6,1743L2970.1,1738.2"/><path class="t" d="M2730.9,1893.9L2737.3,1922.8"/><path class="t" d="M2970.1,1755.8L2976.5,1784.7"/><path class="t" d="M2740.5,1887.5L2750.1,1918"/><path class="t" d="M2979.7,1749.4L2989.3,1779.9"/><path class="t" d="M2750.1,1882.7L2759.7,1913.1"/><path class="t" d="M2989.3,1744.6L2998.9,1775"/><path class="t" d="M2759.7,1881.1L2769.3,1909.9"/><path class="t" d="M2998.9,1743L3008.5,1771.8"/><path class="m" d="M2713.2,1901.9C2715.1,1904.9 2721.5,1912.3 2724.4,1919.6C2727.4,1926.8 2730.3,1936.7 2730.9,1945.2C2731.4,1953.8 2730.3,1965 2727.7,1970.9C2725,1976.7 2717,1978.9 2714.8,1980.5"/><path class="t" d="M2721.2,1900.3C2723.1,1903.3 2729.3,1910.5 2732.5,1918C2735.7,1925.4 2739.7,1936.4 2740.5,1945.2C2741.3,1954 2739.9,1964.7 2737.3,1970.9C2734.6,1977 2726.6,1980.2 2724.4,1982.1"/><path class="t" d="M2716.4,1906.7L2726.1,1908.7L2717.2,1913.1"/><path class="t" d="M2717.9,1913.5L2727.5,1915.4L2718.7,1919.9"/><path class="t" d="M2719.3,1920.2L2728.9,1922.1L2720.1,1926.6"/><path class="t" d="M2720.8,1926.9L2730.4,1928.9L2721.6,1933.3"/><path class="t" d="M2722.2,1933.7L2731.8,1935.6L2723,1940.1"/><path class="t" d="M2723.6,1940.4L2733.3,1942.3L2724.4,1946.8"/><path class="t" d="M2722.4,1947.1L2732,1949.1L2723.2,1953.5"/><path class="t" d="M2721.1,1953.9L2730.7,1955.8L2721.9,1960.3"/><path class="t" d="M2719.8,1960.6L2729.4,1962.5L2720.6,1967"/><path class="t" d="M2718.5,1967.3L2728.1,1969.3L2719.3,1973.7"/><path class="t" d="M2717.2,1974.1L2726.9,1976L2718,1980.5"/><path class="t" d="M2517.6,1804.1C2517.5,1809.5 2516.3,1826.6 2516.8,1836.2C2517.4,1845.8 2518.3,1854.6 2520.8,1861.8C2523.4,1869.1 2530.2,1876.5 2532.1,1879.5"/><path class="t" d="M2524,1807.3C2523.8,1812.1 2522,1827.4 2522.4,1836.2C2522.8,1845 2524.4,1853.6 2526.5,1860.2C2528.5,1866.9 2533.1,1873.6 2534.5,1876.3"/><path class="t" d="M2518,1808.9L2523.7,1812.1"/><path class="t" d="M2518.3,1817L2524,1819.8"/><path class="t" d="M2518.6,1825L2524.4,1827.5"/><path class="t" d="M2518.9,1833L2524.7,1835.2"/><path class="t" d="M2519.2,1841L2525,1842.9"/><path class="t" d="M2519.6,1849L2525.3,1850.6"/><path class="t" d="M2519.9,1857L2525.7,1858.3"/><path class="t" d="M2520.2,1865.1L2526,1866"/><path class="m" d="M2530.5,1782.5L2534.5,1780.1"/><path class="m" d="M2556.1,1768.1L2560.9,1765.7"/>
<!-- 31_switch.svg -->
<path class="o4" d="M2159.4,1565.8C2164.3,1562.2 2175.4,1561.1 2183.8,1559C2192.1,1556.8 2203.4,1553.7 2209.5,1552.9C2215.6,1552.1 2217.7,1553 2220.4,1554.2C2223.1,1555.5 2225.1,1557.5 2225.8,1560.3C2226.5,1563.2 2226.5,1567.4 2224.5,1571.2C2222.4,1575 2215.9,1579.3 2213.6,1583.4C2211.3,1587.5 2210.2,1591.1 2210.9,1595.6C2211.6,1600.1 2216.1,1606.2 2217.7,1610.5C2219.3,1614.8 2220.8,1617.3 2220.4,1621.4C2219.9,1625.4 2220.6,1630.6 2215,1634.9C2209.3,1639.2 2193,1645.6 2186.5,1647.1C2179.9,1648.7 2179,1646.5 2175.6,1644.4C2172.2,1642.4 2168.4,1635.2 2166.1,1634.9C2163.9,1634.7 2162.2,1640.1 2162.1,1643.1C2162,1646 2165.5,1649.4 2165.5,1652.6C2165.5,1655.7 2164.9,1658.5 2162.1,1662.1C2159.2,1665.7 2151,1670.7 2148.5,1674.3C2146,1677.9 2145.6,1680.8 2147.1,1683.8C2148.7,1686.7 2155.9,1688.7 2158,1691.9C2160.1,1695.1 2160,1696.4 2160,1702.8C2160,1709.1 2158.8,1723.7 2158,1729.9C2157.2,1736.1 2156.2,1735.6 2155.3,1740C2154.4,1744.4 2152.1,1752.4 2152.6,1756.3C2153,1760.1 2156.4,1760.6 2158,1763.1C2159.6,1765.5 2161.6,1768.5 2162.1,1771.2C2162.5,1773.9 2162.3,1777.1 2160.7,1779.3C2159.1,1781.6 2153.9,1782.3 2152.6,1784.8C2151.2,1787.2 2152.1,1790 2152.6,1794.3C2153,1798.5 2153.9,1806.2 2155.3,1810.5C2156.6,1814.8 2159.1,1817.1 2160.7,1820C2162.3,1823 2164.6,1825.2 2164.8,1828.2C2165,1831.1 2162.4,1834.3 2162.1,1837.7C2161.7,1841 2163.6,1845.3 2162.7,1848.5C2161.8,1851.7 2159.5,1854.8 2156.6,1856.6C2153.8,1858.5 2149.4,1858.9 2145.8,1859.4C2142.2,1859.8 2137.7,1858.5 2134.9,1859.4C2132.2,1860.3 2130,1863 2129.5,1864.8C2129.1,1866.6 2130.4,1869.5 2132.2,1870.2C2134,1870.9 2132.2,1867.3 2140.4,1868.8C2148.5,1870.4 2173.7,1877 2181.1,1879.7C2188.4,1882.4 2185.4,1882.4 2184.4,1885.1C2183.5,1887.8 2178,1893.5 2175.6,1896C2173.3,1898.5 2170.2,1896.7 2170.2,1900C2170.2,1903.4 2175.2,1912.5 2175.6,1916.3C2176.1,1920.2 2176.1,1920.8 2172.9,1923.1C2169.8,1925.4 2159.8,1927.6 2156.6,1929.9C2153.5,1932.1 2157.8,1933.8 2153.9,1936.7C2150.1,1939.5 2138.1,1945.3 2133.6,1946.8C2129.1,1948.4 2128.8,1947.2 2126.8,1946.2C2124.8,1945.1 2123.6,1941.4 2121.4,1940.7C2119.1,1940.1 2115.5,1942.8 2113.2,1942.1C2111,1941.4 2109.8,1938.5 2107.8,1936.7C2105.8,1934.9 2103.7,1932.6 2101,1931.2C2098.3,1929.9 2093.8,1930.1 2091.5,1928.5C2089.3,1926.9 2088.8,1926.3 2087.5,1921.7C2086.1,1917.2 2084.9,1905.9 2083.4,1901.4C2081.9,1896.9 2079.3,1896.7 2078.7,1894.6C2078,1892.6 2077.9,1891 2079.3,1889.2C2080.8,1887.4 2084.5,1885.1 2087.5,1883.8C2090.4,1882.4 2096.3,1884.7 2097,1881.1C2097.6,1877.4 2094.7,1874.3 2091.5,1862.1C2088.4,1849.9 2082,1824.8 2078,1807.8C2073.9,1790.9 2069.6,1771.6 2067.1,1760.3C2064.6,1749 2064.2,1746.7 2063.1,1740C2061.9,1733.3 2061.6,1726.8 2060.3,1720.4C2059.1,1714 2056.3,1705.7 2055.6,1701.4C2054.9,1697.1 2055,1696.2 2056.3,1694.6C2057.5,1693 2060.8,1692.4 2063.1,1691.9C2065.3,1691.5 2068.7,1697.3 2069.8,1691.9C2071,1686.5 2068.9,1665.9 2069.8,1659.4C2070.7,1652.8 2070.7,1654.8 2075.3,1652.6C2079.8,1650.3 2094.4,1651.9 2097,1645.8C2099.6,1639.7 2092,1622.3 2090.9,1616C2089.7,1609.6 2089.6,1610.5 2090.2,1607.8C2090.7,1605.1 2092,1601.9 2094.3,1599.7C2096.5,1597.4 2101,1596.3 2103.7,1594.3C2106.5,1592.2 2106.7,1589.5 2110.5,1587.5C2114.4,1585.4 2123.2,1583.7 2126.8,1582C2130.4,1580.3 2130.2,1577.8 2132.2,1577.3C2134.3,1576.8 2137.2,1578.1 2139,1579.3C2140.8,1580.6 2140.6,1584.5 2143.1,1584.8C2145.6,1585 2151.2,1583.9 2153.9,1580.7C2156.6,1577.5 2154.4,1569.4 2159.4,1565.8Z"/><g id="swd"><path class="t" d="M2162.1,1573.9L2215,1557.6"/><path class="t" d="M2170.2,1572.6L2216.3,1560.3"/><path class="m" d="M2170.2,1572.6L2172.9,1580.7"/><path class="t" d="M2174.3,1576.6L2217.7,1563.1"/><path class="t" d="M2220.4,1565.8C2218.1,1568.3 2209.8,1575.5 2206.8,1580.7C2203.9,1585.9 2202.5,1591.1 2202.8,1597C2203,1602.8 2206.6,1611 2208.2,1616C2209.8,1620.9 2211.6,1625 2212.3,1626.8"/><path class="t" d="M2215,1564.4L2209.5,1573.9"/><path class="m" d="M2183.8,1575.3L2179.7,1586.1L2178.3,1597L2186.5,1629.5L2187.8,1640.4"/><path class="t" d="M2181.1,1576.6L2175.6,1597L2183.8,1628.2"/><path class="t" d="M2202.8,1607.8L2209.5,1605.1"/><path class="t" d="M2187.8,1633.6L2212.3,1624.1"/><path class="t" d="M2167.5,1632.2L2183.8,1626.8"/><path class="t" d="M2175.6,1634.9C2176.5,1635.8 2179.2,1639.5 2181.1,1640.4C2182.9,1641.3 2185.6,1640.4 2186.5,1640.4"/><path class="t" d="M2160.7,1616L2181.1,1609.2"/><path class="t" d="M2162.1,1622.7L2183.8,1616"/><path class="m" d="M2160,1617.3L2167.5,1615.3L2168.2,1620L2160.7,1622.1Z"/><path class="t" d="M2155.3,1595.6L2177,1587.5"/><path class="t" d="M2156,1596.4L2177.7,1588.3"/><path class="t" d="M2156.6,1597.2L2178.3,1589.1"/><path class="t" d="M2157.3,1598L2179,1589.9"/><path class="t" d="M2158,1598.9L2179.7,1590.7"/><path class="t" d="M2158.7,1599.7L2180.4,1591.5"/><path class="m" d="M2153.9,1594.3L2158,1616L2160.7,1626.8"/><path class="m" d="M2162.1,1599.7C2163.2,1601.5 2167.5,1606.9 2168.8,1610.5C2170.2,1614.1 2170,1619.6 2170.2,1621.4"/><ellipse class="m" cx="2124.1" cy="1594.3" rx="14.9" ry="6.8" transform="rotate(-15 2124.1 1594.3)"/><ellipse class="t" cx="2124.8" cy="1592.2" rx="14.2" ry="6.1" transform="rotate(-15 2124.8 1592.2)"/><ellipse class="m" cx="2133.6" cy="1585.4" rx="3.4" ry="3"/><path class="m" d="M2094.3,1613.2L2103.7,1616L2113.2,1610.5L2148.5,1597L2153.9,1594.3"/><path class="m" d="M2103.7,1616L2116,1670.2"/><path class="t" d="M2106.5,1616L2118.7,1668.8"/><path class="m" d="M2113.2,1610.5L2121.4,1643.1L2159.4,1629.5"/><path class="t" d="M2097,1603.7L2110.5,1607.8L2147.1,1594.3"/><path class="m" d="M2118,1624.1L2122.1,1639"/><path class="m" d="M2129.5,1620.9L2133.6,1635.8"/><path class="m" d="M2140.4,1617.8L2144.4,1632.7"/><path class="m" d="M2152.6,1614.4L2156.6,1629.3"/><path class="m" d="M2121.4,1625.4L2127.5,1623.4L2128.8,1630.2L2122.7,1632.2Z"/><path class="m" d="M2144.4,1618.5L2150.5,1616.5L2151.9,1623.3L2145.8,1625.3Z"/><path class="m" d="M2133.6,1621.4L2137.7,1620L2141.7,1634.9"/><path class="m" d="M2107.8,1609.2L2116,1607.8L2117.3,1613.2L2109.2,1615.3Z"/><path class="m" d="M2147.1,1597L2151.2,1595.6L2152.6,1601L2148.5,1602.4Z"/><path d="M2094.3,1616L2102.4,1618.7L2110.5,1652.6L2099.7,1648.5Z" fill="#161616"/><path class="m" d="M2087.5,1662.1L2089.1,1667.5"/><path class="m" d="M2092.4,1660.3L2094,1665.7"/><path class="m" d="M2097.2,1658.5L2098.9,1664"/><path class="m" d="M2102.1,1656.8L2103.7,1662.2"/><path class="m" d="M2107,1655L2108.6,1660.4"/><path class="m" d="M2111.9,1653.3L2113.5,1658.7"/><path class="m" d="M2116.8,1651.5L2118.4,1656.9"/><path class="m" d="M2121.6,1649.7L2123.3,1655.1"/><path class="m" d="M2126.5,1648L2128.2,1653.4"/><path class="m" d="M2131.4,1646.2L2133,1651.6"/><path class="m" d="M2136.3,1644.4L2137.9,1649.9"/><path class="m" d="M2141.2,1642.7L2142.8,1648.1"/><path class="m" d="M2084.8,1662.1L2145.8,1640.4"/><path class="m" d="M2086.1,1668.8L2124.1,1655.3L2128.2,1660.7L2147.1,1653.9"/><path class="m" d="M2086.1,1659.4C2085.4,1660.7 2082.5,1662.5 2082,1667.5C2081.6,1672.5 2082.9,1681.1 2083.4,1689.2C2083.9,1697.3 2084.5,1711.8 2084.8,1716.3"/><path class="t" d="M2080.7,1662.1C2080.5,1666.6 2079.3,1679.5 2079.3,1689.2C2079.3,1698.9 2080.5,1715.2 2080.7,1720.4"/><path class="m" d="M2118.7,1660.7L2126.8,1658L2128.2,1662.1L2120,1664.8Z"/><path class="m" d="M2133.6,1653.9L2144.4,1649.9L2145.8,1653.9L2134.9,1658Z"/><ellipse class="m" cx="2137.7" cy="1666.8" rx="5.2" ry="5.2"/><ellipse class="t" cx="2137.7" cy="1666.8" rx="2.7" ry="2.7"/><ellipse class="m" cx="2145.1" cy="1729.2" rx="4.7" ry="4.7"/><ellipse class="t" cx="2145.1" cy="1729.2" rx="2.4" ry="2.4"/><ellipse class="m" cx="2090.2" cy="1719.7" rx="3.4" ry="3.4"/><path class="m" d="M2099.7,1677L2107.8,1674.3L2111.9,1687.8L2103.7,1691.2Z"/><path class="t" d="M2101.7,1667.5L2107.8,1666.1L2109.2,1674.3"/><path class="m" d="M2113.2,1693.3L2124.1,1689.9L2128.8,1697.3L2120,1701.4Z"/><path d="M2112.6,1691.2L2116,1689.9L2120,1700L2117.3,1701.4Z" fill="#161616"/><path class="m" d="M2105.1,1706.8L2113.2,1702.1L2121.4,1720.4L2113.2,1725.8Z"/><path class="t" d="M2106.5,1713.6L2116,1708.9"/><path class="m" d="M2122.7,1725.8L2132.2,1723.1L2134.9,1731.2L2125.4,1734Z"/><path class="m" d="M2105.1,1739.4L2111.9,1734L2124.1,1748.9L2116,1755.7Z"/><path class="m" d="M2125.4,1751.6L2134.9,1748.9L2137.7,1760"/><path class="m" d="M2143.1,1675.6C2142.5,1677 2139.7,1680.8 2139.7,1683.8C2139.7,1686.7 2140.9,1691.2 2143.1,1693.3C2145.2,1695.3 2151,1695.5 2152.6,1696"/><path class="t" d="M2145.8,1674.3C2145.2,1675.9 2142.4,1680.8 2142.4,1683.8C2142.4,1686.7 2145.2,1690.5 2145.8,1691.9"/><path class="m" d="M2141.7,1705.5C2142.9,1706.4 2147.1,1707.7 2148.5,1710.9C2149.9,1714.1 2149.6,1722.2 2149.9,1724.5"/><path class="t" d="M2153.9,1696L2154.6,1708.2"/><ellipse class="t" cx="2154.6" cy="1708.2" rx="1.6" ry="2.2"/><path class="m" d="M2079.3,1693.3L2084.8,1691.9L2091.5,1690.5L2092.9,1694.6L2080.7,1697.3Z"/><path class="m" d="M2084.8,1698.7L2097,1698.7L2099.7,1708.2L2084.8,1710.9Z"/><path class="m" d="M2094.3,1709.5L2105.1,1751.6"/><path class="t" d="M2098.3,1709.5L2109.2,1751.6"/><path class="m" d="M2071.2,1721.7C2073.5,1722.4 2080.9,1723.8 2084.8,1725.8C2088.6,1727.8 2093.1,1730.6 2094.3,1734C2095.4,1737.3 2093.6,1743.2 2091.5,1746.2C2089.5,1749.1 2083.6,1750.7 2082,1751.6"/><path class="t" d="M2073.9,1729.9C2075.3,1730.8 2080.5,1733 2082,1735.3C2083.6,1737.6 2083.2,1742.1 2083.4,1743.4"/><path class="m" d="M2063.1,1700L2075.3,1750.2"/><path class="t" d="M2067.1,1700L2079.3,1750.2"/><ellipse class="t" cx="2063.1" cy="1698.7" rx="2.4" ry="2.4"/><path class="t" d="M2073.9,1748.9L2083.4,1744.8L2086.1,1751.6"/><path class="m" d="M2082,1750.9L2091.5,1843.1L2103.7,1881.1"/><path class="t" d="M2086.1,1750.9L2095.6,1843.1L2107.8,1879.7"/><path class="m" d="M2099.7,1740L2116,1826.8L2128.2,1886.5L2133.6,1897.3"/><path class="t" d="M2105.1,1740L2121.4,1826.8L2134.9,1886.5"/><path class="m" d="M2067.1,1740L2084.8,1748.1L2094.3,1740"/><path class="m" d="M2105.1,1748.1L2111.9,1742.7L2124.1,1754.9L2118.7,1760.3"/><path class="m" d="M2126.8,1753.6L2134.9,1751.5L2137,1758.3L2128.2,1760.3Z"/><ellipse class="o" cx="2149.9" cy="1772.6" rx="8.4" ry="10.2" transform="rotate(-15 2149.9 1772.6)"/><path class="o" d="M2133.6,1761.7L2145.8,1763.1"/><path class="o" d="M2134.9,1779.3L2147.1,1782.7"/><path class="o" d="M2133.6,1761.7C2132.9,1763.3 2129.3,1768.3 2129.5,1771.2C2129.7,1774.1 2134,1778 2134.9,1779.3"/><path class="m" d="M2095.6,1756.3C2096.3,1755.6 2097.6,1752 2099.7,1752.2C2101.7,1752.4 2106.5,1756.7 2107.8,1757.6"/><path class="m" d="M2094.3,1759C2094.9,1760.8 2096.5,1767.1 2098.3,1769.8C2100.1,1772.6 2104,1774.4 2105.1,1775.3"/><path class="m" d="M2113.2,1775.3C2114.6,1775.9 2119.1,1779.8 2121.4,1779.3C2123.6,1778.9 2125.9,1773.7 2126.8,1772.6"/><ellipse class="m" cx="2101" cy="1791.5" rx="6.1" ry="6.8"/><path class="m" d="M2090.2,1786.1L2110.5,1784.8"/><path class="m" d="M2092.9,1794.3C2093.6,1795.2 2094.9,1798.8 2097,1799.7C2099,1800.6 2103.7,1799.7 2105.1,1799.7"/><path d="M2127.4,1794.1L2130.4,1793.4L2130.6,1794.6L2127.7,1795.3Z" fill="#161616"/><path d="M2134,1801.7L2135.5,1801.3L2135.8,1803.1L2134.3,1803.5Z" fill="#161616"/><path d="M2118.5,1804.1L2120,1803.7L2120.3,1804.9L2118.8,1805.3Z" fill="#161616"/><path d="M2130.6,1818L2132.2,1817.6L2132.5,1819L2130.8,1819.4Z" fill="#161616"/><path d="M2136.9,1822.2L2139.6,1821.6L2139.9,1823.2L2137.2,1823.9Z" fill="#161616"/><path d="M2147.8,1790.5L2151.2,1789.6L2151.5,1791.1L2148,1791.9Z" fill="#161616"/><path d="M2121.8,1793L2123.9,1792.5L2124.2,1794.6L2122.1,1795.2Z" fill="#161616"/><path d="M2122.9,1809.3L2125.9,1808.6L2126.1,1810.2L2123.2,1810.9Z" fill="#161616"/><path d="M2134.4,1791L2135.9,1790.7L2136.2,1792L2134.7,1792.4Z" fill="#161616"/><path d="M2138.5,1803.9L2140.7,1803.4L2140.9,1805.3L2138.8,1805.8Z" fill="#161616"/><path d="M2131.4,1799.4L2134.7,1798.6L2135,1800.6L2131.7,1801.4Z" fill="#161616"/><path d="M2124.9,1809.1L2127.6,1808.4L2127.8,1810.7L2125.2,1811.4Z" fill="#161616"/><path d="M2140.1,1799L2143.8,1798L2144.1,1799.3L2140.3,1800.2Z" fill="#161616"/><path d="M2130.4,1815.5L2132.1,1815.1L2132.4,1816.8L2130.6,1817.3Z" fill="#161616"/><path d="M2118.5,1812.4L2121.8,1811.6L2122,1813.4L2118.8,1814.3Z" fill="#161616"/><path d="M2144.6,1799.9L2147.7,1799.1L2147.9,1801L2144.9,1801.8Z" fill="#161616"/><path d="M2135.4,1804.9L2138.8,1804.1L2139.1,1806.4L2135.7,1807.3Z" fill="#161616"/><path d="M2132.1,1812.2L2133.6,1811.9L2133.9,1813.9L2132.4,1814.3Z" fill="#161616"/><path d="M2137.5,1823.8L2140.9,1823L2141.1,1824.5L2137.8,1825.3Z" fill="#161616"/><path d="M2129.3,1812.4L2130.8,1812.1L2131,1813.8L2129.6,1814.1Z" fill="#161616"/><path d="M2122.6,1793L2124.1,1792.6L2124.3,1794.7L2122.8,1795.1Z" fill="#161616"/><path d="M2121.3,1797.6L2123.7,1797L2123.9,1799.2L2121.6,1799.8Z" fill="#161616"/><path d="M2119.8,1804.7L2122.5,1804L2122.8,1806.3L2120.1,1807Z" fill="#161616"/><path d="M2142.9,1819.3L2144.9,1818.8L2145.2,1820.4L2143.1,1820.9Z" fill="#161616"/><path d="M2128.5,1820L2132.2,1819.1L2132.5,1820.4L2128.8,1821.3Z" fill="#161616"/><path d="M2122.8,1797L2124.7,1796.5L2125,1798.3L2123.1,1798.7Z" fill="#161616"/><path d="M2135.7,1798.1L2137.1,1797.8L2137.3,1799.4L2136,1799.7Z" fill="#161616"/><path d="M2128.8,1808.8L2132.5,1807.9L2132.8,1809.9L2129.1,1810.8Z" fill="#161616"/><path d="M2133.4,1810.6L2136.4,1809.9L2136.7,1811L2133.7,1811.8Z" fill="#161616"/><path d="M2145.4,1816.3L2148.9,1815.5L2149.1,1817.6L2145.6,1818.5Z" fill="#161616"/><path d="M2129.5,1802.9L2131.2,1802.5L2131.4,1804.4L2129.8,1804.8Z" fill="#161616"/><path d="M2119.3,1791.2L2121.1,1790.7L2121.4,1792L2119.5,1792.5Z" fill="#161616"/><path d="M2127.9,1790.7L2129.3,1790.3L2129.5,1791.6L2128.2,1792Z" fill="#161616"/><path d="M2120.5,1801.6L2121.9,1801.3L2122.2,1803.6L2120.7,1803.9Z" fill="#161616"/><path d="M2136.5,1794.1L2138.4,1793.6L2138.7,1795.1L2136.7,1795.6Z" fill="#161616"/><path d="M2128.7,1793.2L2132.1,1792.3L2132.4,1794.7L2128.9,1795.6Z" fill="#161616"/><path d="M2131.8,1805.9L2133.4,1805.5L2133.7,1806.7L2132.1,1807.1Z" fill="#161616"/><path d="M2128,1798.2L2131.4,1797.3L2131.6,1798.6L2128.3,1799.5Z" fill="#161616"/><path d="M2118,1822.4L2120.7,1821.7L2120.9,1823L2118.3,1823.6Z" fill="#161616"/><path d="M2134.3,1789.8L2136.9,1789.1L2137.2,1791.5L2134.5,1792.2Z" fill="#161616"/><path d="M2144.2,1813.4L2146.2,1812.9L2146.5,1814.5L2144.5,1815Z" fill="#161616"/><path d="M2122.5,1816L2125.2,1815.4L2125.4,1817.5L2122.8,1818.2Z" fill="#161616"/><path d="M2127.6,1796.7L2130.9,1795.9L2131.2,1798.3L2127.9,1799.1Z" fill="#161616"/><path d="M2143.9,1817.3L2147.3,1816.4L2147.5,1818.5L2144.2,1819.3Z" fill="#161616"/><path d="M2124.4,1807.1L2126.6,1806.5L2126.9,1807.6L2124.7,1808.2Z" fill="#161616"/><path d="M2118.2,1798.7L2120.2,1798.2L2120.4,1800.2L2118.5,1800.7Z" fill="#161616"/><ellipse class="t" cx="2149.2" cy="1805.5" rx="0.9" ry="0.9"/><ellipse class="t" cx="2148.8" cy="1815.7" rx="0.9" ry="0.9"/><ellipse class="t" cx="2149.1" cy="1803.9" rx="0.9" ry="0.9"/><ellipse class="t" cx="2137.2" cy="1801.3" rx="0.9" ry="0.9"/><ellipse class="t" cx="2136.8" cy="1800.8" rx="0.9" ry="0.9"/><ellipse class="t" cx="2143.7" cy="1814.1" rx="0.9" ry="0.9"/><ellipse class="t" cx="2147.3" cy="1806.1" rx="0.9" ry="0.9"/><ellipse class="t" cx="2144.2" cy="1812.1" rx="0.9" ry="0.9"/><ellipse class="t" cx="2135" cy="1809.5" rx="0.9" ry="0.9"/><ellipse class="t" cx="2148.4" cy="1811.8" rx="0.9" ry="0.9"/><ellipse class="t" cx="2145.8" cy="1806" rx="0.9" ry="0.9"/><ellipse class="t" cx="2136.5" cy="1811.9" rx="0.9" ry="0.9"/><ellipse class="t" cx="2139" cy="1812.2" rx="0.9" ry="0.9"/><ellipse class="t" cx="2149.4" cy="1804.5" rx="0.9" ry="0.9"/><path class="m" d="M2116,1794.3L2148.5,1784.8"/><path class="m" d="M2120,1826.8L2151.2,1817.3"/><path class="m" d="M2124.1,1840.4L2126.1,1848.5"/><path class="m" d="M2127.5,1839.3L2129.5,1847.4"/><path class="m" d="M2130.9,1838.2L2132.9,1846.3"/><path class="m" d="M2134.3,1837.1L2136.3,1845.2"/><path class="m" d="M2137.7,1836L2139.7,1844.2"/><path class="m" d="M2141,1834.9L2143.1,1843.1"/><path class="m" d="M2144.4,1833.9L2146.5,1842"/><path class="m" d="M2147.8,1832.8L2149.9,1840.9"/><path class="m" d="M2151.2,1831.7L2153.3,1839.8"/><path class="m" d="M2121.4,1833.6L2148.5,1826.8"/><path class="m" d="M2122.7,1852.6L2153.9,1845.8"/><path class="m" d="M2148.5,1826.8L2153.9,1845.8"/><path class="m" d="M2098.3,1805.1L2102.4,1803.7L2110.5,1855.3L2106.5,1856.6Z"/><path class="m" d="M2105.1,1818.7L2110.5,1852.6"/><path class="m" d="M2099.7,1840.4C2100.4,1841.7 2102.4,1845.8 2103.7,1848.5C2105.1,1851.2 2107.1,1855.3 2107.8,1856.6"/><path d="M2101,1837.7L2105.1,1837L2107.1,1845.8L2103.1,1847.1Z" fill="#161616"/><ellipse class="m" cx="2103.7" cy="1809.2" rx="2.4" ry="3"/><path class="m" d="M2082,1891.9L2124.1,1904.1L2179.7,1883.8"/><path class="t" d="M2084.8,1894.6L2124.1,1906.8L2177,1887.2"/><path class="m" d="M2124.1,1904.1L2129.5,1940.7"/><path class="t" d="M2120,1906.8L2124.1,1939.4"/><path class="m" d="M2145.8,1905.5L2152.6,1929.9"/><path class="t" d="M2148.5,1904.1L2155.3,1928.5"/><path class="t" d="M2166.1,1898.7L2172.9,1919"/><ellipse class="m" cx="2105.1" cy="1915" rx="6.8" ry="13.6" transform="rotate(-15 2105.1 1915)"/><path class="t" d="M2098.3,1905.5C2098.5,1907.7 2098.1,1915.4 2099.7,1919C2101.3,1922.6 2106.5,1925.8 2107.8,1927.2"/><path class="m" d="M2094.3,1919L2099.7,1925.8L2116,1928.5L2118.7,1936.7"/><path class="m" d="M2113.2,1932.6L2121.4,1929.9L2122.7,1939.4"/><path class="m" d="M2128.2,1936.7L2133.6,1935.3L2134.9,1942.1"/><ellipse class="t" cx="2147.1" cy="1886.5" rx="3.8" ry="1.6" transform="rotate(-15 2147.1 1886.5)"/><ellipse class="t" cx="2155.3" cy="1887.2" rx="3.8" ry="1.6" transform="rotate(-15 2155.3 1887.2)"/><path class="m" d="M2113.2,1886.5L2121.4,1883.8"/><path class="m" d="M2132.2,1882.4L2136.3,1881.1"/><path class="m" d="M2130.9,1887.2L2134.9,1885.8"/><path class="t" d="M2091.5,1883.8L2110.5,1878.3"/></g><use href="#swd" transform="translate(1.9,1.3)"/>
<!-- 32_p69s.svg -->
<path class="o4" d="M2223.3,1852.2C2223.9,1853.4 2227,1855.5 2228.9,1856.1C2230.7,1856.6 2232.9,1856.1 2234.4,1855.5C2235.9,1854.9 2239.2,1853.3 2237.7,1852.2C2236.3,1851.1 2227.9,1848.8 2225.5,1848.8C2223.1,1848.8 2222.7,1851 2223.3,1852.2Z"/><path class="o4" d="M2210.5,1837.2L2231.6,1825L2272.1,1835.5L2273.8,1840L2252.2,1854.4L2210.5,1841.1Z"/><path class="t" d="M2214.4,1839.1L2249.9,1849.1L2269.9,1837.5"/><path class="t" d="M2249.9,1849.1L2250.5,1853.3"/><ellipse class="m" cx="2239.4" cy="1833.9" rx="2.4" ry="2"/><path class="m" d="M2236.1,1838.3L2245.5,1836.1"/><path class="m" d="M2238.8,1835.5L2240,1838.3"/><path class="m" d="M2227.7,1851.1L2230,1853.3"/><path class="o4" d="M2219.4,1943.2C2220,1940.9 2221,1936.5 2223.3,1934.9C2225.6,1933.2 2229.6,1932.7 2233.3,1933.2C2237,1933.7 2241.6,1935.2 2245.5,1937.6C2249.4,1940 2254.4,1945 2256.6,1947.6C2258.8,1950.2 2259,1951.3 2258.8,1953.2C2258.6,1955 2257.2,1957.3 2255.5,1958.7C2253.8,1960.2 2253.3,1962.6 2248.8,1962.1C2244.4,1961.5 2233.7,1957.6 2228.9,1955.4C2224,1953.2 2221.5,1950.8 2220,1948.7C2218.4,1946.7 2218.9,1945.5 2219.4,1943.2Z"/><path class="m" d="M2224.4,1940.1L2238.8,1944.3L2252.2,1955.4L2248.3,1957.8L2234.4,1952.1L2223.3,1945.6Z"/><path class="t" d="M2242.2,1945.4L2241.1,1952.1"/><path class="t" d="M2244.4,1946.5L2243.3,1953.2"/><path class="m" d="M2232.2,1937.6L2238.8,1939.9L2238.8,1944.3"/>
<!-- 33_p2462.svg -->
<path class="o4" d="M1337.4,1744.6C1342.8,1741.8 1358.2,1733.7 1368.8,1733.4C1379.3,1733.2 1394.8,1742 1400.8,1743.2C1406.9,1744.4 1403.2,1740.7 1405,1740.4C1406.9,1740.2 1409.2,1740.7 1412,1741.8C1414.8,1743 1420,1744.6 1421.7,1747.4C1423.5,1750.2 1422.7,1756 1422.4,1758.5C1422.2,1761.1 1424.4,1760.6 1420.3,1762.7C1416.3,1764.8 1403.2,1769.9 1398,1771.1C1392.9,1772.2 1392.7,1770 1389.7,1769.7C1386.7,1769.3 1385,1769.7 1379.9,1769C1374.8,1768.3 1363,1767 1359,1765.5C1355.1,1764 1359.5,1761.6 1356.2,1759.9C1353,1758.3 1342.8,1757.4 1339.5,1755.7C1336.3,1754.1 1337.1,1752 1336.7,1750.2C1336.4,1748.3 1332.1,1747.4 1337.4,1744.6Z"/><path class="t" d="M1340.9,1748.1L1371.6,1737.6L1406.4,1748.1"/><path class="m" d="M1350,1748.1L1377.1,1739.3L1406.4,1748.1L1381.3,1756.4Z"/><path class="t" d="M1340.9,1748.1L1340.9,1753.7L1356.2,1758.5"/><path class="m" d="M1350,1748.1L1350.7,1755.1L1381.3,1762.7L1381.3,1756.4"/><path class="t" d="M1381.3,1762.7L1417.6,1750.2"/><path class="m" d="M1389.7,1759.9L1390.4,1766.2"/><path class="m" d="M1399.4,1757.1L1400.8,1764.1L1409.2,1759.9L1407.8,1754.4Z"/><path class="m" d="M1361.8,1758.5L1361.8,1764.1L1368.8,1764.8L1368.8,1759.9"/><path class="m" d="M1373,1759.9L1374.4,1765.5"/><path class="t" d="M1406.4,1748.1L1417.6,1750.2L1417.6,1758.5"/><path class="o4" d="M1505.4,1773.9L1522.1,1748.8L1605.7,1717.4L1609.2,1720.2L1611.3,1743.2L1570.9,1792L1530.5,1808Z"/><path class="t" d="M1513.7,1782.9L1604.3,1746.7"/>
<!-- 34_rotor.svg -->
<path class="o4" d="M772.5,1959.2C772.8,1954.7 774.4,1952.2 777.2,1949.8C780.1,1947.3 786.1,1945 789.8,1944.7C793.4,1944.5 796.3,1945.3 799.2,1948.2C802.1,1951.1 804.9,1957.3 807,1962.3C809.1,1967.3 811.2,1974.1 811.7,1978C812.3,1981.9 811.2,1983.7 810.2,1985.8C809.1,1987.9 808.3,1989 805.5,1990.5C802.6,1992 796.6,1995.2 792.9,1994.9C789.3,1994.6 786.4,1992 783.5,1988.9C780.6,1985.9 777.5,1981.4 775.7,1976.4C773.8,1971.4 772.3,1963.6 772.5,1959.2Z"/><ellipse class="m" cx="787" cy="1972" rx="12.9" ry="20.1" transform="rotate(-15 787 1972)"/><ellipse class="t" cx="787" cy="1972" rx="9.1" ry="14.4" transform="rotate(-15 787 1972)"/><ellipse class="t" cx="787" cy="1972" rx="7.1" ry="11.3" transform="rotate(-15 787 1972)"/><ellipse class="m" cx="787" cy="1972" rx="4.7" ry="7.5" transform="rotate(-15 787 1972)"/><ellipse class="t" cx="787" cy="1972" rx="1.9" ry="3.1" transform="rotate(-15 787 1972)"/><path class="t" d="M796.1,1948.2C797.4,1951.1 802.1,1959.9 803.9,1965.4C805.7,1970.9 806.9,1977.1 807,1981.1C807.2,1985.2 805.1,1988.3 804.7,1989.7"/><path class="o4" d="M1004.6,1876.1C1005.1,1872.1 1007.7,1869 1010.9,1866.7C1014,1864.3 1020,1862.1 1023.4,1862C1026.8,1861.8 1028.6,1862.7 1031.2,1865.9C1033.9,1869 1037.5,1876.2 1039.1,1880.8C1040.7,1885.3 1040.9,1890.2 1040.7,1893.3C1040.4,1896.4 1040.1,1897.4 1037.5,1899.6C1034.9,1901.8 1028.4,1906.1 1025,1906.6C1021.6,1907.2 1020,1905.5 1017.1,1902.7C1014.3,1900 1009.8,1894.6 1007.7,1890.2C1005.6,1885.7 1004.1,1880 1004.6,1876.1Z"/><ellipse class="m" cx="1017.1" cy="1885.8" rx="9.7" ry="16.9" transform="rotate(-15 1017.1 1885.8)"/><ellipse class="t" cx="1017.1" cy="1885.8" rx="6.6" ry="11.3" transform="rotate(-15 1017.1 1885.8)"/><ellipse class="t" cx="1017.1" cy="1885.8" rx="4.7" ry="8.2" transform="rotate(-15 1017.1 1885.8)"/><ellipse class="m" cx="1017.1" cy="1885.8" rx="2.5" ry="4.2" transform="rotate(-15 1017.1 1885.8)"/><path class="t" d="M1028.1,1865.1C1029.3,1867.7 1033.7,1875.8 1035.2,1880.8C1036.6,1885.7 1036.9,1891.5 1036.7,1894.9C1036.6,1898.3 1034.8,1900.1 1034.4,1901.1"/><path class="o4" d="M1065,1860.4C1065.5,1857.2 1065.9,1854.6 1068.9,1852.5C1071.9,1850.5 1079.3,1848.1 1083,1847.8C1086.6,1847.6 1088.5,1848.4 1090.8,1851C1093.2,1853.6 1095.8,1859.6 1097.1,1863.5C1098.4,1867.4 1099.2,1871.4 1098.7,1874.5C1098.1,1877.6 1097.4,1880.2 1094,1882.3C1090.6,1884.4 1082.2,1887 1078.3,1887C1074.4,1887 1072.5,1884.9 1070.4,1882.3C1068.4,1879.7 1066.7,1875 1065.7,1871.4C1064.8,1867.7 1064.4,1863.5 1065,1860.4Z"/><ellipse class="m" cx="1073.3" cy="1869" rx="6.6" ry="13.3" transform="rotate(-15 1073.3 1869)"/><ellipse class="t" cx="1073.9" cy="1869" rx="3.4" ry="6.6" transform="rotate(-15 1073.9 1869)"/><path class="m" d="M1076.7,1854.9L1094.7,1850.5"/><path class="m" d="M1078,1859.6L1094.7,1855.2"/><path class="m" d="M1076.7,1864.3L1094.7,1859.9"/><path class="m" d="M1078,1869L1094.7,1864.6"/><path class="m" d="M1076.7,1873.7L1094.7,1869.3"/><path class="m" d="M1078,1878.4L1094.7,1874"/><path class="m" d="M1076.7,1883.1L1094.7,1878.7"/><path class="o" d="M831.3,1910.6C832,1903.8 834.1,1895.4 836.8,1890.2C839.6,1884.9 843.6,1881.8 847.8,1879.2C852,1876.6 858.5,1875.2 861.9,1874.8C865.3,1874.4 866.9,1875.7 868.2,1876.8C869.5,1878 868.4,1881 869.8,1881.5C871.1,1882.1 874.5,1879.1 876,1880C877.6,1880.9 877.6,1885.3 879.2,1887C880.7,1888.7 883.6,1888.9 885.4,1890.2C887.3,1891.5 888.6,1894.4 890.1,1894.9C891.7,1895.4 889.9,1894.9 894.8,1893.3C899.8,1891.7 911.6,1888.1 919.9,1885.5C928.3,1882.9 939,1878.2 945,1877.6C951,1877.1 952.6,1879.5 956,1882.3C959.4,1885.2 963.3,1892.8 965.4,1894.9C967.5,1897 964.6,1895.7 968.5,1894.9C972.4,1894.1 984.2,1890.2 988.9,1890.2C993.6,1890.2 995.3,1892.8 996.8,1894.9C998.2,1897 998.3,1900.6 997.5,1902.7C996.8,1904.8 996.4,1905.6 992,1907.4C987.7,1909.2 974.5,1909.8 971.7,1913.7C968.8,1917.6 974.5,1926.2 974.8,1930.9C975.1,1935.6 974.5,1939 973.2,1941.9C971.9,1944.8 972.4,1945.7 967,1948.2C961.5,1950.7 948.9,1953.9 940.3,1956.8C931.7,1959.7 919.1,1963.2 915.2,1965.4C911.3,1967.7 917.6,1968.8 916.8,1970.1C916,1971.4 910.8,1971.4 910.5,1973.3C910.3,1975.1 914.7,1978.8 915.2,1981.1C915.7,1983.5 915,1986.5 913.7,1987.4C912.3,1988.3 907.9,1985.6 907.4,1986.6C906.9,1987.6 910.8,1991.4 910.5,1993.7C910.3,1995.9 908.2,1998.1 905.8,1999.9C903.5,2001.8 900.1,2003.4 896.4,2004.6C892.7,2005.9 888.3,2008.2 883.9,2007.5C879.4,2006.7 874.7,2004.3 869.8,1999.9C864.8,1995.5 859,1988.4 854.1,1981.1C849.1,1973.8 843.5,1964.4 840,1956C836.4,1947.7 834.3,1938.5 832.9,1930.9C831.5,1923.4 830.7,1917.3 831.3,1910.6Z"/><ellipse class="t" cx="868.2" cy="1941.9" rx="19.6" ry="33.7" transform="rotate(-15 868.2 1941.9)"/><ellipse class="t" cx="870.5" cy="1942.7" rx="13.3" ry="26.7" transform="rotate(-15 870.5 1942.7)"/><path class="t" d="M861.9,1877.6C865.3,1881.8 876.5,1892.3 882.3,1902.7C888,1913.2 893.3,1928.6 896.4,1940.3C899.5,1952.1 900.8,1962.8 901.1,1973.3C901.4,1983.7 898.5,1998.1 898,2003.1"/><path class="t" d="M857.2,1878.4C860.6,1882.5 871.8,1892.4 877.6,1902.7C883.3,1913 888.6,1928.6 891.7,1940.3C894.8,1952.1 896.1,1962.7 896.4,1973.3C896.7,1983.9 893.8,1998.7 893.3,2003.8"/><path class="m" d="M893.3,1898C895.4,1901.9 902.4,1912.9 905.8,1921.5C909.2,1930.2 912.2,1942.4 913.7,1949.8C915.1,1957.1 914.3,1962.8 914.4,1965.4"/><path class="t" d="M956,1882.3C958.1,1886.3 965.4,1897.8 968.5,1905.9C971.7,1914 974.8,1923.9 974.8,1930.9C974.8,1938 969.6,1945.3 968.5,1948.2"/><path class="t" d="M895.6,1894.1C897.6,1898 904.2,1909 907.4,1917.6C910.5,1926.2 913.2,1938.3 914.4,1945.8C915.6,1953.4 914.6,1959.9 914.6,1962.8"/><path class="t" d="M898.9,1893.2C900.9,1897.1 907.5,1908.1 910.7,1916.7C913.8,1925.4 916.5,1937.4 917.7,1945C918.9,1952.5 917.9,1959.1 917.9,1961.9"/><path class="t" d="M902.2,1892.3C904.2,1896.3 910.8,1907.2 914,1915.9C917.1,1924.5 919.8,1936.6 921,1944.1C922.2,1951.6 921.2,1958.2 921.2,1961"/><path class="t" d="M905.5,1891.5C907.5,1895.4 914.1,1906.4 917.3,1915C920.4,1923.6 923.1,1935.7 924.3,1943.2C925.5,1950.7 924.4,1957.3 924.5,1960.1"/><path class="t" d="M908.8,1890.6C910.8,1894.5 917.4,1905.5 920.6,1914.1C923.7,1922.7 926.4,1934.8 927.6,1942.3C928.8,1949.8 927.7,1956.4 927.8,1959.3"/><path class="t" d="M912.1,1889.7C914,1893.6 920.7,1904.6 923.8,1913.2C927,1921.8 929.7,1933.9 930.9,1941.4C932.1,1949 931,1955.6 931.1,1958.4"/><path class="t" d="M915.4,1888.8C917.3,1892.7 924,1903.7 927.1,1912.3C930.3,1921 933,1933 934.2,1940.6C935.4,1948.1 934.3,1954.7 934.3,1957.5"/><path class="t" d="M918.7,1887.9C920.6,1891.9 927.3,1902.8 930.4,1911.5C933.6,1920.1 936.3,1932.2 937.5,1939.7C938.7,1947.2 937.6,1953.8 937.6,1956.6"/><path class="t" d="M922,1887.1C923.9,1891 930.6,1902 933.7,1910.6C936.9,1919.2 939.6,1931.3 940.8,1938.8C942,1946.3 940.9,1952.9 940.9,1955.7"/><path class="t" d="M925.3,1886.2C927.2,1890.1 933.9,1901.1 937,1909.7C940.2,1918.3 942.9,1930.4 944.1,1937.9C945.3,1945.5 944.2,1952 944.2,1954.9"/><path class="t" d="M928.5,1885.3C930.5,1889.2 937.2,1900.2 940.3,1908.8C943.4,1917.5 946.2,1929.5 947.4,1937.1C948.6,1944.6 947.5,1951.2 947.5,1954"/><path class="t" d="M931.8,1884.4C933.8,1888.4 940.5,1899.3 943.6,1908C946.7,1916.6 949.5,1928.6 950.7,1936.2C951.9,1943.7 950.8,1950.3 950.8,1953.1"/><path class="t" d="M935.1,1883.6C937.1,1887.5 943.8,1898.5 946.9,1907.1C950,1915.7 952.7,1927.8 953.9,1935.3C955.1,1942.8 954.1,1949.4 954.1,1952.2"/><path class="t" d="M938.4,1882.7C940.4,1886.6 947,1897.6 950.2,1906.2C953.3,1914.8 956,1926.9 957.2,1934.4C958.4,1941.9 957.4,1948.5 957.4,1951.4"/><path class="t" d="M941.7,1881.8C943.7,1885.7 950.3,1896.7 953.5,1905.3C956.6,1913.9 959.3,1926 960.5,1933.5C961.7,1941.1 960.7,1947.7 960.7,1950.5"/><path class="t" d="M945,1880.9C947,1884.8 953.6,1895.8 956.8,1904.4C959.9,1913.1 962.6,1925.1 963.8,1932.7C965,1940.2 964,1946.8 964,1949.6"/><path class="t" d="M948.3,1880C950.3,1884 956.9,1894.9 960.1,1903.6C963.2,1912.2 965.9,1924.3 967.1,1931.8C968.3,1939.3 967.2,1945.9 967.3,1948.7"/><path class="t" d="M951.6,1879.2C953.6,1883.1 960.2,1894.1 963.4,1902.7C966.5,1911.3 969.2,1923.4 970.4,1930.9C971.6,1938.4 970.5,1945 970.6,1947.8"/><path class="t" d="M954.9,1878.3C956.8,1882.2 963.5,1893.2 966.6,1901.8C969.8,1910.4 972.5,1922.5 973.7,1930C974.9,1937.6 973.8,1944.1 973.9,1947"/><path class="m" d="M904.2,1940.3L968.5,1921.5"/><path class="m" d="M905.8,1943.5L969.3,1925.4"/><path class="m" d="M894.8,1894.1L945,1878.4"/><path class="m" d="M915.2,1964.6L967,1947.9"/><path class="t" d="M885.4,1891.7L893.3,1909"/><path class="t" d="M890.1,1913.7L898,1927.8"/><path class="t" d="M896.4,1934.1L902.7,1927.8"/><path class="t" d="M899.5,1940.3L907.4,1949.8"/><path class="t" d="M902.7,1959.2L910.5,1970.1"/><path class="t" d="M904.2,1974.8L910.5,1981.1"/><path class="m" d="M860.3,1943.5L876,1937.2"/><path class="m" d="M861.9,1949.8L879.2,1943.5"/><ellipse class="t" cx="862.7" cy="1944.3" rx="2.8" ry="5.5" transform="rotate(-15 862.7 1944.3)"/><path class="t" d="M869.8,1956L883.9,1949.8"/><path class="t" d="M863.5,1918.4L869.8,1915.3L879.2,1927.8"/>
<!-- 35_p19.svg -->
<path class="o4" d="M384.7,1874.7C385.3,1871.8 386.3,1871.4 389.6,1869.7C392.9,1868.1 400.3,1865.5 404.4,1864.8C408.5,1864.1 411.4,1865 414.2,1865.4C417.1,1865.8 418.6,1867.2 421.6,1867.3C424.7,1867.4 429,1865.6 432.7,1866C436.4,1866.4 439.5,1867.5 443.8,1869.7C448.1,1872 454.3,1875.9 458.6,1879.6C462.9,1883.3 467.6,1887.8 469.7,1891.9C471.9,1896 471.8,1900.5 471.6,1904.2C471.4,1907.9 469.6,1911.2 468.5,1914.1C467.3,1917 464.4,1917.8 464.8,1921.5C465.2,1925.2 468.7,1929.7 470.9,1936.3C473.2,1942.9 476.7,1953.5 478.3,1960.9C480,1968.3 478.7,1976.3 480.8,1980.7C482.9,1985 488.4,1983.5 490.7,1986.8C492.9,1990.1 493.4,1996.1 494.4,2000.4C495.3,2004.7 496.8,2009.4 496.2,2012.7C495.6,2016 495.7,2017.4 490.7,2020.1C485.6,2022.8 471.4,2026.7 466,2028.7C460.7,2030.8 461.5,2031.6 458.6,2032.4C455.7,2033.3 452,2034.5 448.8,2033.7C445.5,2032.8 443.4,2031.4 438.9,2027.5C434.4,2023.6 426.6,2016.2 421.6,2010.2C416.7,2004.3 412.8,1997.3 409.3,1991.8C405.8,1986.2 403.3,1982.1 400.7,1977C398,1971.8 396,1967.7 393.3,1960.9C390.6,1954.2 386.4,1943.3 384.7,1936.3C382.9,1929.3 382.2,1925.2 382.8,1919C383.4,1912.9 387.8,1904.6 388.4,1899.3C388.9,1894 386.5,1891.1 385.9,1887C385.3,1882.9 384,1877.5 384.7,1874.7Z"/><ellipse class="m" cx="422.9" cy="1947.4" rx="31.4" ry="57.9" transform="rotate(-18 422.9 1947.4)"/><ellipse class="t" cx="423.9" cy="1948" rx="27.7" ry="52.4" transform="rotate(-18 423.9 1948)"/><ellipse class="t" cx="424.7" cy="1948.6" rx="24.7" ry="47.5" transform="rotate(-18 424.7 1948.6)"/><ellipse class="m" cx="425.3" cy="1949.2" rx="21" ry="41.9" transform="rotate(-18 425.3 1949.2)"/><path class="t" d="M390.8,1876.5L419.2,1868.5"/><path class="t" d="M397,1887L421.6,1872.2L438.9,1872.2"/><path class="m" d="M419.2,1877.1L438.9,1872.2L458.6,1882L468.5,1896.8L467.2,1911.6L451.2,1916.6L448.8,1901.8L438.9,1890.7L429,1882Z"/><path class="t" d="M429,1882L446.3,1877.1"/><path class="t" d="M438.9,1890.7L458.6,1882"/><path class="t" d="M448.8,1901.8L468.5,1896.8"/><path class="t" d="M426.6,1879.6L429,1887L436.4,1896.8"/><ellipse class="m" cx="392.7" cy="1885.1" rx="3.1" ry="6.2" transform="rotate(-15 392.7 1885.1)"/><ellipse class="m" cx="441.4" cy="1901.2" rx="6.4" ry="7.6" transform="rotate(-15 441.4 1901.2)"/><ellipse class="t" cx="442" cy="1901.8" rx="3.5" ry="4.4" transform="rotate(-15 442 1901.8)"/><ellipse class="m" cx="462.3" cy="2008.4" rx="6.2" ry="7.6" transform="rotate(-15 462.3 2008.4)"/><ellipse class="t" cx="462.9" cy="2009" rx="3.1" ry="4.3" transform="rotate(-15 462.9 2009)"/><path class="m" d="M453.7,1937.5L458.6,1930.1L470.9,1960.9L475.9,1983.1L463.5,1978.2L461.1,1960.9Z"/><path class="t" d="M457.4,1936.3L467.2,1962.2L469.7,1979.4"/><path class="m" d="M468.5,1995.5L488.2,1989.3"/><path class="m" d="M474.6,2012.7L493.1,2006.5"/><path class="m" d="M468.5,1995.5L474.6,2012.7L475.9,2018.9"/><path class="t" d="M464.8,1980.7L468.5,1995.5"/><path class="t" d="M464.8,1921.5L458.6,1928.9"/><path class="t" d="M409.3,1991.8C410.1,1992.4 412.8,1993.2 414.2,1995.5C415.7,1997.7 417.3,2003.7 417.9,2005.3"/><path d="M394.5,1924L398.2,1921.5L448.8,1935.1L451.8,1968.3L448.8,1974.5L397,1958.5Z" fill="#fff" stroke="#161616" stroke-width="2.2" stroke-linejoin="round"/><path class="t" d="M397,1926.4L447.5,1939.4"/><path class="t" d="M399.4,1954.8L448.1,1970.2"/><text x="0" y="0" transform="translate(399.2 1943.7) rotate(16) skewX(-8)" style="font-size:16px;font-weight:bold;text-anchor:start;letter-spacing:0.5px;fill:#fff" stroke="#161616" stroke-width="1.1">FUEL</text><text x="401.3" y="1953.5" transform="rotate(16 401.3 1953.5)" style="font-size:7.3px;font-weight:bold;text-anchor:start;letter-spacing:0.1px" stroke="#161616" stroke-width="0.6">BRUSHLESS</text>
<g class="k"><path d="M216.3,311V275H879.7V311"/><path d="M547.4,225V275"/><path d="M1430,311V275H2093.4V311"/><path d="M1761.4,225V275"/><path d="M2457.2,257.4H2492.7V424.7H2457.2"/><path d="M2492.7,341H2542.3"/><path d="M1571.6,724V688.9H2994.5V724"/><path d="M2280.2,639.5V689"/><path d="M750.5,1252.4H786V1419.7H750.5"/><path d="M786,1336.2H835.7"/><path d="M739.2,1724V1689.6H1134.5V1724"/><path d="M937,1640.6V1689.6"/><path d="M1752.4,1445V1410.3H2356V2043.6H2315"/><path d="M2054.9,1361V1410"/><path d="M2636.6,1312V1277.2H2994.5V1312"/><path d="M2815.6,1227V1277"/></g>
<g class="n"><path d="M349.2,275V403.6"/><path d="M748.3,275V477.7"/><path d="M1563.3,275V441.5"/><path d="M1873.7,275V384.3"/><path d="M1961.8,275V377.7"/><path d="M2405.4,309.2H2492"/><path d="M2408.4,372.9H2492"/><path d="M2875.2,248V338.8"/><path d="M1088,463V553.7"/><path d="M1632.7,689V742.6"/><path d="M1632.7,799V851.8"/><path d="M1695,689V785"/><path d="M1695,838V938"/><path d="M1744.2,689V826"/><path d="M1744.2,881.4V1011"/><path d="M1797.9,689V1126.9"/><path d="M1987,689V1083.2"/><path d="M2074,689V1048"/><path d="M2182.5,689V1010.3"/><path d="M2250.2,689V1014.7"/><path d="M2381,689V948"/><path d="M2497.4,689V912"/><path d="M2591.5,689V898"/><path d="M2723,689V844.4"/><path d="M2847,689V827"/><path d="M2933.7,689V812.2"/><path d="M1324.3,1173V1263"/><path d="M245.2,1250V1340.7"/><path d="M331.8,1250V1340.7"/><path d="M667.2,1303.3H786"/><path d="M701.7,1368H786"/><path d="M2733.8,1277V1379.6"/><path d="M2897,1277V1369.2"/><path d="M1843.6,1410V1503.6"/><path d="M1934.7,1410V1475.8"/><path d="M2009.9,1410V1452.8"/><path d="M2166,1735.5H2356"/><path d="M2281,1840.4H2356"/><path d="M2265.6,1951.6H2356"/><path d="M790.2,1690V1785"/><path d="M790.2,1842.5V1936.2"/><path d="M904.3,1690V1883.3"/><path d="M1020.7,1690V1748"/><path d="M1020.7,1801V1854.4"/><path d="M1077.4,1690V1840.7"/><path d="M1381.8,1638V1727"/><path d="M1559.5,1638V1726"/><path d="M419.2,1765.5V1856.2"/><path d="M245.2,1831.4V1921.4"/><path d="M2763.9,1766.5V1810.7"/><path d="M2877,1908.8V2007.4"/></g>
<g><text x="547.4" y="201.5">80</text><text x="1761.8" y="201.5">70</text><text x="2579.5" y="354.4">76</text><text x="2874" y="240">12</text><text x="1086.3" y="455.5">20</text><text x="2281.4" y="614.7">66</text><text x="1633.9" y="785">30</text><text x="1695.3" y="827.7">29</text><text x="1745" y="873.3">59</text><text x="1322.5" y="1164.6">25</text><text x="243.7" y="1240.7">27</text><text x="330.3" y="1240.7">28</text><text x="870" y="1349.2">81</text><text x="2815" y="1204.7">82</text><text x="2056.2" y="1342.5">69</text><text x="937.5" y="1625">68</text><text x="1379.5" y="1628.4">24</text><text x="1556.5" y="1628.4">62</text><text x="419.2" y="1757.4">19</text><text x="243.7" y="1822.2">20</text><text x="791.7" y="1832.2">18</text><text x="1020.7" y="1792.6">16</text><text x="2756.6" y="1753.4">702</text><text x="2875.6" y="2065.2">701</text></g>
</svg></body></html>
